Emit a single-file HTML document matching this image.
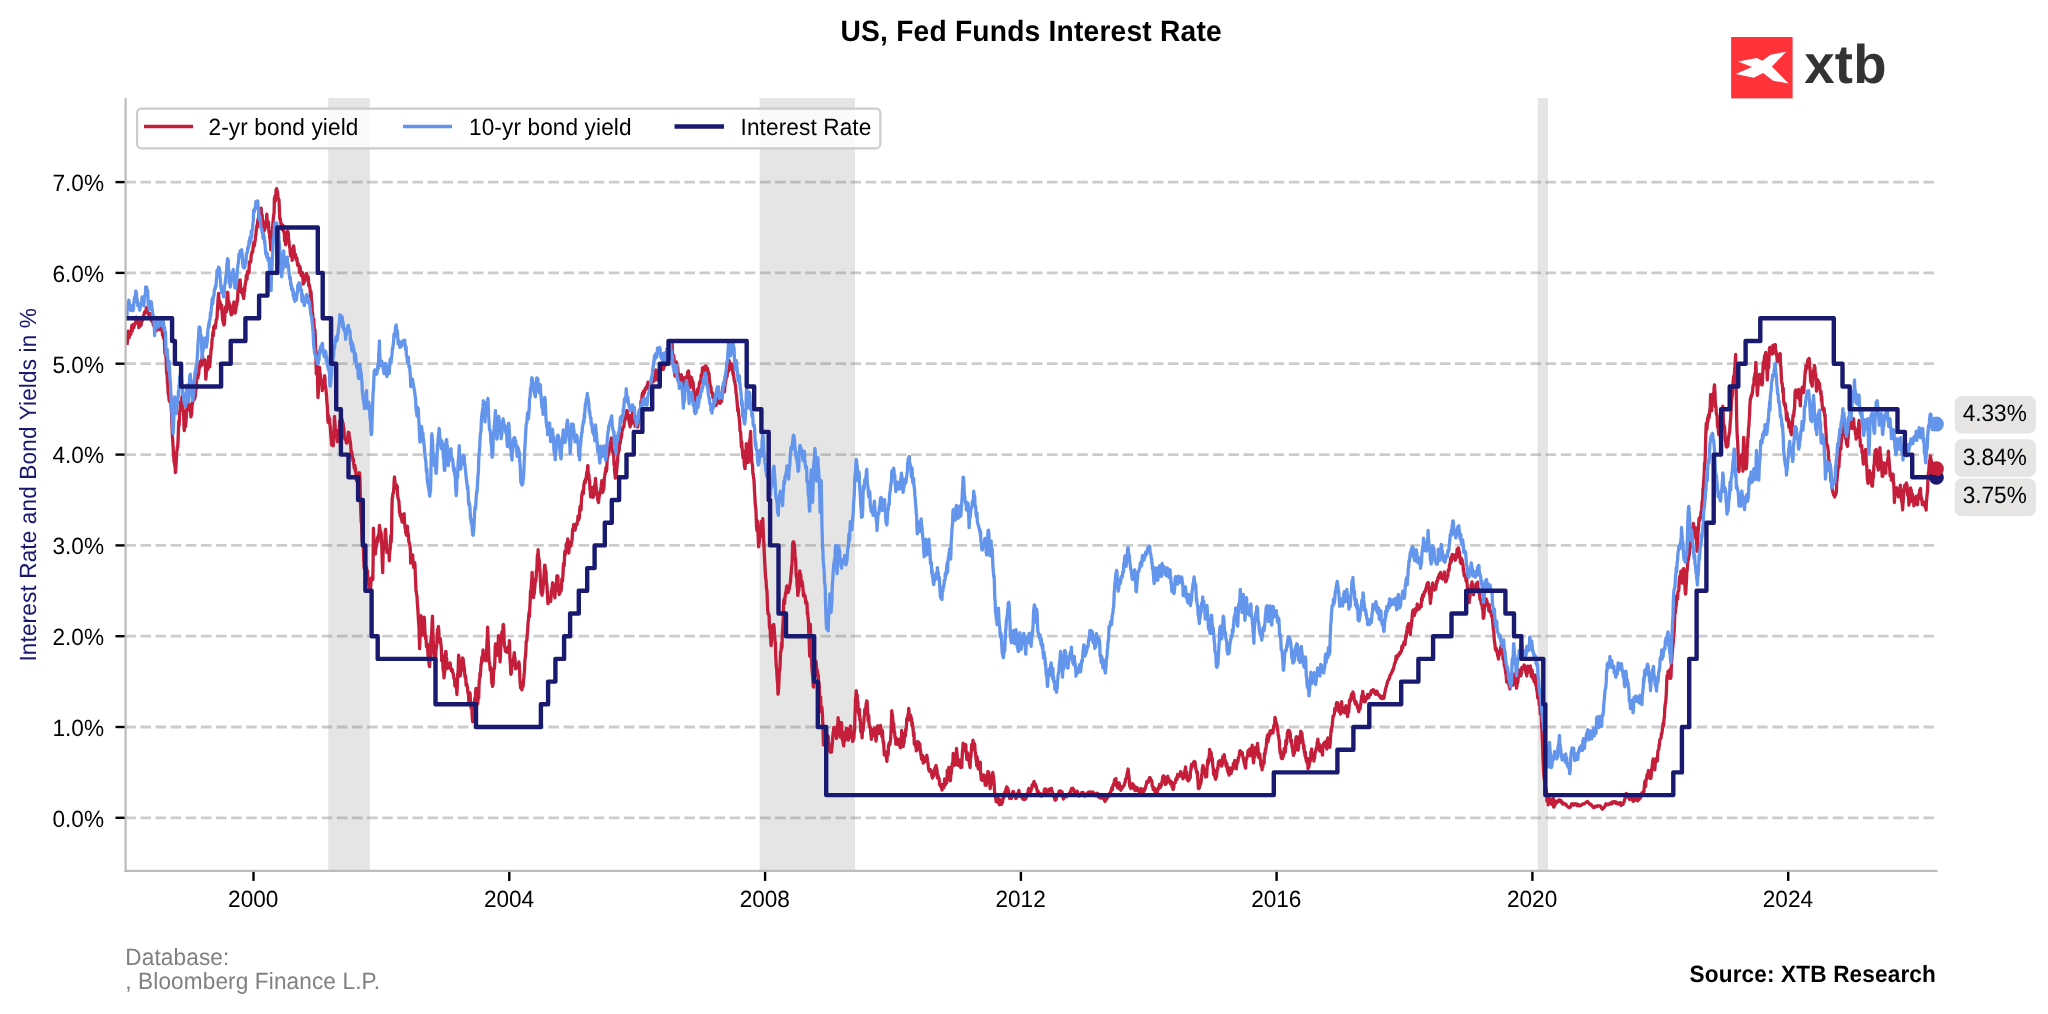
<!DOCTYPE html>
<html lang="en"><head><meta charset="utf-8"><title>US, Fed Funds Interest Rate</title>
<style>
html,body{margin:0;padding:0;background:#fff;}
body{width:2048px;height:1014px;overflow:hidden;position:relative;font-family:"Liberation Sans", Arial, Helvetica, sans-serif;}
svg{position:absolute;left:0;top:0;will-change:transform;}
text{font-family:"Liberation Sans", Arial, Helvetica, sans-serif;text-rendering:geometricPrecision;}
</style></head><body>
<svg width="2048" height="1014" viewBox="0 0 2048 1014">
<rect width="2048" height="1014" fill="#ffffff"/>
<rect x="328.2" y="98.0" width="41.6" height="772.9" fill="#e5e5e5"/>
<rect x="759.6" y="98.0" width="95.4" height="772.9" fill="#e5e5e5"/>
<rect x="1537.6" y="98.0" width="10.4" height="772.9" fill="#e5e5e5"/>
<line x1="125.3" x2="1935.0" y1="817.8" y2="817.8" stroke="#808080" stroke-opacity="0.4" stroke-width="2.8" stroke-dasharray="10.55 4.56"/>
<line x1="125.3" x2="1935.0" y1="727.0" y2="727.0" stroke="#808080" stroke-opacity="0.4" stroke-width="2.8" stroke-dasharray="10.55 4.56"/>
<line x1="125.3" x2="1935.0" y1="636.2" y2="636.2" stroke="#808080" stroke-opacity="0.4" stroke-width="2.8" stroke-dasharray="10.55 4.56"/>
<line x1="125.3" x2="1935.0" y1="545.4" y2="545.4" stroke="#808080" stroke-opacity="0.4" stroke-width="2.8" stroke-dasharray="10.55 4.56"/>
<line x1="125.3" x2="1935.0" y1="454.6" y2="454.6" stroke="#808080" stroke-opacity="0.4" stroke-width="2.8" stroke-dasharray="10.55 4.56"/>
<line x1="125.3" x2="1935.0" y1="363.7" y2="363.7" stroke="#808080" stroke-opacity="0.4" stroke-width="2.8" stroke-dasharray="10.55 4.56"/>
<line x1="125.3" x2="1935.0" y1="272.9" y2="272.9" stroke="#808080" stroke-opacity="0.4" stroke-width="2.8" stroke-dasharray="10.55 4.56"/>
<line x1="125.3" x2="1935.0" y1="182.1" y2="182.1" stroke="#808080" stroke-opacity="0.4" stroke-width="2.8" stroke-dasharray="10.55 4.56"/>
<circle cx="1936.4" cy="477.3" r="7.5" fill="#191970"/>
<circle cx="1936.4" cy="468.8" r="7.5" fill="#c41e3a"/>
<circle cx="1936.4" cy="424.1" r="7.5" fill="#6495ed"/>
<g fill="none" stroke-linejoin="round" stroke-linecap="butt">
<path d="M126.9 345.0 L127.2 342.9 L127.6 340.4 L127.9 333.3 L128.2 331.1 L128.6 333.4 L128.9 335.4 L129.2 337.5 L129.5 333.6 L129.9 332.4 L130.2 334.5 L130.5 333.5 L130.9 334.1 L131.2 332.0 L131.5 328.1 L131.9 325.5 L132.2 331.2 L132.5 327.4 L132.8 325.5 L133.2 324.5 L133.5 326.9 L133.8 327.8 L134.2 325.7 L134.5 324.7 L134.8 324.1 L135.2 323.8 L135.5 323.6 L135.8 321.1 L136.1 317.1 L136.5 320.8 L136.8 318.1 L137.1 319.8 L137.5 318.0 L137.8 320.4 L138.1 319.8 L138.5 321.6 L138.8 327.6 L139.1 324.2 L139.4 325.2 L139.8 322.2 L140.1 323.6 L140.4 326.1 L140.8 325.7 L141.1 324.8 L141.4 323.3 L141.8 320.3 L142.1 320.8 L142.4 317.9 L142.7 320.3 L143.1 316.7 L143.4 316.8 L143.7 315.1 L144.1 315.0 L144.4 312.4 L144.7 313.0 L145.1 311.4 L145.4 312.2 L145.7 311.2 L146.0 309.8 L146.4 307.7 L146.7 309.0 L147.0 310.1 L147.4 312.7 L147.7 311.5 L148.0 313.0 L148.4 314.1 L148.7 314.8 L149.0 314.9 L149.3 315.1 L149.7 314.3 L150.0 313.6 L150.3 314.6 L150.7 316.8 L151.0 319.9 L151.3 320.2 L151.7 320.9 L152.0 321.1 L152.3 321.8 L152.6 321.1 L153.0 322.4 L153.3 325.3 L153.6 321.8 L154.0 319.7 L154.3 326.4 L154.6 324.1 L155.0 325.7 L155.3 326.2 L155.6 321.3 L155.9 329.6 L156.3 330.7 L156.6 327.1 L156.9 327.8 L157.3 326.7 L157.6 323.8 L157.9 324.9 L158.3 326.5 L158.6 329.0 L158.9 328.7 L159.2 326.8 L159.6 329.7 L159.9 325.0 L160.2 327.7 L160.6 329.6 L160.9 327.0 L161.2 322.7 L161.6 324.2 L161.9 328.2 L162.2 330.6 L162.5 335.1 L162.9 331.2 L163.2 334.2 L163.5 338.1 L163.9 338.6 L164.2 334.2 L164.5 343.3 L164.9 352.7 L165.2 354.4 L165.5 352.1 L165.8 355.1 L166.2 360.1 L166.5 371.4 L166.8 373.2 L167.2 375.7 L167.5 383.7 L167.8 385.0 L168.2 393.8 L168.5 393.0 L168.8 396.6 L169.1 400.0 L169.5 401.3 L169.8 398.7 L170.1 395.9 L170.5 392.3 L170.8 399.6 L171.1 406.3 L171.5 412.8 L171.8 422.2 L172.1 427.3 L172.4 436.4 L172.8 441.9 L173.1 447.1 L173.4 452.7 L173.8 457.3 L174.1 462.2 L174.4 462.5 L174.8 465.7 L175.1 466.1 L175.4 472.6 L175.7 470.8 L176.1 463.4 L176.4 458.0 L176.7 451.8 L177.1 450.4 L177.4 446.6 L177.7 447.5 L178.1 439.3 L178.4 431.1 L178.7 421.4 L179.0 425.9 L179.4 421.1 L179.7 412.0 L180.0 410.7 L180.4 402.1 L180.7 409.9 L181.0 402.6 L181.4 400.2 L181.7 400.0 L182.0 396.4 L182.3 402.5 L182.7 402.2 L183.0 411.3 L183.3 410.0 L183.7 416.0 L184.0 426.6 L184.3 430.7 L184.7 423.6 L185.0 420.2 L185.3 425.2 L185.6 426.3 L186.0 421.4 L186.3 417.1 L186.6 411.8 L187.0 405.2 L187.3 401.0 L187.6 404.3 L188.0 405.2 L188.3 409.8 L188.6 406.0 L188.9 405.3 L189.3 403.7 L189.6 406.5 L189.9 405.1 L190.3 404.4 L190.6 411.7 L190.9 416.8 L191.3 415.1 L191.6 414.2 L191.9 409.6 L192.2 404.2 L192.6 403.3 L192.9 401.7 L193.2 398.8 L193.6 395.9 L193.9 395.2 L194.2 398.4 L194.6 399.3 L194.9 395.2 L195.2 397.0 L195.5 392.1 L195.9 389.6 L196.2 388.5 L196.5 380.6 L196.9 374.5 L197.2 378.7 L197.5 375.0 L197.9 378.1 L198.2 375.3 L198.5 375.1 L198.8 373.3 L199.2 364.2 L199.5 368.0 L199.8 364.4 L200.2 362.1 L200.5 361.3 L200.8 363.3 L201.2 364.6 L201.5 365.5 L201.8 358.7 L202.1 359.7 L202.5 355.3 L202.8 360.2 L203.1 363.3 L203.5 360.4 L203.8 362.1 L204.1 362.4 L204.5 364.4 L204.8 360.0 L205.1 363.1 L205.4 367.7 L205.8 379.2 L206.1 376.6 L206.4 369.9 L206.8 366.4 L207.1 367.3 L207.4 369.0 L207.8 369.4 L208.1 365.5 L208.4 359.4 L208.7 356.7 L209.1 365.0 L209.4 366.2 L209.7 366.8 L210.1 361.7 L210.4 358.0 L210.7 354.8 L211.1 349.7 L211.4 348.5 L211.7 346.4 L212.0 341.2 L212.4 337.7 L212.7 334.2 L213.0 332.1 L213.4 335.6 L213.7 326.8 L214.0 328.6 L214.4 327.0 L214.7 325.4 L215.0 326.0 L215.3 328.0 L215.7 324.9 L216.0 322.4 L216.3 319.5 L216.7 318.9 L217.0 318.3 L217.3 312.1 L217.7 305.6 L218.0 300.9 L218.3 297.3 L218.6 293.3 L219.0 300.7 L219.3 301.6 L219.6 301.0 L220.0 306.1 L220.3 302.6 L220.6 306.1 L221.0 309.0 L221.3 304.9 L221.6 305.1 L221.9 308.2 L222.3 315.4 L222.6 320.1 L222.9 316.6 L223.3 323.4 L223.6 323.3 L223.9 325.0 L224.3 324.7 L224.6 321.3 L224.9 313.7 L225.2 310.9 L225.6 307.0 L225.9 308.5 L226.2 311.2 L226.6 311.6 L226.9 301.5 L227.2 292.6 L227.6 292.3 L227.9 293.4 L228.2 302.9 L228.5 303.4 L228.9 301.4 L229.2 306.7 L229.5 308.5 L229.9 304.4 L230.2 307.2 L230.5 310.0 L230.9 312.7 L231.2 314.9 L231.5 314.7 L231.8 313.8 L232.2 310.1 L232.5 306.7 L232.8 310.8 L233.2 307.5 L233.5 306.2 L233.8 302.0 L234.2 305.5 L234.5 310.1 L234.8 306.8 L235.1 313.1 L235.5 311.0 L235.8 310.0 L236.1 306.7 L236.5 305.0 L236.8 305.5 L237.1 299.8 L237.5 301.5 L237.8 293.5 L238.1 288.7 L238.4 289.5 L238.8 282.9 L239.1 280.7 L239.4 282.8 L239.8 286.0 L240.1 279.9 L240.4 285.1 L240.8 291.3 L241.1 292.2 L241.4 289.7 L241.7 289.2 L242.1 291.0 L242.4 290.4 L242.7 293.8 L243.1 296.1 L243.4 296.8 L243.7 298.5 L244.1 293.8 L244.4 287.7 L244.7 291.2 L245.0 285.2 L245.4 283.6 L245.7 282.2 L246.0 279.7 L246.4 275.5 L246.7 274.7 L247.0 279.3 L247.4 272.3 L247.7 271.3 L248.0 273.9 L248.3 273.2 L248.7 272.6 L249.0 272.2 L249.3 263.3 L249.7 261.7 L250.0 262.3 L250.3 261.8 L250.7 262.2 L251.0 258.5 L251.3 254.4 L251.6 253.5 L252.0 251.9 L252.3 251.9 L252.6 252.4 L253.0 249.1 L253.3 245.7 L253.6 243.0 L254.0 246.0 L254.3 246.0 L254.6 243.9 L254.9 241.5 L255.3 239.5 L255.6 235.6 L255.9 235.0 L256.3 229.1 L256.6 228.4 L256.9 225.7 L257.3 227.1 L257.6 222.0 L257.9 219.9 L258.2 218.8 L258.6 219.1 L258.9 211.7 L259.2 208.7 L259.6 213.0 L259.9 209.3 L260.2 212.4 L260.6 210.8 L260.9 211.6 L261.2 208.2 L261.5 215.1 L261.9 215.0 L262.2 214.9 L262.5 223.9 L262.9 224.0 L263.2 232.2 L263.5 227.1 L263.9 224.2 L264.2 225.2 L264.5 230.2 L264.8 228.1 L265.2 227.8 L265.5 226.4 L265.8 221.0 L266.2 221.0 L266.5 218.2 L266.8 214.2 L267.2 220.0 L267.5 223.3 L267.8 224.3 L268.1 223.6 L268.5 222.0 L268.8 229.9 L269.1 232.9 L269.5 232.0 L269.8 238.4 L270.1 238.7 L270.5 245.1 L270.8 249.8 L271.1 248.9 L271.4 244.5 L271.8 240.1 L272.1 232.2 L272.4 228.9 L272.8 224.6 L273.1 220.8 L273.4 217.7 L273.8 214.5 L274.1 213.0 L274.4 198.1 L274.7 198.3 L275.1 196.0 L275.4 201.2 L275.7 198.3 L276.1 189.6 L276.4 191.5 L276.7 188.7 L277.1 193.5 L277.4 191.1 L277.7 194.3 L278.0 196.5 L278.4 198.7 L278.7 199.4 L279.0 199.8 L279.4 209.5 L279.7 217.2 L280.0 219.9 L280.4 219.1 L280.7 222.0 L281.0 224.3 L281.3 223.5 L281.7 224.1 L282.0 229.5 L282.3 225.7 L282.7 227.3 L283.0 225.5 L283.3 229.4 L283.7 231.7 L284.0 232.2 L284.3 233.4 L284.6 240.9 L285.0 238.3 L285.3 238.2 L285.6 244.8 L286.0 239.8 L286.3 233.0 L286.6 236.0 L287.0 232.7 L287.3 237.8 L287.6 231.0 L287.9 233.2 L288.3 233.1 L288.6 239.5 L288.9 240.3 L289.3 244.9 L289.6 247.3 L289.9 248.0 L290.3 253.3 L290.6 255.8 L290.9 255.1 L291.2 253.3 L291.6 253.3 L291.9 255.3 L292.2 260.3 L292.6 253.6 L292.9 250.0 L293.2 248.2 L293.6 245.9 L293.9 247.4 L294.2 250.7 L294.5 256.7 L294.9 256.3 L295.2 256.1 L295.5 254.4 L295.9 258.7 L296.2 259.8 L296.5 257.7 L296.9 257.9 L297.2 260.9 L297.5 264.9 L297.8 265.6 L298.2 265.2 L298.5 264.2 L298.8 266.0 L299.2 266.2 L299.5 272.5 L299.8 266.4 L300.2 267.3 L300.5 272.6 L300.8 270.8 L301.1 275.5 L301.5 273.7 L301.8 274.6 L302.1 274.5 L302.5 272.7 L302.8 274.1 L303.1 284.0 L303.5 283.6 L303.8 282.3 L304.1 282.4 L304.4 280.9 L304.8 281.3 L305.1 277.4 L305.4 276.0 L305.8 279.2 L306.1 276.7 L306.4 273.4 L306.8 275.5 L307.1 275.4 L307.4 278.7 L307.7 277.2 L308.1 276.6 L308.4 279.2 L308.7 285.8 L309.1 284.3 L309.4 285.4 L309.7 286.9 L310.1 289.5 L310.4 293.3 L310.7 297.1 L311.0 291.5 L311.4 299.6 L311.7 301.6 L312.0 304.2 L312.4 314.8 L312.7 313.0 L313.0 320.1 L313.4 321.7 L313.7 319.0 L314.0 324.3 L314.3 328.9 L314.7 331.7 L315.0 329.8 L315.3 339.1 L315.7 351.3 L316.0 360.0 L316.3 374.0 L316.7 362.5 L317.0 352.9 L317.3 353.5 L317.6 383.3 L318.0 397.5 L318.3 392.7 L318.6 386.8 L319.0 377.9 L319.3 371.4 L319.6 367.3 L320.0 373.9 L320.3 374.2 L320.6 378.6 L320.9 378.6 L321.3 381.4 L321.6 384.4 L321.9 381.5 L322.3 390.6 L322.6 386.8 L322.9 385.8 L323.3 383.3 L323.6 387.2 L323.9 386.7 L324.2 382.4 L324.6 375.6 L324.9 377.7 L325.2 385.1 L325.6 387.3 L325.9 389.2 L326.2 392.4 L326.6 396.6 L326.9 402.2 L327.2 404.5 L327.5 409.2 L327.9 420.4 L328.2 422.4 L328.5 415.6 L328.9 417.9 L329.2 418.4 L329.5 418.6 L329.9 424.6 L330.2 426.5 L330.5 430.4 L330.8 434.7 L331.2 438.8 L331.5 444.0 L331.8 445.1 L332.2 440.7 L332.5 442.7 L332.8 443.3 L333.2 445.8 L333.5 439.6 L333.8 435.5 L334.1 427.7 L334.5 416.4 L334.8 421.3 L335.1 425.8 L335.5 430.6 L335.8 429.8 L336.1 434.8 L336.5 434.8 L336.8 435.7 L337.1 439.7 L337.4 441.8 L337.8 440.1 L338.1 436.3 L338.4 430.3 L338.8 431.5 L339.1 434.3 L339.4 430.0 L339.8 420.7 L340.1 420.7 L340.4 424.0 L340.7 427.9 L341.1 427.2 L341.4 424.4 L341.7 422.7 L342.1 419.4 L342.4 421.2 L342.7 423.0 L343.1 423.3 L343.4 426.5 L343.7 427.2 L344.0 430.8 L344.4 436.6 L344.7 438.1 L345.0 439.3 L345.4 439.5 L345.7 437.8 L346.0 440.9 L346.4 442.8 L346.7 438.8 L347.0 443.1 L347.3 439.7 L347.7 440.1 L348.0 437.2 L348.3 432.2 L348.7 438.2 L349.0 432.6 L349.3 438.6 L349.7 438.1 L350.0 441.8 L350.3 441.6 L350.6 444.2 L351.0 450.0 L351.3 455.8 L351.6 451.4 L352.0 453.8 L352.3 458.4 L352.6 457.0 L353.0 461.1 L353.3 459.2 L353.6 463.2 L353.9 464.9 L354.3 468.4 L354.6 468.1 L354.9 465.3 L355.3 470.8 L355.6 469.1 L355.9 475.0 L356.3 480.1 L356.6 480.6 L356.9 477.4 L357.2 480.4 L357.6 478.2 L357.9 473.4 L358.2 473.9 L358.6 478.5 L358.9 474.8 L359.2 474.5 L359.6 472.8 L359.9 476.7 L360.2 489.8 L360.5 503.9 L360.9 515.5 L361.2 522.5 L361.5 522.0 L361.9 534.4 L362.2 540.4 L362.5 542.5 L362.9 542.5 L363.2 543.0 L363.5 550.6 L363.8 560.9 L364.2 568.3 L364.5 562.8 L364.8 565.0 L365.2 564.8 L365.5 568.7 L365.8 572.7 L366.2 569.6 L366.5 567.1 L366.8 571.1 L367.1 572.5 L367.5 570.8 L367.8 577.9 L368.1 577.4 L368.5 581.6 L368.8 578.7 L369.1 585.5 L369.5 581.9 L369.8 588.6 L370.1 584.1 L370.4 590.6 L370.8 585.4 L371.1 578.9 L371.4 578.8 L371.8 579.9 L372.1 577.0 L372.4 577.4 L372.8 579.6 L373.1 561.7 L373.4 528.2 L373.7 536.7 L374.1 548.0 L374.4 552.0 L374.7 552.9 L375.1 547.8 L375.4 554.0 L375.7 550.3 L376.1 546.7 L376.4 546.6 L376.7 545.1 L377.0 541.3 L377.4 537.6 L377.7 541.5 L378.0 541.2 L378.4 535.1 L378.7 535.6 L379.0 533.6 L379.4 525.4 L379.7 527.1 L380.0 529.8 L380.3 530.4 L380.7 535.6 L381.0 532.4 L381.3 534.9 L381.7 544.5 L382.0 554.1 L382.3 562.7 L382.7 572.7 L383.0 558.2 L383.3 546.6 L383.6 549.1 L384.0 548.3 L384.3 547.1 L384.6 547.1 L385.0 539.4 L385.3 529.6 L385.6 529.3 L386.0 537.8 L386.3 541.5 L386.6 544.8 L386.9 552.4 L387.3 551.3 L387.6 552.2 L387.9 551.0 L388.3 550.0 L388.6 551.9 L388.9 551.7 L389.3 560.8 L389.6 553.8 L389.9 550.7 L390.2 549.0 L390.6 539.4 L390.9 535.4 L391.2 542.0 L391.6 531.3 L391.9 510.2 L392.2 497.7 L392.6 497.1 L392.9 493.4 L393.2 493.6 L393.5 492.6 L393.9 486.4 L394.2 480.1 L394.5 476.8 L394.9 481.0 L395.2 485.1 L395.5 484.9 L395.9 485.1 L396.2 486.2 L396.5 484.9 L396.8 489.5 L397.2 486.1 L397.5 493.3 L397.8 496.8 L398.2 498.7 L398.5 500.0 L398.8 500.5 L399.2 505.8 L399.5 512.3 L399.8 511.7 L400.1 515.5 L400.5 514.1 L400.8 517.0 L401.1 515.5 L401.5 519.6 L401.8 520.2 L402.1 522.1 L402.5 518.3 L402.8 514.5 L403.1 514.5 L403.4 517.0 L403.8 518.0 L404.1 513.6 L404.4 519.8 L404.8 524.8 L405.1 528.4 L405.4 527.5 L405.8 533.2 L406.1 530.5 L406.4 535.2 L406.7 535.4 L407.1 534.8 L407.4 526.1 L407.7 532.1 L408.1 536.4 L408.4 534.0 L408.7 540.9 L409.1 542.2 L409.4 543.6 L409.7 544.3 L410.0 546.1 L410.4 550.4 L410.7 563.2 L411.0 561.6 L411.4 562.7 L411.7 559.1 L412.0 557.5 L412.4 556.6 L412.7 554.8 L413.0 561.6 L413.3 562.4 L413.7 567.4 L414.0 565.3 L414.3 567.5 L414.7 562.7 L415.0 565.8 L415.3 574.8 L415.7 582.8 L416.0 591.1 L416.3 591.5 L416.6 594.7 L417.0 596.0 L417.3 602.5 L417.6 606.0 L418.0 611.9 L418.3 617.6 L418.6 622.5 L419.0 627.4 L419.3 639.0 L419.6 648.7 L419.9 640.9 L420.3 628.0 L420.6 623.2 L420.9 615.6 L421.3 617.6 L421.6 622.1 L421.9 624.3 L422.3 629.3 L422.6 635.2 L422.9 629.5 L423.2 623.6 L423.6 623.6 L423.9 622.7 L424.2 617.1 L424.6 623.0 L424.9 631.1 L425.2 634.5 L425.6 638.9 L425.9 636.3 L426.2 642.0 L426.5 646.7 L426.9 643.5 L427.2 643.9 L427.5 645.3 L427.9 653.5 L428.2 656.1 L428.5 656.7 L428.9 663.1 L429.2 665.2 L429.5 666.7 L429.8 662.2 L430.2 657.5 L430.5 652.5 L430.8 640.7 L431.2 638.4 L431.5 635.9 L431.8 630.4 L432.2 620.5 L432.5 616.2 L432.8 628.0 L433.1 637.2 L433.5 646.0 L433.8 654.1 L434.1 655.8 L434.5 654.9 L434.8 651.5 L435.1 658.1 L435.5 663.8 L435.8 654.4 L436.1 648.9 L436.4 647.7 L436.8 643.9 L437.1 635.9 L437.4 633.0 L437.8 628.8 L438.1 633.5 L438.4 626.5 L438.8 630.9 L439.1 636.2 L439.4 638.9 L439.7 639.6 L440.1 642.5 L440.4 638.7 L440.7 642.6 L441.1 645.4 L441.4 649.8 L441.7 660.6 L442.1 654.4 L442.4 660.5 L442.7 659.4 L443.0 667.6 L443.4 671.7 L443.7 669.9 L444.0 677.9 L444.4 674.4 L444.7 671.7 L445.0 664.7 L445.4 656.8 L445.7 651.5 L446.0 651.5 L446.3 656.9 L446.7 659.6 L447.0 668.6 L447.3 666.2 L447.7 665.4 L448.0 665.4 L448.3 666.3 L448.7 665.2 L449.0 664.2 L449.3 667.8 L449.6 665.5 L450.0 663.0 L450.3 663.8 L450.6 667.7 L451.0 668.8 L451.3 670.7 L451.6 668.9 L452.0 670.1 L452.3 669.9 L452.6 672.6 L452.9 672.5 L453.3 674.5 L453.6 676.6 L453.9 678.0 L454.3 679.2 L454.6 679.9 L454.9 685.9 L455.3 684.2 L455.6 682.8 L455.9 687.3 L456.2 687.2 L456.6 689.1 L456.9 694.5 L457.2 688.2 L457.6 674.4 L457.9 673.7 L458.2 669.6 L458.6 655.2 L458.9 657.0 L459.2 667.1 L459.5 667.6 L459.9 675.0 L460.2 676.0 L460.5 675.2 L460.9 667.9 L461.2 671.1 L461.5 667.0 L461.9 666.3 L462.2 664.0 L462.5 657.8 L462.8 660.6 L463.2 659.1 L463.5 664.1 L463.8 664.6 L464.2 667.6 L464.5 670.2 L464.8 675.0 L465.2 677.8 L465.5 675.3 L465.8 678.6 L466.1 684.9 L466.5 685.6 L466.8 683.9 L467.1 686.2 L467.5 687.4 L467.8 692.4 L468.1 692.6 L468.5 694.7 L468.8 701.4 L469.1 694.6 L469.4 694.2 L469.8 692.8 L470.1 693.4 L470.4 700.9 L470.8 702.3 L471.1 708.2 L471.4 702.7 L471.8 706.0 L472.1 715.3 L472.4 719.1 L472.7 721.9 L473.1 720.5 L473.4 714.6 L473.7 710.2 L474.1 706.4 L474.4 704.9 L474.7 699.2 L475.1 697.5 L475.4 698.8 L475.7 691.0 L476.0 688.3 L476.4 691.9 L476.7 693.1 L477.0 695.5 L477.4 704.0 L477.7 703.7 L478.0 698.5 L478.4 697.6 L478.7 698.2 L479.0 685.8 L479.3 680.3 L479.7 678.2 L480.0 673.0 L480.3 676.3 L480.7 670.2 L481.0 664.6 L481.3 664.0 L481.7 659.1 L482.0 656.7 L482.3 656.5 L482.6 661.1 L483.0 650.0 L483.3 653.7 L483.6 657.1 L484.0 656.2 L484.3 658.9 L484.6 655.5 L485.0 654.7 L485.3 654.7 L485.6 653.6 L485.9 660.8 L486.3 656.3 L486.6 651.2 L486.9 644.4 L487.3 637.3 L487.6 627.1 L487.9 634.7 L488.3 643.4 L488.6 650.4 L488.9 658.7 L489.2 662.6 L489.6 662.7 L489.9 666.7 L490.2 670.2 L490.6 668.4 L490.9 667.6 L491.2 670.2 L491.6 679.0 L491.9 683.6 L492.2 682.1 L492.5 686.4 L492.9 685.3 L493.2 683.0 L493.5 674.0 L493.9 669.4 L494.2 669.2 L494.5 667.5 L494.9 660.7 L495.2 647.6 L495.5 643.9 L495.8 644.7 L496.2 647.8 L496.5 649.1 L496.8 652.0 L497.2 655.1 L497.5 655.2 L497.8 648.6 L498.2 642.3 L498.5 635.7 L498.8 637.2 L499.1 642.4 L499.5 651.0 L499.8 655.7 L500.1 661.8 L500.5 654.0 L500.8 647.9 L501.1 638.8 L501.5 638.5 L501.8 632.0 L502.1 637.4 L502.4 631.8 L502.8 630.5 L503.1 625.1 L503.4 624.4 L503.8 629.4 L504.1 640.4 L504.4 645.4 L504.8 647.1 L505.1 648.2 L505.4 651.3 L505.7 650.4 L506.1 647.8 L506.4 651.0 L506.7 651.0 L507.1 652.3 L507.4 651.4 L507.7 651.8 L508.1 652.0 L508.4 646.6 L508.7 649.3 L509.0 647.9 L509.4 640.7 L509.7 650.2 L510.0 660.1 L510.4 665.0 L510.7 673.6 L511.0 674.2 L511.4 672.4 L511.7 667.5 L512.0 666.0 L512.3 661.9 L512.7 660.4 L513.0 660.7 L513.3 659.2 L513.7 658.1 L514.0 654.4 L514.3 652.7 L514.7 657.3 L515.0 658.5 L515.3 665.2 L515.6 668.8 L516.0 668.4 L516.3 663.8 L516.6 665.2 L517.0 667.8 L517.3 664.9 L517.6 666.7 L518.0 667.0 L518.3 666.8 L518.6 664.4 L518.9 661.9 L519.3 664.9 L519.6 670.6 L519.9 678.9 L520.3 684.8 L520.6 687.8 L520.9 688.1 L521.3 688.2 L521.6 688.6 L521.9 689.8 L522.2 688.9 L522.6 682.2 L522.9 686.7 L523.2 685.6 L523.6 679.4 L523.9 677.4 L524.2 673.4 L524.6 668.6 L524.9 659.6 L525.2 658.3 L525.5 655.8 L525.9 650.2 L526.2 641.3 L526.5 641.8 L526.9 640.0 L527.2 635.4 L527.5 632.1 L527.9 626.4 L528.2 621.2 L528.5 620.2 L528.8 614.9 L529.2 612.0 L529.5 616.4 L529.8 608.0 L530.2 601.1 L530.5 591.4 L530.8 590.4 L531.2 589.3 L531.5 582.4 L531.8 578.9 L532.1 572.4 L532.5 582.0 L532.8 584.4 L533.1 591.2 L533.5 597.6 L533.8 594.7 L534.1 594.4 L534.5 590.7 L534.8 586.8 L535.1 583.5 L535.4 578.9 L535.8 581.2 L536.1 578.8 L536.4 571.0 L536.8 570.5 L537.1 562.6 L537.4 554.9 L537.8 556.5 L538.1 549.7 L538.4 556.5 L538.7 557.0 L539.1 560.2 L539.4 561.3 L539.7 567.9 L540.1 573.3 L540.4 580.5 L540.7 586.7 L541.1 592.8 L541.4 589.7 L541.7 592.8 L542.0 595.3 L542.4 592.1 L542.7 592.7 L543.0 588.2 L543.4 583.5 L543.7 580.3 L544.0 574.5 L544.4 568.0 L544.7 565.2 L545.0 565.5 L545.3 569.5 L545.7 574.1 L546.0 571.1 L546.3 581.0 L546.7 583.4 L547.0 586.3 L547.3 591.9 L547.7 599.4 L548.0 603.7 L548.3 600.9 L548.6 601.5 L549.0 597.0 L549.3 600.3 L549.6 600.6 L550.0 598.7 L550.3 600.1 L550.6 601.5 L551.0 598.5 L551.3 591.4 L551.6 594.0 L551.9 588.4 L552.3 586.2 L552.6 582.7 L552.9 585.5 L553.3 588.7 L553.6 590.3 L553.9 591.4 L554.3 593.5 L554.6 595.1 L554.9 597.9 L555.2 592.5 L555.6 590.1 L555.9 587.5 L556.2 583.6 L556.6 581.8 L556.9 575.9 L557.2 577.2 L557.6 575.9 L557.9 576.2 L558.2 585.3 L558.5 585.0 L558.9 591.9 L559.2 594.5 L559.5 591.1 L559.9 590.3 L560.2 592.5 L560.5 590.4 L560.9 589.2 L561.2 590.6 L561.5 586.7 L561.8 579.3 L562.2 578.5 L562.5 581.2 L562.8 576.9 L563.2 570.3 L563.5 563.3 L563.8 564.8 L564.2 565.7 L564.5 557.7 L564.8 551.5 L565.1 555.3 L565.5 552.3 L565.8 550.7 L566.1 548.7 L566.5 543.7 L566.8 543.3 L567.1 542.5 L567.5 541.7 L567.8 539.0 L568.1 542.5 L568.4 546.0 L568.8 553.0 L569.1 549.0 L569.4 547.2 L569.8 543.4 L570.1 542.1 L570.4 542.6 L570.8 546.1 L571.1 543.2 L571.4 543.5 L571.7 541.4 L572.1 539.6 L572.4 533.8 L572.7 528.8 L573.1 529.1 L573.4 527.6 L573.7 524.5 L574.1 526.4 L574.4 528.6 L574.7 528.0 L575.0 530.0 L575.4 528.9 L575.7 525.2 L576.0 524.8 L576.4 523.7 L576.7 524.9 L577.0 524.8 L577.4 521.5 L577.7 521.7 L578.0 516.1 L578.3 516.0 L578.7 519.7 L579.0 517.6 L579.3 518.1 L579.7 510.1 L580.0 507.1 L580.3 506.3 L580.7 509.3 L581.0 510.0 L581.3 502.6 L581.6 497.8 L582.0 494.6 L582.3 492.3 L582.6 493.8 L583.0 490.4 L583.3 493.8 L583.6 490.3 L584.0 484.1 L584.3 483.2 L584.6 481.2 L584.9 482.5 L585.3 482.6 L585.6 478.6 L585.9 479.6 L586.3 477.5 L586.6 473.7 L586.9 472.1 L587.3 471.4 L587.6 467.1 L587.9 465.6 L588.2 473.1 L588.6 474.0 L588.9 474.6 L589.2 480.1 L589.6 480.6 L589.9 488.3 L590.2 490.3 L590.6 496.8 L590.9 495.2 L591.2 494.6 L591.5 496.9 L591.9 493.1 L592.2 487.5 L592.5 494.5 L592.9 491.7 L593.2 497.4 L593.5 494.9 L593.9 490.1 L594.2 493.9 L594.5 486.5 L594.8 484.8 L595.2 482.9 L595.5 478.5 L595.8 484.1 L596.2 486.7 L596.5 493.2 L596.8 494.9 L597.2 492.7 L597.5 496.4 L597.8 500.3 L598.1 499.6 L598.5 502.6 L598.8 499.2 L599.1 496.8 L599.5 495.2 L599.8 492.1 L600.1 492.1 L600.5 490.4 L600.8 488.7 L601.1 486.9 L601.4 483.9 L601.8 480.6 L602.1 487.3 L602.4 492.5 L602.8 491.6 L603.1 491.5 L603.4 489.1 L603.8 489.1 L604.1 484.3 L604.4 477.3 L604.7 476.0 L605.1 473.1 L605.4 472.5 L605.7 469.4 L606.1 467.4 L606.4 471.2 L606.7 469.5 L607.1 460.4 L607.4 457.6 L607.7 456.8 L608.0 455.2 L608.4 450.7 L608.7 453.9 L609.0 446.8 L609.4 449.7 L609.7 449.4 L610.0 445.4 L610.4 442.3 L610.7 442.0 L611.0 441.1 L611.3 437.8 L611.7 441.1 L612.0 448.8 L612.3 451.4 L612.7 452.2 L613.0 451.6 L613.3 453.1 L613.7 454.2 L614.0 464.7 L614.3 461.5 L614.6 471.1 L615.0 474.6 L615.3 478.2 L615.6 477.1 L616.0 473.0 L616.3 475.3 L616.6 471.3 L617.0 467.0 L617.3 463.4 L617.6 461.2 L617.9 455.0 L618.3 453.3 L618.6 450.3 L618.9 451.0 L619.3 449.4 L619.6 440.7 L619.9 440.7 L620.3 443.2 L620.6 437.0 L620.9 434.4 L621.2 438.4 L621.6 435.4 L621.9 432.5 L622.2 428.5 L622.6 429.8 L622.9 427.1 L623.2 427.4 L623.6 427.0 L623.9 426.7 L624.2 422.9 L624.5 420.4 L624.9 420.2 L625.2 419.0 L625.5 418.4 L625.9 415.6 L626.2 414.4 L626.5 412.2 L626.9 410.5 L627.2 411.0 L627.5 415.5 L627.8 413.6 L628.2 417.2 L628.5 418.8 L628.8 419.8 L629.2 422.7 L629.5 421.5 L629.8 425.3 L630.2 426.8 L630.5 415.6 L630.8 420.6 L631.1 421.4 L631.5 423.6 L631.8 415.6 L632.1 414.7 L632.5 413.7 L632.8 409.0 L633.1 411.3 L633.5 412.7 L633.8 411.8 L634.1 412.1 L634.4 415.4 L634.8 423.8 L635.1 426.3 L635.4 417.4 L635.8 416.8 L636.1 422.8 L636.4 423.4 L636.8 423.0 L637.1 426.2 L637.4 426.6 L637.7 427.0 L638.1 424.2 L638.4 418.4 L638.7 419.9 L639.1 414.6 L639.4 415.6 L639.7 413.8 L640.1 410.7 L640.4 408.8 L640.7 406.7 L641.0 401.0 L641.4 401.3 L641.7 401.6 L642.0 396.2 L642.4 393.5 L642.7 397.1 L643.0 396.8 L643.4 391.1 L643.7 392.6 L644.0 391.2 L644.3 392.9 L644.7 390.5 L645.0 389.8 L645.3 388.3 L645.7 389.5 L646.0 389.0 L646.3 387.3 L646.7 386.9 L647.0 385.6 L647.3 387.2 L647.6 384.3 L648.0 382.2 L648.3 383.4 L648.6 387.9 L649.0 386.9 L649.3 389.1 L649.6 390.4 L650.0 388.7 L650.3 389.5 L650.6 388.5 L650.9 386.6 L651.3 383.8 L651.6 383.7 L651.9 380.6 L652.3 381.3 L652.6 380.4 L652.9 381.7 L653.3 381.4 L653.6 379.0 L653.9 380.6 L654.2 381.0 L654.6 378.2 L654.9 375.2 L655.2 375.9 L655.6 370.0 L655.9 371.2 L656.2 374.3 L656.6 378.1 L656.9 374.4 L657.2 377.5 L657.5 380.1 L657.9 379.9 L658.2 370.7 L658.5 373.8 L658.9 372.0 L659.2 372.2 L659.5 368.9 L659.9 366.4 L660.2 366.4 L660.5 369.8 L660.8 369.2 L661.2 366.4 L661.5 366.8 L661.8 368.1 L662.2 369.2 L662.5 369.0 L662.8 368.4 L663.2 368.9 L663.5 369.3 L663.8 367.7 L664.1 363.9 L664.5 362.1 L664.8 366.0 L665.1 362.0 L665.5 359.6 L665.8 361.2 L666.1 364.3 L666.5 364.2 L666.8 359.6 L667.1 356.2 L667.4 355.6 L667.8 353.9 L668.1 353.5 L668.4 354.9 L668.8 351.2 L669.1 350.0 L669.4 350.1 L669.8 350.0 L670.1 347.5 L670.4 346.0 L670.7 344.6 L671.1 345.7 L671.4 349.4 L671.7 349.0 L672.1 343.0 L672.4 352.1 L672.7 355.0 L673.1 355.8 L673.4 359.1 L673.7 355.3 L674.0 357.9 L674.4 366.7 L674.7 372.9 L675.0 376.0 L675.4 369.0 L675.7 367.4 L676.0 367.8 L676.4 362.0 L676.7 368.0 L677.0 365.4 L677.3 368.4 L677.7 366.9 L678.0 371.2 L678.3 372.9 L678.7 377.3 L679.0 374.8 L679.3 377.9 L679.7 383.0 L680.0 376.7 L680.3 377.7 L680.6 377.7 L681.0 374.9 L681.3 374.8 L681.6 378.9 L682.0 379.8 L682.3 378.9 L682.6 379.1 L683.0 377.7 L683.3 381.8 L683.6 388.6 L683.9 390.5 L684.3 383.8 L684.6 378.5 L684.9 378.8 L685.3 379.7 L685.6 377.5 L685.9 377.0 L686.3 377.8 L686.6 378.7 L686.9 376.8 L687.2 378.2 L687.6 371.9 L687.9 373.9 L688.2 373.9 L688.6 370.9 L688.9 378.1 L689.2 375.5 L689.6 376.6 L689.9 387.7 L690.2 386.7 L690.5 383.3 L690.9 383.7 L691.2 382.4 L691.5 377.5 L691.9 380.1 L692.2 383.3 L692.5 381.3 L692.9 381.7 L693.2 383.4 L693.5 388.8 L693.8 390.1 L694.2 392.7 L694.5 393.3 L694.8 395.1 L695.2 399.2 L695.5 402.2 L695.8 402.3 L696.2 398.0 L696.5 397.8 L696.8 395.7 L697.1 395.1 L697.5 390.5 L697.8 388.9 L698.1 389.9 L698.5 391.8 L698.8 388.3 L699.1 386.1 L699.5 382.6 L699.8 381.8 L700.1 383.4 L700.4 382.8 L700.8 382.4 L701.1 375.3 L701.4 377.8 L701.8 373.8 L702.1 374.9 L702.4 368.0 L702.8 369.7 L703.1 367.6 L703.4 371.0 L703.7 369.2 L704.1 370.7 L704.4 367.1 L704.7 370.3 L705.1 366.1 L705.4 370.3 L705.7 367.3 L706.1 366.1 L706.4 370.0 L706.7 369.2 L707.0 369.9 L707.4 368.1 L707.7 369.6 L708.0 371.3 L708.4 372.0 L708.7 375.6 L709.0 373.4 L709.4 379.9 L709.7 380.9 L710.0 385.7 L710.3 385.4 L710.7 386.1 L711.0 388.0 L711.3 390.5 L711.7 392.7 L712.0 392.4 L712.3 392.5 L712.7 395.6 L713.0 397.8 L713.3 394.6 L713.6 395.5 L714.0 397.1 L714.3 402.7 L714.6 404.4 L715.0 405.0 L715.3 405.5 L715.6 403.5 L716.0 405.5 L716.3 402.8 L716.6 400.7 L716.9 404.0 L717.3 398.7 L717.6 401.4 L717.9 399.6 L718.3 396.6 L718.6 397.2 L718.9 396.3 L719.3 398.1 L719.6 397.5 L719.9 396.7 L720.2 403.4 L720.6 399.9 L720.9 402.0 L721.2 400.6 L721.6 401.4 L721.9 396.0 L722.2 393.8 L722.6 387.0 L722.9 393.0 L723.2 392.5 L723.5 387.7 L723.9 389.4 L724.2 388.3 L724.5 391.9 L724.9 385.7 L725.2 384.0 L725.5 381.7 L725.9 380.0 L726.2 376.9 L726.5 374.2 L726.8 375.3 L727.2 376.3 L727.5 369.2 L727.8 366.2 L728.2 367.2 L728.5 371.3 L728.8 366.3 L729.2 360.5 L729.5 364.8 L729.8 365.4 L730.1 368.2 L730.5 364.3 L730.8 369.0 L731.1 363.7 L731.5 367.2 L731.8 366.9 L732.1 364.1 L732.5 366.7 L732.8 372.6 L733.1 374.7 L733.4 372.4 L733.8 377.1 L734.1 379.3 L734.4 381.3 L734.8 381.8 L735.1 384.6 L735.4 384.7 L735.8 389.1 L736.1 393.3 L736.4 394.3 L736.7 397.7 L737.1 402.0 L737.4 405.4 L737.7 410.6 L738.1 408.1 L738.4 410.9 L738.7 415.2 L739.1 416.5 L739.4 421.0 L739.7 423.1 L740.0 430.8 L740.4 432.0 L740.7 432.4 L741.0 439.8 L741.4 446.9 L741.7 441.6 L742.0 447.1 L742.4 450.6 L742.7 454.5 L743.0 457.6 L743.3 454.7 L743.7 451.4 L744.0 459.2 L744.3 464.8 L744.7 467.3 L745.0 468.7 L745.3 461.0 L745.7 464.0 L746.0 451.6 L746.3 443.6 L746.6 446.7 L747.0 449.4 L747.3 453.3 L747.6 455.7 L748.0 462.0 L748.3 462.3 L748.6 454.2 L749.0 454.0 L749.3 446.1 L749.6 439.9 L749.9 443.0 L750.3 436.7 L750.6 431.3 L750.9 443.4 L751.3 450.8 L751.6 460.2 L751.9 462.9 L752.3 464.0 L752.6 466.9 L752.9 474.0 L753.2 473.6 L753.6 478.3 L753.9 478.6 L754.2 484.6 L754.6 493.1 L754.9 496.8 L755.2 503.3 L755.6 507.4 L755.9 508.8 L756.2 517.1 L756.5 526.3 L756.9 530.5 L757.2 520.6 L757.5 522.4 L757.9 528.2 L758.2 538.0 L758.5 546.8 L758.9 541.7 L759.2 543.2 L759.5 538.6 L759.8 535.0 L760.2 536.9 L760.5 536.6 L760.8 534.7 L761.2 521.4 L761.5 521.9 L761.8 525.6 L762.2 531.9 L762.5 521.8 L762.8 518.7 L763.1 527.4 L763.5 539.6 L763.8 541.3 L764.1 549.5 L764.5 557.7 L764.8 563.6 L765.1 569.2 L765.5 576.1 L765.8 579.6 L766.1 580.2 L766.4 587.7 L766.8 589.1 L767.1 593.7 L767.4 602.9 L767.8 611.3 L768.1 614.0 L768.4 614.5 L768.8 614.0 L769.1 616.5 L769.4 626.4 L769.7 628.4 L770.1 626.9 L770.4 637.1 L770.7 640.0 L771.1 645.5 L771.4 642.1 L771.7 630.8 L772.1 628.6 L772.4 626.9 L772.7 625.4 L773.0 629.6 L773.4 624.7 L773.7 624.4 L774.0 626.3 L774.4 632.4 L774.7 636.1 L775.0 641.0 L775.4 643.1 L775.7 655.3 L776.0 660.8 L776.3 667.0 L776.7 668.9 L777.0 675.8 L777.3 679.5 L777.7 684.7 L778.0 694.1 L778.3 692.5 L778.7 686.7 L779.0 679.1 L779.3 671.5 L779.6 671.0 L780.0 667.8 L780.3 658.8 L780.6 652.1 L781.0 651.1 L781.3 648.8 L781.6 642.9 L782.0 647.7 L782.3 635.4 L782.6 629.6 L782.9 624.2 L783.3 618.6 L783.6 603.4 L783.9 599.7 L784.3 603.6 L784.6 603.6 L784.9 597.9 L785.3 595.9 L785.6 592.3 L785.9 594.3 L786.2 590.5 L786.6 586.3 L786.9 585.9 L787.2 589.6 L787.6 586.3 L787.9 591.1 L788.2 592.4 L788.6 591.3 L788.9 589.3 L789.2 589.3 L789.5 585.8 L789.9 585.2 L790.2 582.8 L790.5 581.7 L790.9 575.4 L791.2 573.3 L791.5 567.3 L791.9 565.8 L792.2 560.1 L792.5 550.6 L792.8 542.8 L793.2 541.9 L793.5 544.7 L793.8 541.9 L794.2 544.3 L794.5 546.2 L794.8 550.6 L795.2 558.8 L795.5 558.7 L795.8 563.2 L796.1 573.5 L796.5 577.4 L796.8 577.1 L797.1 586.7 L797.5 586.8 L797.8 595.4 L798.1 593.3 L798.5 591.2 L798.8 590.8 L799.1 582.2 L799.4 575.0 L799.8 570.8 L800.1 573.1 L800.4 573.8 L800.8 574.8 L801.1 583.1 L801.4 585.9 L801.8 584.7 L802.1 581.5 L802.4 583.4 L802.7 585.8 L803.1 590.0 L803.4 595.6 L803.7 592.8 L804.1 595.1 L804.4 594.8 L804.7 596.9 L805.1 596.0 L805.4 599.3 L805.7 603.1 L806.0 600.7 L806.4 601.8 L806.7 604.7 L807.0 603.1 L807.4 614.5 L807.7 612.5 L808.0 617.5 L808.4 620.5 L808.7 631.2 L809.0 636.2 L809.3 643.7 L809.7 656.1 L810.0 635.0 L810.3 624.2 L810.7 635.1 L811.0 645.7 L811.3 653.3 L811.7 664.4 L812.0 669.6 L812.3 673.2 L812.6 675.1 L813.0 681.8 L813.3 686.7 L813.6 687.0 L814.0 680.9 L814.3 680.1 L814.6 675.4 L815.0 670.3 L815.3 671.4 L815.6 662.6 L815.9 661.0 L816.3 664.1 L816.6 668.7 L816.9 669.0 L817.3 671.1 L817.6 671.3 L817.9 676.1 L818.3 675.2 L818.6 682.9 L818.9 681.9 L819.2 684.8 L819.6 698.3 L819.9 700.0 L820.2 701.3 L820.6 696.8 L820.9 705.9 L821.2 711.7 L821.6 709.2 L821.9 707.4 L822.2 710.9 L822.5 715.8 L822.9 727.1 L823.2 736.5 L823.5 744.9 L823.9 742.9 L824.2 739.5 L824.5 739.2 L824.9 736.2 L825.2 733.6 L825.5 734.5 L825.8 738.4 L826.2 737.8 L826.5 739.1 L826.8 737.7 L827.2 736.6 L827.5 735.4 L827.8 738.7 L828.2 736.4 L828.5 742.8 L828.8 743.4 L829.1 749.9 L829.5 748.2 L829.8 750.6 L830.1 752.0 L830.5 751.0 L830.8 752.2 L831.1 750.5 L831.5 752.1 L831.8 748.6 L832.1 746.2 L832.4 741.9 L832.8 736.0 L833.1 733.1 L833.4 732.5 L833.8 727.5 L834.1 728.4 L834.4 730.5 L834.8 728.0 L835.1 730.5 L835.4 732.3 L835.7 729.9 L836.1 735.7 L836.4 738.6 L836.7 728.6 L837.1 732.8 L837.4 725.1 L837.7 727.2 L838.1 717.7 L838.4 721.3 L838.7 723.3 L839.0 723.8 L839.4 728.3 L839.7 732.2 L840.0 737.0 L840.4 736.9 L840.7 732.7 L841.0 722.5 L841.4 722.7 L841.7 728.2 L842.0 731.9 L842.3 739.9 L842.7 735.4 L843.0 742.2 L843.3 743.3 L843.7 745.9 L844.0 741.7 L844.3 741.0 L844.7 741.2 L845.0 739.6 L845.3 731.8 L845.6 733.2 L846.0 730.7 L846.3 734.7 L846.6 728.2 L847.0 735.9 L847.3 735.8 L847.6 735.5 L848.0 737.8 L848.3 740.1 L848.6 735.8 L848.9 732.9 L849.3 735.1 L849.6 729.0 L849.9 728.3 L850.3 726.3 L850.6 726.0 L850.9 730.1 L851.3 737.3 L851.6 735.7 L851.9 736.9 L852.2 737.1 L852.6 741.4 L852.9 741.3 L853.2 739.6 L853.6 737.8 L853.9 738.2 L854.2 731.7 L854.6 730.6 L854.9 717.2 L855.2 709.7 L855.5 698.7 L855.9 696.0 L856.2 690.7 L856.5 694.6 L856.9 695.6 L857.2 694.8 L857.5 701.5 L857.9 701.8 L858.2 710.3 L858.5 712.4 L858.8 712.5 L859.2 715.8 L859.5 709.4 L859.8 720.0 L860.2 718.8 L860.5 723.4 L860.8 731.6 L861.2 725.3 L861.5 728.8 L861.8 734.1 L862.1 737.8 L862.5 729.6 L862.8 727.1 L863.1 730.9 L863.5 724.5 L863.8 724.0 L864.1 716.9 L864.5 714.2 L864.8 709.2 L865.1 711.5 L865.4 712.8 L865.8 708.5 L866.1 704.3 L866.4 702.7 L866.8 700.9 L867.1 701.4 L867.4 706.9 L867.8 715.0 L868.1 720.9 L868.4 717.8 L868.7 715.3 L869.1 724.1 L869.4 725.2 L869.7 727.1 L870.1 727.6 L870.4 727.5 L870.7 732.6 L871.1 736.2 L871.4 739.3 L871.7 734.6 L872.0 737.0 L872.4 733.1 L872.7 730.9 L873.0 731.3 L873.4 729.1 L873.7 735.0 L874.0 731.5 L874.4 729.0 L874.7 727.9 L875.0 731.4 L875.3 733.1 L875.7 737.8 L876.0 741.0 L876.3 739.3 L876.7 731.7 L877.0 730.4 L877.3 729.7 L877.7 725.8 L878.0 730.1 L878.3 730.7 L878.6 732.1 L879.0 733.4 L879.3 729.3 L879.6 732.8 L880.0 731.3 L880.3 725.4 L880.6 727.1 L881.0 730.6 L881.3 729.3 L881.6 731.6 L881.9 736.6 L882.3 730.3 L882.6 733.0 L882.9 739.3 L883.3 743.2 L883.6 741.7 L883.9 747.8 L884.3 754.9 L884.6 753.3 L884.9 753.4 L885.2 753.9 L885.6 751.8 L885.9 755.9 L886.2 756.7 L886.6 759.1 L886.9 761.3 L887.2 756.4 L887.6 754.1 L887.9 752.5 L888.2 754.6 L888.5 745.3 L888.9 745.4 L889.2 743.0 L889.5 743.4 L889.9 744.6 L890.2 742.0 L890.5 740.2 L890.9 734.6 L891.2 727.2 L891.5 720.2 L891.8 710.6 L892.2 714.5 L892.5 714.9 L892.8 719.5 L893.2 724.2 L893.5 723.1 L893.8 724.6 L894.2 732.0 L894.5 731.4 L894.8 734.9 L895.1 738.1 L895.5 737.3 L895.8 744.1 L896.1 740.6 L896.5 744.1 L896.8 744.2 L897.1 738.9 L897.5 743.6 L897.8 743.5 L898.1 744.3 L898.4 741.5 L898.8 739.3 L899.1 740.5 L899.4 742.3 L899.8 746.5 L900.1 745.9 L900.4 747.8 L900.8 745.1 L901.1 737.9 L901.4 738.6 L901.7 730.4 L902.1 736.3 L902.4 736.8 L902.7 740.8 L903.1 746.7 L903.4 744.0 L903.7 741.1 L904.1 742.8 L904.4 736.5 L904.7 733.5 L905.0 736.6 L905.4 735.8 L905.7 729.1 L906.0 730.5 L906.4 727.5 L906.7 719.4 L907.0 718.1 L907.4 719.0 L907.7 718.5 L908.0 714.3 L908.3 715.9 L908.7 708.5 L909.0 710.9 L909.3 720.0 L909.7 715.7 L910.0 718.9 L910.3 714.8 L910.7 716.8 L911.0 716.5 L911.3 719.6 L911.6 718.9 L912.0 725.8 L912.3 722.5 L912.6 725.3 L913.0 728.3 L913.3 731.9 L913.6 735.8 L914.0 732.9 L914.3 744.2 L914.6 743.4 L914.9 744.4 L915.3 743.2 L915.6 746.7 L915.9 745.5 L916.3 750.9 L916.6 748.7 L916.9 747.9 L917.3 743.0 L917.6 741.5 L917.9 744.0 L918.2 744.6 L918.6 743.9 L918.9 742.3 L919.2 748.9 L919.6 744.3 L919.9 744.4 L920.2 751.6 L920.6 750.3 L920.9 755.2 L921.2 755.1 L921.5 759.0 L921.9 759.6 L922.2 757.5 L922.5 755.3 L922.9 758.9 L923.2 763.1 L923.5 762.8 L923.9 757.2 L924.2 759.5 L924.5 759.3 L924.8 759.2 L925.2 757.6 L925.5 761.3 L925.8 757.4 L926.2 760.5 L926.5 756.5 L926.8 755.3 L927.2 758.2 L927.5 760.8 L927.8 762.2 L928.1 763.9 L928.5 767.9 L928.8 769.9 L929.1 770.5 L929.5 771.3 L929.8 770.2 L930.1 769.8 L930.5 769.7 L930.8 771.8 L931.1 771.6 L931.4 773.1 L931.8 775.6 L932.1 776.3 L932.4 778.1 L932.8 774.9 L933.1 772.0 L933.4 771.6 L933.8 775.7 L934.1 773.4 L934.4 769.5 L934.7 770.5 L935.1 767.6 L935.4 770.5 L935.7 766.9 L936.1 765.5 L936.4 769.2 L936.7 768.3 L937.1 771.3 L937.4 777.8 L937.7 778.1 L938.0 775.4 L938.4 777.1 L938.7 778.7 L939.0 778.3 L939.4 781.3 L939.7 784.8 L940.0 783.9 L940.4 786.2 L940.7 786.2 L941.0 786.7 L941.3 784.6 L941.7 788.0 L942.0 790.1 L942.3 786.7 L942.7 784.6 L943.0 787.6 L943.3 786.4 L943.7 787.9 L944.0 786.0 L944.3 783.2 L944.6 778.8 L945.0 784.0 L945.3 785.0 L945.6 782.5 L946.0 781.9 L946.3 778.7 L946.6 782.9 L947.0 780.1 L947.3 770.2 L947.6 772.4 L947.9 771.9 L948.3 771.5 L948.6 770.1 L948.9 767.3 L949.3 772.1 L949.6 775.7 L949.9 774.9 L950.3 780.9 L950.6 778.5 L950.9 773.6 L951.2 773.6 L951.6 768.0 L951.9 768.0 L952.2 764.1 L952.6 762.8 L952.9 762.4 L953.2 753.5 L953.6 757.8 L953.9 760.6 L954.2 761.1 L954.5 764.8 L954.9 765.3 L955.2 760.5 L955.5 755.3 L955.9 756.3 L956.2 754.7 L956.5 748.5 L956.9 752.6 L957.2 755.2 L957.5 764.1 L957.8 764.7 L958.2 760.6 L958.5 765.6 L958.8 763.1 L959.2 760.6 L959.5 760.0 L959.8 760.4 L960.2 762.3 L960.5 766.3 L960.8 767.5 L961.1 766.5 L961.5 766.6 L961.8 767.3 L962.1 758.0 L962.5 750.2 L962.8 749.0 L963.1 743.1 L963.5 749.2 L963.8 744.3 L964.1 744.7 L964.4 745.1 L964.8 750.4 L965.1 744.8 L965.4 746.9 L965.8 744.6 L966.1 753.0 L966.4 753.4 L966.8 759.3 L967.1 755.6 L967.4 752.7 L967.7 753.1 L968.1 757.5 L968.4 755.9 L968.7 760.7 L969.1 761.5 L969.4 763.7 L969.7 764.9 L970.1 767.6 L970.4 758.8 L970.7 757.6 L971.0 756.2 L971.4 749.9 L971.7 744.4 L972.0 749.2 L972.4 749.6 L972.7 743.7 L973.0 740.2 L973.4 745.1 L973.7 744.4 L974.0 742.9 L974.3 746.2 L974.7 744.1 L975.0 749.4 L975.3 752.0 L975.7 754.1 L976.0 759.5 L976.3 760.9 L976.7 765.6 L977.0 756.6 L977.3 759.5 L977.6 760.7 L978.0 767.0 L978.3 768.9 L978.6 767.6 L979.0 767.4 L979.3 765.5 L979.6 765.8 L980.0 766.3 L980.3 762.2 L980.6 773.2 L980.9 774.7 L981.3 779.7 L981.6 779.9 L981.9 778.6 L982.3 780.0 L982.6 775.0 L982.9 776.0 L983.3 780.7 L983.6 778.6 L983.9 775.0 L984.2 777.1 L984.6 775.6 L984.9 779.5 L985.2 785.2 L985.6 782.2 L985.9 784.0 L986.2 785.3 L986.6 782.9 L986.9 781.3 L987.2 777.3 L987.5 776.4 L987.9 771.3 L988.2 774.1 L988.5 777.1 L988.9 772.7 L989.2 775.5 L989.5 780.5 L989.9 785.2 L990.2 788.6 L990.5 784.9 L990.8 782.4 L991.2 784.3 L991.5 778.9 L991.8 777.2 L992.2 775.3 L992.5 776.0 L992.8 772.3 L993.2 776.6 L993.5 776.2 L993.8 780.3 L994.1 783.3 L994.5 790.6 L994.8 793.3 L995.1 795.8 L995.5 797.1 L995.8 798.2 L996.1 801.5 L996.5 799.5 L996.8 800.1 L997.1 802.1 L997.4 800.2 L997.8 799.7 L998.1 798.0 L998.4 801.7 L998.8 802.1 L999.1 802.7 L999.4 804.9 L999.8 799.7 L1000.1 801.4 L1000.4 803.3 L1000.7 803.5 L1001.1 803.7 L1001.4 804.4 L1001.7 801.2 L1002.1 801.5 L1002.4 802.8 L1002.7 800.0 L1003.1 798.0 L1003.4 798.5 L1003.7 793.9 L1004.0 795.4 L1004.4 796.9 L1004.7 794.2 L1005.0 791.8 L1005.4 792.4 L1005.7 790.5 L1006.0 788.7 L1006.4 789.6 L1006.7 787.0 L1007.0 789.6 L1007.3 787.8 L1007.7 788.0 L1008.0 789.5 L1008.3 790.1 L1008.7 791.8 L1009.0 794.4 L1009.3 796.3 L1009.7 798.5 L1010.0 796.5 L1010.3 797.8 L1010.6 795.7 L1011.0 798.1 L1011.3 798.5 L1011.6 795.7 L1012.0 795.4 L1012.3 795.1 L1012.6 793.2 L1013.0 791.3 L1013.3 793.8 L1013.6 791.7 L1013.9 793.1 L1014.3 794.8 L1014.6 794.8 L1014.9 796.7 L1015.3 797.5 L1015.6 796.9 L1015.9 798.5 L1016.3 798.2 L1016.6 796.3 L1016.9 797.0 L1017.2 797.0 L1017.6 796.2 L1017.9 793.0 L1018.2 796.0 L1018.6 791.8 L1018.9 790.3 L1019.2 792.4 L1019.6 793.3 L1019.9 795.6 L1020.2 795.3 L1020.5 795.8 L1020.9 796.8 L1021.2 795.5 L1021.5 794.6 L1021.9 795.6 L1022.2 798.0 L1022.5 797.3 L1022.9 799.2 L1023.2 797.7 L1023.5 798.9 L1023.8 798.5 L1024.2 799.5 L1024.5 798.9 L1024.8 799.1 L1025.2 797.8 L1025.5 799.1 L1025.8 797.6 L1026.2 797.4 L1026.5 797.2 L1026.8 795.1 L1027.1 793.7 L1027.5 793.4 L1027.8 794.1 L1028.1 791.1 L1028.5 789.5 L1028.8 788.4 L1029.1 789.3 L1029.5 789.1 L1029.8 789.5 L1030.1 791.4 L1030.4 790.4 L1030.8 791.5 L1031.1 789.3 L1031.4 788.7 L1031.8 788.5 L1032.1 784.9 L1032.4 785.2 L1032.8 784.8 L1033.1 783.8 L1033.4 783.1 L1033.7 782.5 L1034.1 781.5 L1034.4 782.9 L1034.7 784.5 L1035.1 786.2 L1035.4 784.4 L1035.7 785.2 L1036.1 785.7 L1036.4 788.0 L1036.7 788.5 L1037.0 789.6 L1037.4 792.3 L1037.7 794.9 L1038.0 790.9 L1038.4 794.1 L1038.7 792.4 L1039.0 793.9 L1039.4 794.2 L1039.7 795.5 L1040.0 794.4 L1040.3 793.6 L1040.7 794.5 L1041.0 795.9 L1041.3 794.8 L1041.7 796.0 L1042.0 795.5 L1042.3 795.3 L1042.7 794.8 L1043.0 795.1 L1043.3 795.2 L1043.6 793.7 L1044.0 792.6 L1044.3 789.8 L1044.6 789.9 L1045.0 788.9 L1045.3 790.5 L1045.6 788.9 L1046.0 789.5 L1046.3 791.2 L1046.6 792.5 L1046.9 793.5 L1047.3 792.1 L1047.6 792.9 L1047.9 793.4 L1048.3 791.2 L1048.6 790.9 L1048.9 789.4 L1049.3 789.2 L1049.6 790.2 L1049.9 789.9 L1050.2 789.2 L1050.6 788.7 L1050.9 790.4 L1051.2 790.1 L1051.6 788.4 L1051.9 792.0 L1052.2 791.6 L1052.6 792.6 L1052.9 793.4 L1053.2 794.3 L1053.5 796.3 L1053.9 795.5 L1054.2 797.0 L1054.5 797.6 L1054.9 800.0 L1055.2 800.0 L1055.5 800.2 L1055.9 799.6 L1056.2 799.0 L1056.5 797.9 L1056.8 794.7 L1057.2 796.0 L1057.5 795.2 L1057.8 795.4 L1058.2 794.7 L1058.5 793.3 L1058.8 792.1 L1059.2 791.2 L1059.5 791.8 L1059.8 791.7 L1060.1 791.0 L1060.5 791.3 L1060.8 792.0 L1061.1 791.3 L1061.5 792.0 L1061.8 792.6 L1062.1 791.8 L1062.5 794.5 L1062.8 796.0 L1063.1 797.8 L1063.4 799.0 L1063.8 797.1 L1064.1 797.5 L1064.4 797.1 L1064.8 796.5 L1065.1 796.8 L1065.4 796.9 L1065.8 795.1 L1066.1 796.8 L1066.4 796.0 L1066.7 795.3 L1067.1 795.1 L1067.4 795.3 L1067.7 794.4 L1068.1 795.5 L1068.4 795.2 L1068.7 793.8 L1069.1 794.5 L1069.4 793.9 L1069.7 793.0 L1070.0 793.0 L1070.4 791.7 L1070.7 790.7 L1071.0 790.6 L1071.4 788.6 L1071.7 788.4 L1072.0 789.5 L1072.4 790.1 L1072.7 788.2 L1073.0 788.7 L1073.3 788.8 L1073.7 789.8 L1074.0 791.3 L1074.3 793.0 L1074.7 794.3 L1075.0 794.7 L1075.3 794.5 L1075.7 793.6 L1076.0 791.9 L1076.3 792.6 L1076.6 791.5 L1077.0 791.1 L1077.3 792.0 L1077.6 791.8 L1078.0 794.4 L1078.3 794.8 L1078.6 795.3 L1079.0 796.0 L1079.3 795.9 L1079.6 795.4 L1079.9 795.5 L1080.3 794.3 L1080.6 794.4 L1080.9 794.1 L1081.3 794.3 L1081.6 792.7 L1081.9 793.0 L1082.3 792.5 L1082.6 792.8 L1082.9 792.5 L1083.2 792.6 L1083.6 793.3 L1083.9 794.0 L1084.2 795.3 L1084.6 795.5 L1084.9 796.1 L1085.2 795.1 L1085.6 795.0 L1085.9 795.4 L1086.2 795.5 L1086.5 793.8 L1086.9 793.8 L1087.2 793.4 L1087.5 793.3 L1087.9 792.6 L1088.2 792.3 L1088.5 792.2 L1088.9 792.0 L1089.2 792.8 L1089.5 792.1 L1089.8 792.0 L1090.2 793.4 L1090.5 793.8 L1090.8 793.7 L1091.2 792.9 L1091.5 793.7 L1091.8 792.5 L1092.2 793.1 L1092.5 792.6 L1092.8 792.0 L1093.1 792.3 L1093.5 793.5 L1093.8 793.8 L1094.1 793.3 L1094.5 794.3 L1094.8 794.1 L1095.1 795.3 L1095.5 795.8 L1095.8 795.7 L1096.1 793.9 L1096.4 795.4 L1096.8 795.5 L1097.1 794.5 L1097.4 793.3 L1097.8 793.8 L1098.1 795.5 L1098.4 796.9 L1098.8 795.9 L1099.1 794.7 L1099.4 795.2 L1099.7 797.9 L1100.1 797.4 L1100.4 796.4 L1100.7 795.9 L1101.1 797.6 L1101.4 798.1 L1101.7 797.1 L1102.1 796.9 L1102.4 797.0 L1102.7 796.5 L1103.0 796.7 L1103.4 797.0 L1103.7 797.5 L1104.0 799.5 L1104.4 799.8 L1104.7 800.7 L1105.0 801.5 L1105.4 798.1 L1105.7 798.8 L1106.0 799.8 L1106.3 799.0 L1106.7 798.3 L1107.0 798.5 L1107.3 797.4 L1107.7 796.5 L1108.0 796.3 L1108.3 796.2 L1108.7 795.8 L1109.0 796.0 L1109.3 794.8 L1109.6 793.5 L1110.0 795.8 L1110.3 793.1 L1110.6 791.8 L1111.0 791.1 L1111.3 789.9 L1111.6 788.1 L1112.0 788.9 L1112.3 789.9 L1112.6 786.5 L1112.9 785.6 L1113.3 785.7 L1113.6 783.8 L1113.9 783.7 L1114.3 782.2 L1114.6 779.6 L1114.9 780.4 L1115.3 780.5 L1115.6 782.1 L1115.9 778.4 L1116.2 781.8 L1116.6 785.4 L1116.9 785.9 L1117.2 787.1 L1117.6 787.3 L1117.9 788.0 L1118.2 787.5 L1118.6 785.6 L1118.9 784.9 L1119.2 783.0 L1119.5 786.4 L1119.9 787.5 L1120.2 789.5 L1120.5 789.3 L1120.9 790.2 L1121.2 787.8 L1121.5 786.8 L1121.9 787.5 L1122.2 787.5 L1122.5 788.1 L1122.8 787.1 L1123.2 786.3 L1123.5 785.9 L1123.8 785.6 L1124.2 784.9 L1124.5 784.4 L1124.8 782.7 L1125.2 782.3 L1125.5 779.8 L1125.8 778.5 L1126.1 778.4 L1126.5 778.4 L1126.8 776.0 L1127.1 773.4 L1127.5 774.0 L1127.8 770.6 L1128.1 769.0 L1128.5 772.7 L1128.8 775.8 L1129.1 777.5 L1129.4 782.5 L1129.8 786.6 L1130.1 785.3 L1130.4 785.4 L1130.8 788.5 L1131.1 788.0 L1131.4 786.6 L1131.8 787.5 L1132.1 783.7 L1132.4 783.7 L1132.7 785.3 L1133.1 785.8 L1133.4 784.5 L1133.7 784.9 L1134.1 789.1 L1134.4 788.4 L1134.7 788.4 L1135.1 790.7 L1135.4 787.9 L1135.7 789.0 L1136.0 787.1 L1136.4 790.4 L1136.7 788.2 L1137.0 788.9 L1137.4 787.8 L1137.7 789.3 L1138.0 790.4 L1138.4 790.6 L1138.7 790.6 L1139.0 791.7 L1139.3 791.5 L1139.7 790.7 L1140.0 791.7 L1140.3 792.0 L1140.7 789.1 L1141.0 788.5 L1141.3 788.7 L1141.7 790.3 L1142.0 789.0 L1142.3 792.0 L1142.6 791.6 L1143.0 791.9 L1143.3 792.5 L1143.6 790.6 L1144.0 790.5 L1144.3 790.1 L1144.6 790.3 L1145.0 787.8 L1145.3 788.5 L1145.6 787.1 L1145.9 785.5 L1146.3 784.8 L1146.6 782.6 L1146.9 781.7 L1147.3 782.3 L1147.6 781.0 L1147.9 781.9 L1148.3 782.2 L1148.6 780.9 L1148.9 780.2 L1149.2 778.8 L1149.6 777.7 L1149.9 779.5 L1150.2 777.7 L1150.6 779.1 L1150.9 780.4 L1151.2 779.9 L1151.6 780.6 L1151.9 781.3 L1152.2 786.0 L1152.5 785.7 L1152.9 787.6 L1153.2 789.6 L1153.5 789.3 L1153.9 790.0 L1154.2 788.4 L1154.5 788.0 L1154.9 791.2 L1155.2 792.3 L1155.5 789.5 L1155.8 791.6 L1156.2 791.3 L1156.5 791.9 L1156.8 792.5 L1157.2 793.5 L1157.5 789.7 L1157.8 788.9 L1158.2 789.6 L1158.5 787.4 L1158.8 787.1 L1159.1 786.3 L1159.5 784.4 L1159.8 785.5 L1160.1 787.8 L1160.5 787.0 L1160.8 785.7 L1161.1 785.6 L1161.5 784.5 L1161.8 783.3 L1162.1 781.3 L1162.4 779.5 L1162.8 776.7 L1163.1 776.4 L1163.4 775.8 L1163.8 775.9 L1164.1 776.8 L1164.4 778.0 L1164.8 778.2 L1165.1 781.7 L1165.4 784.5 L1165.7 784.1 L1166.1 783.7 L1166.4 783.2 L1166.7 779.9 L1167.1 781.9 L1167.4 776.5 L1167.7 776.3 L1168.1 779.3 L1168.4 778.6 L1168.7 780.6 L1169.0 779.2 L1169.4 781.8 L1169.7 780.7 L1170.0 782.4 L1170.4 783.7 L1170.7 781.2 L1171.0 782.1 L1171.4 781.7 L1171.7 783.1 L1172.0 786.7 L1172.3 786.5 L1172.7 787.9 L1173.0 789.4 L1173.3 789.3 L1173.7 787.8 L1174.0 784.7 L1174.3 783.0 L1174.7 782.7 L1175.0 782.8 L1175.3 782.6 L1175.6 780.9 L1176.0 778.9 L1176.3 778.0 L1176.6 779.8 L1177.0 777.5 L1177.3 778.8 L1177.6 774.4 L1178.0 775.7 L1178.3 775.5 L1178.6 776.3 L1178.9 774.8 L1179.3 776.0 L1179.6 776.1 L1179.9 775.2 L1180.3 773.1 L1180.6 771.7 L1180.9 772.0 L1181.3 772.6 L1181.6 774.0 L1181.9 775.4 L1182.2 777.0 L1182.6 776.2 L1182.9 778.8 L1183.2 777.8 L1183.6 775.9 L1183.9 775.4 L1184.2 777.4 L1184.6 775.0 L1184.9 769.9 L1185.2 773.2 L1185.5 767.0 L1185.9 772.1 L1186.2 773.6 L1186.5 771.8 L1186.9 776.5 L1187.2 779.1 L1187.5 779.9 L1187.9 780.1 L1188.2 780.3 L1188.5 780.8 L1188.8 778.3 L1189.2 778.1 L1189.5 779.0 L1189.8 775.9 L1190.2 777.9 L1190.5 771.0 L1190.8 770.8 L1191.2 767.0 L1191.5 764.4 L1191.8 767.2 L1192.1 766.6 L1192.5 765.7 L1192.8 764.1 L1193.1 765.0 L1193.5 762.1 L1193.8 763.8 L1194.1 763.3 L1194.5 761.3 L1194.8 765.1 L1195.1 762.1 L1195.4 766.5 L1195.8 768.1 L1196.1 769.8 L1196.4 770.6 L1196.8 773.3 L1197.1 772.8 L1197.4 771.8 L1197.8 779.5 L1198.1 782.9 L1198.4 788.5 L1198.7 788.7 L1199.1 785.4 L1199.4 788.0 L1199.7 782.1 L1200.1 785.7 L1200.4 782.2 L1200.7 783.7 L1201.1 781.4 L1201.4 778.3 L1201.7 775.2 L1202.0 773.0 L1202.4 767.9 L1202.7 767.2 L1203.0 765.5 L1203.4 766.8 L1203.7 769.3 L1204.0 769.1 L1204.4 772.0 L1204.7 772.4 L1205.0 772.6 L1205.3 775.4 L1205.7 777.0 L1206.0 772.5 L1206.3 770.9 L1206.7 776.7 L1207.0 769.0 L1207.3 765.8 L1207.7 760.0 L1208.0 762.4 L1208.3 763.6 L1208.6 760.5 L1209.0 756.8 L1209.3 755.5 L1209.6 749.3 L1210.0 753.4 L1210.3 751.5 L1210.6 752.1 L1211.0 752.4 L1211.3 754.0 L1211.6 760.8 L1211.9 761.0 L1212.3 758.4 L1212.6 763.3 L1212.9 766.8 L1213.3 768.3 L1213.6 774.3 L1213.9 773.1 L1214.3 770.1 L1214.6 772.1 L1214.9 777.6 L1215.2 777.0 L1215.6 779.3 L1215.9 774.8 L1216.2 777.6 L1216.6 776.1 L1216.9 772.7 L1217.2 770.1 L1217.6 768.0 L1217.9 768.4 L1218.2 764.7 L1218.5 761.7 L1218.9 761.3 L1219.2 762.4 L1219.5 760.9 L1219.9 764.3 L1220.2 760.5 L1220.5 764.4 L1220.9 765.0 L1221.2 764.5 L1221.5 766.2 L1221.8 765.6 L1222.2 764.5 L1222.5 761.6 L1222.8 756.3 L1223.2 756.4 L1223.5 755.9 L1223.8 758.0 L1224.2 754.7 L1224.5 756.0 L1224.8 761.3 L1225.1 760.7 L1225.5 760.7 L1225.8 763.5 L1226.1 766.2 L1226.5 766.4 L1226.8 763.4 L1227.1 766.1 L1227.5 770.6 L1227.8 768.9 L1228.1 772.5 L1228.4 772.8 L1228.8 771.6 L1229.1 775.2 L1229.4 769.8 L1229.8 767.9 L1230.1 768.2 L1230.4 772.6 L1230.8 772.0 L1231.1 773.4 L1231.4 771.7 L1231.7 770.9 L1232.1 768.5 L1232.4 767.4 L1232.7 769.4 L1233.1 768.8 L1233.4 763.4 L1233.7 765.2 L1234.1 768.1 L1234.4 765.6 L1234.7 760.5 L1235.0 761.8 L1235.4 762.3 L1235.7 762.6 L1236.0 766.2 L1236.4 768.8 L1236.7 765.2 L1237.0 763.9 L1237.4 761.3 L1237.7 760.2 L1238.0 761.7 L1238.3 757.7 L1238.7 757.8 L1239.0 756.5 L1239.3 755.1 L1239.7 751.4 L1240.0 753.4 L1240.3 750.7 L1240.7 754.1 L1241.0 753.6 L1241.3 754.2 L1241.6 753.2 L1242.0 752.3 L1242.3 752.5 L1242.6 755.5 L1243.0 756.9 L1243.3 758.9 L1243.6 758.9 L1244.0 762.1 L1244.3 763.0 L1244.6 764.6 L1244.9 765.5 L1245.3 767.7 L1245.6 768.1 L1245.9 762.9 L1246.3 758.4 L1246.6 759.1 L1246.9 757.6 L1247.3 756.3 L1247.6 755.9 L1247.9 751.6 L1248.2 750.6 L1248.6 752.3 L1248.9 752.2 L1249.2 749.7 L1249.6 753.4 L1249.9 748.9 L1250.2 755.6 L1250.6 752.0 L1250.9 752.5 L1251.2 750.3 L1251.5 748.2 L1251.9 749.6 L1252.2 745.2 L1252.5 750.7 L1252.9 756.2 L1253.2 759.0 L1253.5 762.8 L1253.9 759.1 L1254.2 754.4 L1254.5 752.6 L1254.8 756.6 L1255.2 754.1 L1255.5 747.3 L1255.8 753.2 L1256.2 751.4 L1256.5 751.0 L1256.8 749.8 L1257.2 749.1 L1257.5 743.5 L1257.8 747.8 L1258.1 748.4 L1258.5 756.8 L1258.8 757.6 L1259.1 756.9 L1259.5 757.1 L1259.8 753.8 L1260.1 759.0 L1260.5 759.1 L1260.8 765.0 L1261.1 766.2 L1261.4 765.5 L1261.8 765.3 L1262.1 769.8 L1262.4 765.4 L1262.8 767.1 L1263.1 764.4 L1263.4 761.2 L1263.8 760.9 L1264.1 763.4 L1264.4 753.4 L1264.7 754.8 L1265.1 753.5 L1265.4 748.7 L1265.7 750.2 L1266.1 747.4 L1266.4 744.8 L1266.7 738.8 L1267.1 739.7 L1267.4 735.1 L1267.7 737.8 L1268.0 741.9 L1268.4 735.6 L1268.7 739.0 L1269.0 733.3 L1269.4 734.2 L1269.7 735.7 L1270.0 730.9 L1270.4 733.4 L1270.7 731.3 L1271.0 730.8 L1271.3 733.5 L1271.7 731.7 L1272.0 731.8 L1272.3 730.5 L1272.7 730.5 L1273.0 732.8 L1273.3 729.1 L1273.7 726.1 L1274.0 725.1 L1274.3 725.5 L1274.6 724.2 L1275.0 717.3 L1275.3 719.3 L1275.6 720.4 L1276.0 725.4 L1276.3 722.6 L1276.6 724.5 L1277.0 725.1 L1277.3 729.8 L1277.6 729.0 L1277.9 732.0 L1278.3 736.0 L1278.6 735.4 L1278.9 739.2 L1279.3 740.5 L1279.6 746.4 L1279.9 750.1 L1280.3 753.5 L1280.6 751.2 L1280.9 752.6 L1281.2 758.0 L1281.6 753.7 L1281.9 758.7 L1282.2 754.7 L1282.6 758.7 L1282.9 754.4 L1283.2 756.4 L1283.6 755.8 L1283.9 754.2 L1284.2 748.3 L1284.5 750.6 L1284.9 749.1 L1285.2 752.2 L1285.5 749.6 L1285.9 740.4 L1286.2 742.5 L1286.5 744.4 L1286.9 740.5 L1287.2 736.4 L1287.5 732.1 L1287.8 732.4 L1288.2 730.5 L1288.5 731.0 L1288.8 730.4 L1289.2 733.9 L1289.5 730.8 L1289.8 734.6 L1290.2 733.1 L1290.5 737.4 L1290.8 742.0 L1291.1 740.6 L1291.5 740.0 L1291.8 744.5 L1292.1 747.3 L1292.5 747.5 L1292.8 751.3 L1293.1 752.5 L1293.5 755.4 L1293.8 751.0 L1294.1 752.9 L1294.4 753.3 L1294.8 746.7 L1295.1 750.6 L1295.4 746.0 L1295.8 739.7 L1296.1 737.4 L1296.4 736.6 L1296.8 737.0 L1297.1 741.1 L1297.4 745.8 L1297.7 747.9 L1298.1 750.2 L1298.4 748.4 L1298.7 742.6 L1299.1 742.8 L1299.4 739.8 L1299.7 743.2 L1300.1 734.9 L1300.4 740.7 L1300.7 731.2 L1301.0 734.3 L1301.4 734.9 L1301.7 732.5 L1302.0 734.1 L1302.4 740.9 L1302.7 739.3 L1303.0 742.8 L1303.4 745.3 L1303.7 748.6 L1304.0 745.5 L1304.3 752.3 L1304.7 751.6 L1305.0 755.6 L1305.3 751.8 L1305.7 758.1 L1306.0 758.2 L1306.3 761.1 L1306.7 759.0 L1307.0 762.8 L1307.3 762.5 L1307.6 758.5 L1308.0 768.8 L1308.3 765.1 L1308.6 767.5 L1309.0 766.6 L1309.3 763.3 L1309.6 760.9 L1310.0 761.8 L1310.3 760.5 L1310.6 759.0 L1310.9 751.8 L1311.3 754.4 L1311.6 749.0 L1311.9 755.2 L1312.3 754.0 L1312.6 756.9 L1312.9 756.6 L1313.3 758.1 L1313.6 756.6 L1313.9 761.1 L1314.2 756.8 L1314.6 758.1 L1314.9 753.7 L1315.2 752.8 L1315.6 751.0 L1315.9 750.0 L1316.2 747.9 L1316.6 749.0 L1316.9 748.5 L1317.2 742.1 L1317.5 742.1 L1317.9 739.1 L1318.2 745.6 L1318.5 743.4 L1318.9 748.2 L1319.2 750.2 L1319.5 750.1 L1319.9 744.6 L1320.2 751.1 L1320.5 748.0 L1320.8 748.5 L1321.2 750.4 L1321.5 746.8 L1321.8 746.4 L1322.2 753.5 L1322.5 755.2 L1322.8 747.6 L1323.2 746.0 L1323.5 746.7 L1323.8 743.2 L1324.1 744.4 L1324.5 743.4 L1324.8 742.3 L1325.1 744.1 L1325.5 742.5 L1325.8 746.4 L1326.1 743.8 L1326.5 746.5 L1326.8 749.1 L1327.1 740.1 L1327.4 744.1 L1327.8 737.8 L1328.1 738.2 L1328.4 743.4 L1328.8 744.8 L1329.1 745.5 L1329.4 746.3 L1329.8 747.3 L1330.1 744.3 L1330.4 739.4 L1330.7 735.0 L1331.1 729.2 L1331.4 731.5 L1331.7 726.7 L1332.1 727.2 L1332.4 723.0 L1332.7 720.3 L1333.1 716.0 L1333.4 715.8 L1333.7 715.9 L1334.0 714.9 L1334.4 713.7 L1334.7 708.7 L1335.0 710.4 L1335.4 710.7 L1335.7 709.8 L1336.0 708.2 L1336.4 703.9 L1336.7 702.7 L1337.0 705.8 L1337.3 702.6 L1337.7 703.2 L1338.0 703.5 L1338.3 705.4 L1338.7 705.8 L1339.0 711.6 L1339.3 707.6 L1339.7 711.8 L1340.0 709.8 L1340.3 710.5 L1340.6 714.2 L1341.0 709.9 L1341.3 708.2 L1341.6 701.7 L1342.0 705.3 L1342.3 707.0 L1342.6 708.5 L1343.0 709.5 L1343.3 707.9 L1343.6 708.3 L1343.9 712.2 L1344.3 712.1 L1344.6 712.9 L1344.9 712.7 L1345.3 710.6 L1345.6 709.1 L1345.9 705.7 L1346.3 708.0 L1346.6 706.9 L1346.9 713.4 L1347.2 712.1 L1347.6 716.5 L1347.9 712.7 L1348.2 711.3 L1348.6 712.5 L1348.9 710.2 L1349.2 705.0 L1349.6 700.0 L1349.9 700.8 L1350.2 701.0 L1350.5 701.2 L1350.9 697.2 L1351.2 696.9 L1351.5 694.2 L1351.9 696.2 L1352.2 697.8 L1352.5 697.3 L1352.9 692.0 L1353.2 692.8 L1353.5 694.7 L1353.8 694.3 L1354.2 700.0 L1354.5 701.3 L1354.8 701.0 L1355.2 703.7 L1355.5 702.6 L1355.8 701.3 L1356.2 703.0 L1356.5 703.2 L1356.8 705.5 L1357.1 704.4 L1357.5 707.7 L1357.8 708.2 L1358.1 709.0 L1358.5 710.2 L1358.8 711.6 L1359.1 707.9 L1359.5 709.2 L1359.8 707.4 L1360.1 708.8 L1360.4 705.4 L1360.8 704.2 L1361.1 701.2 L1361.4 698.9 L1361.8 696.0 L1362.1 695.7 L1362.4 694.8 L1362.8 691.5 L1363.1 694.7 L1363.4 696.1 L1363.7 698.8 L1364.1 701.5 L1364.4 701.1 L1364.7 701.9 L1365.1 701.9 L1365.4 701.1 L1365.7 699.0 L1366.1 696.9 L1366.4 697.3 L1366.7 698.4 L1367.0 698.6 L1367.4 696.0 L1367.7 694.3 L1368.0 697.6 L1368.4 697.3 L1368.7 697.5 L1369.0 696.5 L1369.4 695.0 L1369.7 694.9 L1370.0 694.0 L1370.3 695.0 L1370.7 694.2 L1371.0 691.8 L1371.3 690.8 L1371.7 691.9 L1372.0 691.7 L1372.3 690.6 L1372.7 690.8 L1373.0 689.6 L1373.3 689.9 L1373.6 691.6 L1374.0 690.2 L1374.3 692.3 L1374.6 692.8 L1375.0 693.0 L1375.3 693.2 L1375.6 694.2 L1376.0 693.1 L1376.3 691.9 L1376.6 691.2 L1376.9 691.1 L1377.3 693.0 L1377.6 694.4 L1377.9 693.3 L1378.3 694.6 L1378.6 694.6 L1378.9 695.2 L1379.3 696.1 L1379.6 696.5 L1379.9 696.0 L1380.2 697.5 L1380.6 697.3 L1380.9 696.0 L1381.2 697.4 L1381.6 698.6 L1381.9 697.4 L1382.2 698.5 L1382.6 696.5 L1382.9 696.9 L1383.2 698.1 L1383.5 698.5 L1383.9 698.0 L1384.2 697.2 L1384.5 694.2 L1384.9 692.7 L1385.2 691.1 L1385.5 689.3 L1385.9 687.9 L1386.2 687.1 L1386.5 685.9 L1386.8 685.0 L1387.2 682.6 L1387.5 682.7 L1387.8 681.0 L1388.2 680.2 L1388.5 679.6 L1388.8 679.7 L1389.2 678.6 L1389.5 678.0 L1389.8 676.4 L1390.1 675.0 L1390.5 674.8 L1390.8 674.5 L1391.1 674.1 L1391.5 672.8 L1391.8 672.1 L1392.1 671.9 L1392.5 670.0 L1392.8 670.8 L1393.1 669.2 L1393.4 668.8 L1393.8 667.0 L1394.1 666.1 L1394.4 664.1 L1394.8 663.3 L1395.1 662.5 L1395.4 662.3 L1395.8 659.1 L1396.1 656.2 L1396.4 658.1 L1396.7 659.3 L1397.1 657.7 L1397.4 657.2 L1397.7 656.5 L1398.1 654.7 L1398.4 654.7 L1398.7 655.6 L1399.1 654.7 L1399.4 653.9 L1399.7 652.5 L1400.0 653.9 L1400.4 652.8 L1400.7 652.6 L1401.0 651.6 L1401.4 651.4 L1401.7 647.3 L1402.0 646.2 L1402.4 647.6 L1402.7 648.1 L1403.0 645.5 L1403.3 644.3 L1403.7 644.0 L1404.0 642.0 L1404.3 644.0 L1404.7 642.5 L1405.0 644.6 L1405.3 640.6 L1405.7 636.8 L1406.0 634.9 L1406.3 637.2 L1406.6 632.5 L1407.0 629.9 L1407.3 627.3 L1407.6 626.0 L1408.0 626.2 L1408.3 625.6 L1408.6 623.7 L1409.0 624.7 L1409.3 629.0 L1409.6 630.8 L1409.9 632.7 L1410.3 634.5 L1410.6 629.7 L1410.9 627.9 L1411.3 626.4 L1411.6 620.5 L1411.9 621.0 L1412.3 614.2 L1412.6 611.9 L1412.9 610.7 L1413.2 610.0 L1413.6 611.0 L1413.9 612.5 L1414.2 615.6 L1414.6 614.5 L1414.9 613.7 L1415.2 611.1 L1415.6 608.7 L1415.9 609.9 L1416.2 608.5 L1416.5 610.9 L1416.9 609.3 L1417.2 603.8 L1417.5 607.2 L1417.9 604.9 L1418.2 607.0 L1418.5 606.8 L1418.9 608.0 L1419.2 609.1 L1419.5 606.3 L1419.8 605.3 L1420.2 605.0 L1420.5 605.9 L1420.8 605.4 L1421.2 606.7 L1421.5 598.7 L1421.8 598.2 L1422.2 600.7 L1422.5 595.3 L1422.8 594.8 L1423.1 595.5 L1423.5 596.5 L1423.8 594.8 L1424.1 593.4 L1424.5 591.6 L1424.8 592.4 L1425.1 591.3 L1425.5 591.1 L1425.8 588.8 L1426.1 588.8 L1426.4 587.0 L1426.8 585.2 L1427.1 584.4 L1427.4 583.4 L1427.8 582.7 L1428.1 582.7 L1428.4 582.7 L1428.8 587.2 L1429.1 589.7 L1429.4 594.2 L1429.7 593.1 L1430.1 598.2 L1430.4 603.4 L1430.7 599.7 L1431.1 597.4 L1431.4 592.1 L1431.7 587.8 L1432.1 587.5 L1432.4 586.1 L1432.7 582.8 L1433.0 586.2 L1433.4 589.4 L1433.7 589.2 L1434.0 587.4 L1434.4 590.2 L1434.7 589.0 L1435.0 588.1 L1435.4 587.9 L1435.7 589.2 L1436.0 586.7 L1436.3 584.5 L1436.7 581.3 L1437.0 582.7 L1437.3 580.2 L1437.7 580.6 L1438.0 577.7 L1438.3 577.2 L1438.7 576.1 L1439.0 575.8 L1439.3 574.1 L1439.6 577.8 L1440.0 577.5 L1440.3 575.0 L1440.6 572.4 L1441.0 575.8 L1441.3 575.0 L1441.6 576.8 L1442.0 578.7 L1442.3 577.0 L1442.6 578.3 L1442.9 579.0 L1443.3 577.8 L1443.6 578.3 L1443.9 577.5 L1444.3 571.8 L1444.6 575.1 L1444.9 578.3 L1445.3 578.3 L1445.6 581.9 L1445.9 579.8 L1446.2 581.1 L1446.6 580.0 L1446.9 578.8 L1447.2 576.5 L1447.6 576.4 L1447.9 575.6 L1448.2 570.0 L1448.6 571.2 L1448.9 570.8 L1449.2 569.3 L1449.5 564.5 L1449.9 564.3 L1450.2 563.5 L1450.5 559.6 L1450.9 557.7 L1451.2 562.0 L1451.5 558.4 L1451.9 557.4 L1452.2 554.3 L1452.5 555.4 L1452.8 558.6 L1453.2 557.7 L1453.5 554.8 L1453.8 555.3 L1454.2 556.4 L1454.5 558.5 L1454.8 557.1 L1455.2 560.3 L1455.5 559.7 L1455.8 557.9 L1456.1 555.5 L1456.5 553.5 L1456.8 554.7 L1457.1 549.1 L1457.5 551.2 L1457.8 556.9 L1458.1 549.6 L1458.5 548.0 L1458.8 549.3 L1459.1 555.5 L1459.4 551.6 L1459.8 556.7 L1460.1 557.4 L1460.4 562.5 L1460.8 559.1 L1461.1 563.5 L1461.4 558.4 L1461.8 561.1 L1462.1 560.0 L1462.4 562.3 L1462.7 562.9 L1463.1 565.7 L1463.4 571.1 L1463.7 568.8 L1464.1 575.3 L1464.4 575.9 L1464.7 574.6 L1465.1 574.9 L1465.4 577.1 L1465.7 576.6 L1466.0 580.6 L1466.4 581.6 L1466.7 578.1 L1467.0 582.7 L1467.4 586.9 L1467.7 589.7 L1468.0 593.4 L1468.4 596.1 L1468.7 598.0 L1469.0 602.0 L1469.3 602.4 L1469.7 597.0 L1470.0 597.0 L1470.3 591.1 L1470.7 593.2 L1471.0 586.5 L1471.3 584.7 L1471.7 584.5 L1472.0 581.8 L1472.3 584.8 L1472.6 589.7 L1473.0 589.2 L1473.3 592.9 L1473.6 594.8 L1474.0 592.6 L1474.3 588.7 L1474.6 587.8 L1475.0 587.5 L1475.3 587.9 L1475.6 589.2 L1475.9 584.0 L1476.3 585.8 L1476.6 586.6 L1476.9 589.7 L1477.3 583.1 L1477.6 582.1 L1477.9 587.4 L1478.3 588.3 L1478.6 592.8 L1478.9 592.5 L1479.2 591.9 L1479.6 594.0 L1479.9 598.8 L1480.2 599.8 L1480.6 599.7 L1480.9 600.3 L1481.2 603.8 L1481.6 604.3 L1481.9 604.5 L1482.2 606.5 L1482.5 609.3 L1482.9 610.5 L1483.2 618.3 L1483.5 618.0 L1483.9 616.3 L1484.2 610.9 L1484.5 605.0 L1484.9 605.9 L1485.2 603.3 L1485.5 598.9 L1485.8 601.0 L1486.2 598.9 L1486.5 600.7 L1486.8 600.5 L1487.2 603.3 L1487.5 604.6 L1487.8 604.9 L1488.2 606.9 L1488.5 604.7 L1488.8 610.7 L1489.1 604.4 L1489.5 608.9 L1489.8 611.8 L1490.1 610.7 L1490.5 612.4 L1490.8 610.8 L1491.1 612.9 L1491.5 616.1 L1491.8 614.3 L1492.1 613.0 L1492.4 619.3 L1492.8 622.3 L1493.1 625.3 L1493.4 630.3 L1493.8 631.0 L1494.1 637.6 L1494.4 640.9 L1494.8 643.2 L1495.1 646.1 L1495.4 649.5 L1495.7 649.6 L1496.1 648.1 L1496.4 648.9 L1496.7 651.9 L1497.1 651.6 L1497.4 653.8 L1497.7 655.7 L1498.1 656.2 L1498.4 659.2 L1498.7 654.5 L1499.0 655.9 L1499.4 654.3 L1499.7 650.7 L1500.0 650.5 L1500.4 650.8 L1500.7 647.4 L1501.0 646.6 L1501.4 644.7 L1501.7 646.0 L1502.0 647.4 L1502.3 649.9 L1502.7 652.6 L1503.0 658.8 L1503.3 657.9 L1503.7 660.5 L1504.0 659.9 L1504.3 665.6 L1504.7 665.9 L1505.0 667.3 L1505.3 669.4 L1505.6 672.8 L1506.0 673.9 L1506.3 676.6 L1506.6 682.0 L1507.0 681.1 L1507.3 680.2 L1507.6 678.6 L1508.0 682.2 L1508.3 681.5 L1508.6 682.4 L1508.9 684.9 L1509.3 686.4 L1509.6 687.5 L1509.9 688.9 L1510.3 684.2 L1510.6 683.1 L1510.9 681.9 L1511.3 680.9 L1511.6 681.0 L1511.9 680.1 L1512.2 683.0 L1512.6 679.4 L1512.9 685.1 L1513.2 676.9 L1513.6 680.4 L1513.9 675.5 L1514.2 675.9 L1514.6 673.8 L1514.9 675.3 L1515.2 676.6 L1515.5 678.9 L1515.9 681.7 L1516.2 684.4 L1516.5 688.2 L1516.9 686.1 L1517.2 683.7 L1517.5 682.6 L1517.9 681.9 L1518.2 677.3 L1518.5 672.4 L1518.8 673.0 L1519.2 674.3 L1519.5 670.0 L1519.8 672.9 L1520.2 671.8 L1520.5 672.2 L1520.8 675.9 L1521.2 673.6 L1521.5 673.4 L1521.8 667.4 L1522.1 667.6 L1522.5 669.2 L1522.8 668.1 L1523.1 667.1 L1523.5 669.1 L1523.8 666.5 L1524.1 665.0 L1524.5 665.8 L1524.8 667.5 L1525.1 668.9 L1525.4 669.2 L1525.8 672.6 L1526.1 672.9 L1526.4 671.8 L1526.8 676.0 L1527.1 667.8 L1527.4 668.9 L1527.8 666.1 L1528.1 672.3 L1528.4 669.1 L1528.7 669.2 L1529.1 667.8 L1529.4 669.9 L1529.7 666.8 L1530.1 670.5 L1530.4 665.8 L1530.7 671.2 L1531.1 675.2 L1531.4 676.6 L1531.7 676.3 L1532.0 670.0 L1532.4 673.4 L1532.7 673.6 L1533.0 678.6 L1533.4 677.9 L1533.7 678.9 L1534.0 681.5 L1534.4 681.0 L1534.7 676.7 L1535.0 677.5 L1535.3 675.2 L1535.7 684.8 L1536.0 685.5 L1536.3 684.4 L1536.7 690.0 L1537.0 690.7 L1537.3 692.2 L1537.7 698.0 L1538.0 692.2 L1538.3 693.1 L1538.6 697.9 L1539.0 700.0 L1539.3 705.2 L1539.6 703.9 L1540.0 707.5 L1540.3 714.3 L1540.6 710.7 L1541.0 711.7 L1541.3 716.8 L1541.6 725.1 L1541.9 729.9 L1542.3 739.7 L1542.6 745.8 L1542.9 758.2 L1543.3 765.2 L1543.6 770.9 L1543.9 775.1 L1544.3 779.4 L1544.6 777.2 L1544.9 782.0 L1545.2 781.1 L1545.6 790.2 L1545.9 788.0 L1546.2 789.4 L1546.6 792.4 L1546.9 800.9 L1547.2 795.0 L1547.6 800.7 L1547.9 798.8 L1548.2 804.8 L1548.5 800.0 L1548.9 798.2 L1549.2 799.4 L1549.5 799.0 L1549.9 798.9 L1550.2 802.5 L1550.5 800.4 L1550.9 802.7 L1551.2 802.5 L1551.5 803.0 L1551.8 804.4 L1552.2 803.6 L1552.5 799.7 L1552.8 804.2 L1553.2 797.6 L1553.5 804.6 L1553.8 807.2 L1554.2 803.2 L1554.5 806.3 L1554.8 800.7 L1555.1 804.5 L1555.5 802.8 L1555.8 802.2 L1556.1 802.1 L1556.5 801.6 L1556.8 802.9 L1557.1 802.2 L1557.5 801.9 L1557.8 801.8 L1558.1 801.3 L1558.4 800.4 L1558.8 801.1 L1559.1 801.3 L1559.4 799.8 L1559.8 800.3 L1560.1 800.7 L1560.4 800.7 L1560.8 801.8 L1561.1 800.5 L1561.4 802.4 L1561.7 802.2 L1562.1 802.8 L1562.4 802.5 L1562.7 804.1 L1563.1 803.4 L1563.4 803.8 L1563.7 803.1 L1564.1 803.5 L1564.4 804.0 L1564.7 804.1 L1565.0 803.9 L1565.4 804.9 L1565.7 804.1 L1566.0 804.7 L1566.4 805.1 L1566.7 805.4 L1567.0 806.0 L1567.4 806.3 L1567.7 806.5 L1568.0 806.9 L1568.3 806.9 L1568.7 807.2 L1569.0 807.6 L1569.3 807.6 L1569.7 807.6 L1570.0 807.2 L1570.3 807.0 L1570.7 806.4 L1571.0 805.6 L1571.3 804.8 L1571.6 803.8 L1572.0 803.8 L1572.3 804.0 L1572.6 803.8 L1573.0 803.9 L1573.3 804.3 L1573.6 805.1 L1574.0 804.8 L1574.3 804.1 L1574.6 804.5 L1574.9 804.4 L1575.3 804.2 L1575.6 803.7 L1575.9 803.7 L1576.3 804.5 L1576.6 804.6 L1576.9 805.6 L1577.3 804.4 L1577.6 804.2 L1577.9 804.5 L1578.2 804.6 L1578.6 804.8 L1578.9 805.4 L1579.2 805.9 L1579.6 805.3 L1579.9 805.6 L1580.2 805.6 L1580.6 805.4 L1580.9 805.5 L1581.2 805.3 L1581.5 804.7 L1581.9 804.6 L1582.2 804.5 L1582.5 804.0 L1582.9 803.9 L1583.2 804.1 L1583.5 803.9 L1583.9 803.6 L1584.2 803.8 L1584.5 803.5 L1584.8 803.3 L1585.2 802.9 L1585.5 802.9 L1585.8 802.6 L1586.2 802.4 L1586.5 802.2 L1586.8 801.8 L1587.2 802.0 L1587.5 801.5 L1587.8 802.1 L1588.1 802.2 L1588.5 802.9 L1588.8 803.1 L1589.1 803.6 L1589.5 803.5 L1589.8 804.0 L1590.1 804.5 L1590.5 804.8 L1590.8 805.0 L1591.1 805.1 L1591.4 804.6 L1591.8 805.8 L1592.1 805.8 L1592.4 806.2 L1592.8 806.9 L1593.1 806.5 L1593.4 807.1 L1593.8 807.6 L1594.1 807.4 L1594.4 807.1 L1594.7 806.8 L1595.1 806.8 L1595.4 806.2 L1595.7 806.3 L1596.1 806.8 L1596.4 806.4 L1596.7 806.6 L1597.1 806.5 L1597.4 806.3 L1597.7 805.8 L1598.0 806.0 L1598.4 805.9 L1598.7 805.8 L1599.0 805.9 L1599.4 806.0 L1599.7 806.0 L1600.0 805.9 L1600.4 805.9 L1600.7 806.9 L1601.0 807.3 L1601.3 807.8 L1601.7 807.7 L1602.0 808.7 L1602.3 809.2 L1602.7 808.7 L1603.0 808.6 L1603.3 808.0 L1603.7 807.9 L1604.0 807.7 L1604.3 807.4 L1604.6 806.7 L1605.0 806.0 L1605.3 805.1 L1605.6 804.3 L1606.0 803.8 L1606.3 804.4 L1606.6 803.9 L1607.0 804.3 L1607.3 804.7 L1607.6 804.4 L1607.9 804.2 L1608.3 804.5 L1608.6 804.4 L1608.9 804.0 L1609.3 804.4 L1609.6 804.2 L1609.9 803.9 L1610.3 803.1 L1610.6 803.8 L1610.9 803.8 L1611.2 803.7 L1611.6 803.9 L1611.9 802.5 L1612.2 802.0 L1612.6 802.7 L1612.9 802.6 L1613.2 802.2 L1613.6 801.7 L1613.9 802.3 L1614.2 802.1 L1614.5 802.6 L1614.9 801.7 L1615.2 802.2 L1615.5 802.7 L1615.9 803.3 L1616.2 802.1 L1616.5 802.7 L1616.9 802.7 L1617.2 803.2 L1617.5 803.4 L1617.8 803.9 L1618.2 804.1 L1618.5 803.7 L1618.8 803.3 L1619.2 803.6 L1619.5 803.8 L1619.8 803.1 L1620.2 802.6 L1620.5 804.3 L1620.8 804.5 L1621.1 805.5 L1621.5 804.5 L1621.8 804.5 L1622.1 804.4 L1622.5 804.3 L1622.8 803.3 L1623.1 804.3 L1623.5 803.1 L1623.8 801.9 L1624.1 801.9 L1624.4 800.2 L1624.8 799.6 L1625.1 797.5 L1625.4 796.0 L1625.8 794.5 L1626.1 793.7 L1626.4 793.4 L1626.8 794.1 L1627.1 794.6 L1627.4 794.7 L1627.7 796.8 L1628.1 797.4 L1628.4 796.6 L1628.7 796.6 L1629.1 797.1 L1629.4 798.3 L1629.7 799.5 L1630.1 798.8 L1630.4 798.5 L1630.7 797.8 L1631.0 798.3 L1631.4 798.8 L1631.7 797.0 L1632.0 799.3 L1632.4 798.2 L1632.7 798.8 L1633.0 801.4 L1633.4 801.4 L1633.7 801.1 L1634.0 798.3 L1634.3 799.3 L1634.7 798.7 L1635.0 798.3 L1635.3 799.5 L1635.7 797.5 L1636.0 800.2 L1636.3 798.9 L1636.7 798.8 L1637.0 798.2 L1637.3 798.7 L1637.6 800.9 L1638.0 799.6 L1638.3 797.2 L1638.6 796.8 L1639.0 799.4 L1639.3 799.2 L1639.6 796.8 L1640.0 797.0 L1640.3 797.1 L1640.6 797.7 L1640.9 795.2 L1641.3 795.9 L1641.6 793.6 L1641.9 792.9 L1642.3 792.9 L1642.6 794.7 L1642.9 792.2 L1643.3 793.7 L1643.6 791.3 L1643.9 791.5 L1644.2 788.4 L1644.6 783.9 L1644.9 781.2 L1645.2 782.6 L1645.6 786.3 L1645.9 782.4 L1646.2 779.2 L1646.6 779.0 L1646.9 775.8 L1647.2 774.5 L1647.5 774.6 L1647.9 774.5 L1648.2 771.9 L1648.5 770.5 L1648.9 776.8 L1649.2 774.7 L1649.5 775.1 L1649.9 777.9 L1650.2 778.5 L1650.5 777.3 L1650.8 778.4 L1651.2 776.5 L1651.5 771.0 L1651.8 768.1 L1652.2 767.8 L1652.5 763.2 L1652.8 760.9 L1653.2 758.8 L1653.5 763.1 L1653.8 763.9 L1654.1 761.4 L1654.5 765.3 L1654.8 769.9 L1655.1 765.2 L1655.5 759.6 L1655.8 762.3 L1656.1 759.8 L1656.5 758.1 L1656.8 760.4 L1657.1 758.8 L1657.4 760.8 L1657.8 752.7 L1658.1 750.4 L1658.4 749.8 L1658.8 749.5 L1659.1 744.6 L1659.4 745.6 L1659.8 740.1 L1660.1 739.3 L1660.4 738.7 L1660.7 738.7 L1661.1 737.7 L1661.4 733.4 L1661.7 733.9 L1662.1 732.4 L1662.4 729.2 L1662.7 726.9 L1663.1 723.1 L1663.4 726.3 L1663.7 724.1 L1664.0 718.4 L1664.4 717.6 L1664.7 709.5 L1665.0 706.0 L1665.4 703.4 L1665.7 702.7 L1666.0 698.4 L1666.4 691.9 L1666.7 682.5 L1667.0 675.7 L1667.3 676.6 L1667.7 676.7 L1668.0 671.5 L1668.3 678.4 L1668.7 674.0 L1669.0 672.5 L1669.3 672.1 L1669.7 671.2 L1670.0 669.3 L1670.3 673.0 L1670.6 678.3 L1671.0 676.6 L1671.3 667.3 L1671.6 662.1 L1672.0 655.6 L1672.3 651.8 L1672.6 648.5 L1673.0 644.1 L1673.3 642.6 L1673.6 635.4 L1673.9 634.0 L1674.3 629.1 L1674.6 619.6 L1674.9 612.7 L1675.3 613.0 L1675.6 609.1 L1675.9 606.5 L1676.3 605.1 L1676.6 595.8 L1676.9 599.8 L1677.2 599.2 L1677.6 599.0 L1677.9 592.5 L1678.2 591.0 L1678.6 590.9 L1678.9 588.9 L1679.2 581.6 L1679.6 576.5 L1679.9 578.0 L1680.2 575.5 L1680.5 576.9 L1680.9 571.2 L1681.2 577.9 L1681.5 580.2 L1681.9 581.8 L1682.2 583.1 L1682.5 575.0 L1682.9 570.9 L1683.2 569.2 L1683.5 568.6 L1683.8 569.4 L1684.2 574.7 L1684.5 581.3 L1684.8 584.0 L1685.2 591.0 L1685.5 594.0 L1685.8 593.0 L1686.2 584.1 L1686.5 580.8 L1686.8 571.8 L1687.1 570.9 L1687.5 565.8 L1687.8 560.6 L1688.1 560.6 L1688.5 558.8 L1688.8 555.6 L1689.1 555.5 L1689.5 551.5 L1689.8 546.4 L1690.1 545.1 L1690.4 547.5 L1690.8 538.9 L1691.1 532.3 L1691.4 533.2 L1691.8 529.5 L1692.1 533.9 L1692.4 531.2 L1692.8 526.6 L1693.1 526.6 L1693.4 523.3 L1693.7 527.0 L1694.1 532.5 L1694.4 537.2 L1694.7 537.4 L1695.1 530.6 L1695.4 529.0 L1695.7 527.9 L1696.1 528.1 L1696.4 538.9 L1696.7 541.9 L1697.0 551.3 L1697.4 547.8 L1697.7 542.3 L1698.0 532.9 L1698.4 528.8 L1698.7 524.8 L1699.0 518.8 L1699.4 518.0 L1699.7 520.3 L1700.0 517.1 L1700.3 517.1 L1700.7 517.6 L1701.0 511.8 L1701.3 514.2 L1701.7 508.5 L1702.0 503.7 L1702.3 500.6 L1702.7 499.0 L1703.0 488.5 L1703.3 487.9 L1703.6 481.1 L1704.0 478.1 L1704.3 471.5 L1704.6 462.9 L1705.0 463.0 L1705.3 454.4 L1705.6 439.9 L1706.0 428.9 L1706.3 423.2 L1706.6 424.6 L1706.9 429.5 L1707.3 424.2 L1707.6 417.8 L1707.9 421.8 L1708.3 418.1 L1708.6 414.6 L1708.9 418.2 L1709.3 415.5 L1709.6 411.9 L1709.9 409.4 L1710.2 406.4 L1710.6 394.5 L1710.9 400.2 L1711.2 406.7 L1711.6 410.9 L1711.9 408.1 L1712.2 402.2 L1712.6 398.7 L1712.9 398.7 L1713.2 394.1 L1713.5 394.1 L1713.9 391.2 L1714.2 386.6 L1714.5 384.9 L1714.9 391.3 L1715.2 399.5 L1715.5 407.0 L1715.9 406.0 L1716.2 411.7 L1716.5 414.3 L1716.8 414.5 L1717.2 416.8 L1717.5 426.6 L1717.8 425.9 L1718.2 428.3 L1718.5 432.2 L1718.8 434.9 L1719.2 434.3 L1719.5 428.0 L1719.8 425.3 L1720.1 424.4 L1720.5 422.5 L1720.8 417.2 L1721.1 412.3 L1721.5 416.8 L1721.8 417.1 L1722.1 416.6 L1722.5 412.7 L1722.8 406.1 L1723.1 411.4 L1723.4 422.6 L1723.8 424.3 L1724.1 427.6 L1724.4 426.4 L1724.8 430.2 L1725.1 437.7 L1725.4 440.2 L1725.8 441.7 L1726.1 446.2 L1726.4 446.7 L1726.7 447.0 L1727.1 445.9 L1727.4 446.0 L1727.7 446.3 L1728.1 443.3 L1728.4 437.1 L1728.7 436.9 L1729.1 434.0 L1729.4 432.6 L1729.7 432.1 L1730.0 426.1 L1730.4 420.7 L1730.7 417.7 L1731.0 412.1 L1731.4 403.1 L1731.7 399.8 L1732.0 397.2 L1732.4 395.2 L1732.7 388.0 L1733.0 383.0 L1733.3 380.0 L1733.7 375.8 L1734.0 378.9 L1734.3 377.1 L1734.7 367.5 L1735.0 368.9 L1735.3 359.5 L1735.7 354.5 L1736.0 381.3 L1736.3 394.1 L1736.6 416.9 L1737.0 431.1 L1737.3 437.0 L1737.6 440.9 L1738.0 449.9 L1738.3 463.1 L1738.6 470.0 L1739.0 471.7 L1739.3 465.6 L1739.6 457.3 L1739.9 456.6 L1740.3 459.5 L1740.6 461.1 L1740.9 458.7 L1741.3 456.3 L1741.6 454.6 L1741.9 454.4 L1742.3 456.3 L1742.6 463.2 L1742.9 471.2 L1743.2 451.7 L1743.6 437.3 L1743.9 439.0 L1744.2 447.3 L1744.6 458.2 L1744.9 460.7 L1745.2 462.5 L1745.6 467.3 L1745.9 468.9 L1746.2 468.7 L1746.5 466.0 L1746.9 460.9 L1747.2 448.2 L1747.5 446.6 L1747.9 436.5 L1748.2 436.6 L1748.5 428.0 L1748.9 426.2 L1749.2 419.9 L1749.5 416.2 L1749.8 407.5 L1750.2 401.0 L1750.5 397.8 L1750.8 398.1 L1751.2 395.6 L1751.5 396.5 L1751.8 394.3 L1752.2 394.4 L1752.5 391.8 L1752.8 388.2 L1753.1 385.5 L1753.5 385.3 L1753.8 384.5 L1754.1 377.5 L1754.5 378.6 L1754.8 374.6 L1755.1 373.2 L1755.5 372.0 L1755.8 362.4 L1756.1 366.6 L1756.4 378.0 L1756.8 379.4 L1757.1 390.3 L1757.4 395.3 L1757.8 388.6 L1758.1 386.7 L1758.4 382.4 L1758.8 375.0 L1759.1 375.3 L1759.4 376.8 L1759.7 374.3 L1760.1 375.5 L1760.4 376.9 L1760.7 381.7 L1761.1 382.4 L1761.4 384.1 L1761.7 384.8 L1762.1 384.9 L1762.4 382.7 L1762.7 374.4 L1763.0 368.6 L1763.4 362.1 L1763.7 368.8 L1764.0 361.6 L1764.4 357.9 L1764.7 355.5 L1765.0 359.9 L1765.4 359.0 L1765.7 352.4 L1766.0 358.2 L1766.3 367.6 L1766.7 368.1 L1767.0 371.3 L1767.3 379.9 L1767.7 371.0 L1768.0 366.4 L1768.3 365.3 L1768.7 367.6 L1769.0 360.0 L1769.3 349.6 L1769.6 347.7 L1770.0 347.3 L1770.3 351.4 L1770.6 350.7 L1771.0 352.7 L1771.3 349.7 L1771.6 347.7 L1772.0 350.0 L1772.3 354.2 L1772.6 348.2 L1772.9 345.5 L1773.3 352.4 L1773.6 352.8 L1773.9 352.8 L1774.3 348.7 L1774.6 347.2 L1774.9 344.6 L1775.3 344.8 L1775.6 352.3 L1775.9 350.8 L1776.2 352.3 L1776.6 355.3 L1776.9 355.9 L1777.2 361.5 L1777.6 358.9 L1777.9 360.2 L1778.2 356.3 L1778.6 359.3 L1778.9 360.2 L1779.2 360.2 L1779.5 353.9 L1779.9 356.3 L1780.2 353.6 L1780.5 365.8 L1780.9 366.4 L1781.2 374.1 L1781.5 380.8 L1781.9 383.7 L1782.2 383.5 L1782.5 387.1 L1782.8 392.1 L1783.2 388.1 L1783.5 397.5 L1783.8 402.2 L1784.2 403.8 L1784.5 403.0 L1784.8 406.1 L1785.2 403.6 L1785.5 406.3 L1785.8 409.7 L1786.1 411.2 L1786.5 419.4 L1786.8 420.0 L1787.1 413.0 L1787.5 420.6 L1787.8 421.4 L1788.1 420.1 L1788.5 419.0 L1788.8 427.1 L1789.1 425.5 L1789.4 426.0 L1789.8 422.1 L1790.1 425.0 L1790.4 431.3 L1790.8 432.6 L1791.1 432.9 L1791.4 434.8 L1791.8 428.9 L1792.1 422.3 L1792.4 426.0 L1792.7 419.5 L1793.1 414.9 L1793.4 416.2 L1793.7 415.9 L1794.1 410.1 L1794.4 409.9 L1794.7 404.4 L1795.1 391.6 L1795.4 397.8 L1795.7 389.8 L1796.0 395.2 L1796.4 393.2 L1796.7 394.1 L1797.0 394.1 L1797.4 393.6 L1797.7 395.8 L1798.0 397.8 L1798.4 396.1 L1798.7 389.4 L1799.0 392.6 L1799.3 397.7 L1799.7 400.3 L1800.0 398.4 L1800.3 405.8 L1800.7 397.7 L1801.0 393.0 L1801.3 392.2 L1801.7 390.1 L1802.0 388.5 L1802.3 387.2 L1802.6 387.9 L1803.0 392.2 L1803.3 389.4 L1803.6 392.5 L1804.0 389.5 L1804.3 384.8 L1804.6 380.7 L1805.0 374.4 L1805.3 371.0 L1805.6 371.6 L1805.9 365.7 L1806.3 368.9 L1806.6 368.5 L1806.9 367.2 L1807.3 364.0 L1807.6 360.9 L1807.9 361.6 L1808.3 359.2 L1808.6 359.6 L1808.9 359.4 L1809.2 358.5 L1809.6 367.4 L1809.9 367.8 L1810.2 371.4 L1810.6 380.8 L1810.9 381.6 L1811.2 383.4 L1811.6 381.9 L1811.9 385.0 L1812.2 386.1 L1812.5 379.9 L1812.9 376.5 L1813.2 375.0 L1813.5 370.3 L1813.9 372.4 L1814.2 367.6 L1814.5 365.5 L1814.9 367.4 L1815.2 373.2 L1815.5 374.9 L1815.8 374.1 L1816.2 386.4 L1816.5 391.1 L1816.8 385.3 L1817.2 381.9 L1817.5 379.7 L1817.8 381.6 L1818.2 380.8 L1818.5 382.0 L1818.8 387.0 L1819.1 383.9 L1819.5 383.3 L1819.8 387.4 L1820.1 389.7 L1820.5 391.9 L1820.8 394.6 L1821.1 391.5 L1821.5 401.2 L1821.8 397.1 L1822.1 403.5 L1822.4 407.5 L1822.8 410.0 L1823.1 409.8 L1823.4 407.6 L1823.8 409.3 L1824.1 408.6 L1824.4 413.4 L1824.8 416.4 L1825.1 414.7 L1825.4 426.8 L1825.7 427.2 L1826.1 433.8 L1826.4 441.3 L1826.7 443.4 L1827.1 445.8 L1827.4 445.2 L1827.7 447.4 L1828.1 449.4 L1828.4 452.9 L1828.7 458.7 L1829.0 460.8 L1829.4 466.9 L1829.7 467.8 L1830.0 470.7 L1830.4 465.8 L1830.7 474.9 L1831.0 481.7 L1831.4 481.7 L1831.7 485.9 L1832.0 486.7 L1832.3 489.4 L1832.7 491.8 L1833.0 492.6 L1833.3 493.4 L1833.7 495.0 L1834.0 495.6 L1834.3 493.4 L1834.7 497.1 L1835.0 495.3 L1835.3 493.4 L1835.6 494.9 L1836.0 493.5 L1836.3 492.6 L1836.6 483.3 L1837.0 480.0 L1837.3 476.9 L1837.6 472.6 L1838.0 468.5 L1838.3 468.0 L1838.6 466.7 L1838.9 467.2 L1839.3 458.1 L1839.6 456.4 L1839.9 450.9 L1840.3 448.8 L1840.6 440.9 L1840.9 449.0 L1841.3 440.2 L1841.6 440.9 L1841.9 434.7 L1842.2 435.4 L1842.6 432.7 L1842.9 427.9 L1843.2 428.1 L1843.6 429.1 L1843.9 428.6 L1844.2 423.2 L1844.6 430.4 L1844.9 431.2 L1845.2 430.4 L1845.5 438.4 L1845.9 436.0 L1846.2 438.9 L1846.5 444.1 L1846.9 442.8 L1847.2 442.9 L1847.5 446.4 L1847.9 439.7 L1848.2 436.4 L1848.5 432.2 L1848.8 427.8 L1849.2 427.7 L1849.5 426.5 L1849.8 428.6 L1850.2 425.9 L1850.5 419.7 L1850.8 423.0 L1851.2 423.1 L1851.5 423.9 L1851.8 428.0 L1852.1 427.8 L1852.5 421.5 L1852.8 428.6 L1853.1 424.5 L1853.5 418.6 L1853.8 421.8 L1854.1 427.4 L1854.5 426.8 L1854.8 429.3 L1855.1 428.6 L1855.4 433.8 L1855.8 433.5 L1856.1 439.1 L1856.4 437.8 L1856.8 437.1 L1857.1 434.1 L1857.4 437.2 L1857.8 431.5 L1858.1 432.4 L1858.4 429.9 L1858.7 422.9 L1859.1 420.4 L1859.4 430.2 L1859.7 437.8 L1860.1 439.1 L1860.4 446.3 L1860.7 446.2 L1861.1 445.5 L1861.4 446.1 L1861.7 445.4 L1862.0 452.7 L1862.4 453.1 L1862.7 455.0 L1863.0 460.3 L1863.4 464.2 L1863.7 460.0 L1864.0 458.3 L1864.4 454.6 L1864.7 451.9 L1865.0 450.9 L1865.3 452.4 L1865.7 449.3 L1866.0 454.9 L1866.3 463.2 L1866.7 465.5 L1867.0 471.8 L1867.3 478.8 L1867.7 480.6 L1868.0 483.3 L1868.3 479.6 L1868.6 477.8 L1869.0 475.7 L1869.3 471.3 L1869.6 470.7 L1870.0 475.4 L1870.3 475.9 L1870.6 473.1 L1871.0 481.2 L1871.3 483.3 L1871.6 482.9 L1871.9 485.9 L1872.3 486.2 L1872.6 485.3 L1872.9 477.0 L1873.3 477.8 L1873.6 473.3 L1873.9 465.3 L1874.3 464.4 L1874.6 456.2 L1874.9 453.6 L1875.2 450.3 L1875.6 454.1 L1875.9 455.0 L1876.2 449.5 L1876.6 451.7 L1876.9 455.2 L1877.2 456.7 L1877.6 466.9 L1877.9 461.6 L1878.2 470.0 L1878.5 469.4 L1878.9 461.3 L1879.2 454.1 L1879.5 455.5 L1879.9 447.6 L1880.2 454.1 L1880.5 454.1 L1880.9 459.6 L1881.2 461.5 L1881.5 462.6 L1881.8 470.2 L1882.2 476.4 L1882.5 473.8 L1882.8 476.2 L1883.2 472.5 L1883.5 467.0 L1883.8 463.4 L1884.2 462.9 L1884.5 467.6 L1884.8 467.4 L1885.1 463.5 L1885.5 473.0 L1885.8 473.2 L1886.1 465.2 L1886.5 465.1 L1886.8 465.0 L1887.1 462.8 L1887.5 462.9 L1887.8 458.7 L1888.1 460.6 L1888.4 451.1 L1888.8 458.8 L1889.1 461.0 L1889.4 464.9 L1889.8 470.1 L1890.1 475.6 L1890.4 472.4 L1890.8 475.5 L1891.1 475.7 L1891.4 480.2 L1891.7 478.3 L1892.1 474.7 L1892.4 478.7 L1892.7 476.7 L1893.1 474.1 L1893.4 483.5 L1893.7 482.6 L1894.1 492.1 L1894.4 502.5 L1894.7 497.6 L1895.0 492.7 L1895.4 489.8 L1895.7 492.7 L1896.0 491.6 L1896.4 487.6 L1896.7 490.1 L1897.0 488.1 L1897.4 489.7 L1897.7 494.8 L1898.0 493.0 L1898.3 496.9 L1898.7 496.2 L1899.0 493.0 L1899.3 494.2 L1899.7 489.9 L1900.0 489.6 L1900.3 485.2 L1900.7 488.4 L1901.0 492.3 L1901.3 498.7 L1901.6 501.5 L1902.0 500.8 L1902.3 505.1 L1902.6 509.8 L1903.0 503.1 L1903.3 499.9 L1903.6 490.2 L1904.0 489.5 L1904.3 491.6 L1904.6 485.7 L1904.9 485.2 L1905.3 485.3 L1905.6 486.7 L1905.9 488.8 L1906.3 483.0 L1906.6 489.8 L1906.9 484.4 L1907.3 488.9 L1907.6 495.2 L1907.9 494.2 L1908.2 495.6 L1908.6 497.8 L1908.9 505.2 L1909.2 501.3 L1909.6 501.8 L1909.9 502.3 L1910.2 493.8 L1910.6 487.8 L1910.9 490.3 L1911.2 490.1 L1911.5 493.1 L1911.9 493.6 L1912.2 494.0 L1912.5 494.2 L1912.9 501.8 L1913.2 500.4 L1913.5 499.4 L1913.9 505.8 L1914.2 504.9 L1914.5 502.6 L1914.8 499.9 L1915.2 500.2 L1915.5 498.5 L1915.8 496.7 L1916.2 496.2 L1916.5 499.9 L1916.8 499.1 L1917.2 503.6 L1917.5 504.7 L1917.8 500.4 L1918.1 499.5 L1918.5 495.8 L1918.8 494.3 L1919.1 496.1 L1919.5 492.1 L1919.8 490.0 L1920.1 492.8 L1920.5 488.4 L1920.8 494.9 L1921.1 496.3 L1921.4 499.7 L1921.8 498.8 L1922.1 502.7 L1922.4 504.7 L1922.8 502.4 L1923.1 504.7 L1923.4 502.1 L1923.8 502.5 L1924.1 502.3 L1924.4 505.3 L1924.7 504.2 L1925.1 504.9 L1925.4 507.8 L1925.7 505.8 L1926.1 510.1 L1926.4 502.8 L1926.7 499.2 L1927.1 494.4 L1927.4 492.1 L1927.7 486.1 L1928.0 478.3 L1928.4 472.8 L1928.7 472.2 L1929.0 466.9 L1929.4 461.1 L1929.7 460.5 L1930.0 459.7 L1930.4 456.0 L1930.7 457.5 L1931.0 463.0 L1931.3 460.4 L1931.7 464.1 L1932.0 468.3 L1932.3 470.9 L1932.7 465.0 L1933.0 468.4 L1933.3 468.2 L1933.7 474.2 L1934.0 473.1 L1934.3 472.2 L1934.6 472.4 L1935.0 470.9 L1935.3 466.2 L1935.9 468.6" stroke="#c41e3a" stroke-width="3.3"/>
<path d="M126.9 317.8 L127.2 309.1 L127.6 309.2 L127.9 306.5 L128.2 302.9 L128.6 301.5 L128.9 300.1 L129.2 302.3 L129.5 304.9 L129.9 308.1 L130.2 307.5 L130.5 310.4 L130.9 310.2 L131.2 309.6 L131.5 309.0 L131.9 307.2 L132.2 305.6 L132.5 309.5 L132.8 310.7 L133.2 310.1 L133.5 308.5 L133.8 302.4 L134.2 300.5 L134.5 297.4 L134.8 300.6 L135.2 297.2 L135.5 295.3 L135.8 291.0 L136.1 291.4 L136.5 294.8 L136.8 298.6 L137.1 302.7 L137.5 300.2 L137.8 305.6 L138.1 303.9 L138.5 304.4 L138.8 305.4 L139.1 305.6 L139.4 308.3 L139.8 310.1 L140.1 307.9 L140.4 304.0 L140.8 304.5 L141.1 303.6 L141.4 303.6 L141.8 301.5 L142.1 296.9 L142.4 298.2 L142.7 300.0 L143.1 304.5 L143.4 303.5 L143.7 305.9 L144.1 302.6 L144.4 296.1 L144.7 295.8 L145.1 295.4 L145.4 293.3 L145.7 286.8 L146.0 291.3 L146.4 290.7 L146.7 287.2 L147.0 291.3 L147.4 289.8 L147.7 291.8 L148.0 300.0 L148.4 306.0 L148.7 305.7 L149.0 305.3 L149.3 309.7 L149.7 308.3 L150.0 305.3 L150.3 301.7 L150.7 308.3 L151.0 303.9 L151.3 301.8 L151.7 305.5 L152.0 309.9 L152.3 309.4 L152.6 315.0 L153.0 314.4 L153.3 315.7 L153.6 318.5 L154.0 320.6 L154.3 326.6 L154.6 335.5 L155.0 328.0 L155.3 328.2 L155.6 328.8 L155.9 325.7 L156.3 325.6 L156.6 320.8 L156.9 322.4 L157.3 323.9 L157.6 326.9 L157.9 327.0 L158.3 322.7 L158.6 319.7 L158.9 326.3 L159.2 325.5 L159.6 317.7 L159.9 319.9 L160.2 319.2 L160.6 319.9 L160.9 317.3 L161.2 320.1 L161.6 320.9 L161.9 322.0 L162.2 325.9 L162.5 325.2 L162.9 321.7 L163.2 319.8 L163.5 322.9 L163.9 328.7 L164.2 330.4 L164.5 327.3 L164.9 331.5 L165.2 331.3 L165.5 333.1 L165.8 345.1 L166.2 354.4 L166.5 354.9 L166.8 351.7 L167.2 349.4 L167.5 354.7 L167.8 357.6 L168.2 367.6 L168.5 370.4 L168.8 367.3 L169.1 361.3 L169.5 367.9 L169.8 374.6 L170.1 380.8 L170.5 384.2 L170.8 393.2 L171.1 398.3 L171.5 406.0 L171.8 409.5 L172.1 416.6 L172.4 421.9 L172.8 426.1 L173.1 433.7 L173.4 429.6 L173.8 418.8 L174.1 410.3 L174.4 400.0 L174.8 396.8 L175.1 400.3 L175.4 405.0 L175.7 410.0 L176.1 411.3 L176.4 413.6 L176.7 406.2 L177.1 403.8 L177.4 401.2 L177.7 398.4 L178.1 398.2 L178.4 391.0 L178.7 394.8 L179.0 385.5 L179.4 384.8 L179.7 376.9 L180.0 379.8 L180.4 373.5 L180.7 374.1 L181.0 372.4 L181.4 376.3 L181.7 380.1 L182.0 383.3 L182.3 385.4 L182.7 394.3 L183.0 392.7 L183.3 395.8 L183.7 397.7 L184.0 402.2 L184.3 401.0 L184.7 402.1 L185.0 405.2 L185.3 403.5 L185.6 406.1 L186.0 398.5 L186.3 397.1 L186.6 388.3 L187.0 386.4 L187.3 385.1 L187.6 386.5 L188.0 392.4 L188.3 397.3 L188.6 402.4 L188.9 397.1 L189.3 389.6 L189.6 377.6 L189.9 375.3 L190.3 374.2 L190.6 377.9 L190.9 383.3 L191.3 381.5 L191.6 388.5 L191.9 395.5 L192.2 394.7 L192.6 394.1 L192.9 400.5 L193.2 396.2 L193.6 394.1 L193.9 391.5 L194.2 380.6 L194.6 379.7 L194.9 373.3 L195.2 371.9 L195.5 373.4 L195.9 367.4 L196.2 366.1 L196.5 365.7 L196.9 362.9 L197.2 358.7 L197.5 354.1 L197.9 346.7 L198.2 340.8 L198.5 339.1 L198.8 332.1 L199.2 327.1 L199.5 326.9 L199.8 327.3 L200.2 329.5 L200.5 337.9 L200.8 339.6 L201.2 335.8 L201.5 340.3 L201.8 350.7 L202.1 357.9 L202.5 353.0 L202.8 351.6 L203.1 349.9 L203.5 346.9 L203.8 338.9 L204.1 342.6 L204.5 340.8 L204.8 340.7 L205.1 337.8 L205.4 340.6 L205.8 343.7 L206.1 345.2 L206.4 347.2 L206.8 342.7 L207.1 342.7 L207.4 339.4 L207.8 331.4 L208.1 328.1 L208.4 327.8 L208.7 324.0 L209.1 326.7 L209.4 321.0 L209.7 319.9 L210.1 319.2 L210.4 313.0 L210.7 316.1 L211.1 311.7 L211.4 307.7 L211.7 305.1 L212.0 300.3 L212.4 298.3 L212.7 304.0 L213.0 300.0 L213.4 297.0 L213.7 296.0 L214.0 295.3 L214.4 290.0 L214.7 288.7 L215.0 288.1 L215.3 288.6 L215.7 285.3 L216.0 286.7 L216.3 280.5 L216.7 276.4 L217.0 270.6 L217.3 270.6 L217.7 270.8 L218.0 269.4 L218.3 269.2 L218.6 267.2 L219.0 267.7 L219.3 268.4 L219.6 269.9 L220.0 276.6 L220.3 279.5 L220.6 283.7 L221.0 288.0 L221.3 286.4 L221.6 292.5 L221.9 292.6 L222.3 290.7 L222.6 293.3 L222.9 293.6 L223.3 288.9 L223.6 296.8 L223.9 291.9 L224.3 292.0 L224.6 285.4 L224.9 284.7 L225.2 283.1 L225.6 278.0 L225.9 277.3 L226.2 274.6 L226.6 272.6 L226.9 264.1 L227.2 262.9 L227.6 258.6 L227.9 260.5 L228.2 260.0 L228.5 267.9 L228.9 272.3 L229.2 282.9 L229.5 277.5 L229.9 284.4 L230.2 287.1 L230.5 286.1 L230.9 282.6 L231.2 280.5 L231.5 272.8 L231.8 276.5 L232.2 272.9 L232.5 272.3 L232.8 275.0 L233.2 269.4 L233.5 272.4 L233.8 274.6 L234.2 275.2 L234.5 282.0 L234.8 287.7 L235.1 286.1 L235.5 285.6 L235.8 288.2 L236.1 285.1 L236.5 282.3 L236.8 279.4 L237.1 274.1 L237.5 269.2 L237.8 266.3 L238.1 263.6 L238.4 263.5 L238.8 256.2 L239.1 253.8 L239.4 253.7 L239.8 255.8 L240.1 251.0 L240.4 255.5 L240.8 256.8 L241.1 250.7 L241.4 254.4 L241.7 249.7 L242.1 255.5 L242.4 255.2 L242.7 264.1 L243.1 266.5 L243.4 267.3 L243.7 265.4 L244.1 264.3 L244.4 268.0 L244.7 265.2 L245.0 266.6 L245.4 260.0 L245.7 262.5 L246.0 262.6 L246.4 254.1 L246.7 253.0 L247.0 253.0 L247.4 252.1 L247.7 247.7 L248.0 249.9 L248.3 246.3 L248.7 246.9 L249.0 241.2 L249.3 240.1 L249.7 243.6 L250.0 237.1 L250.3 238.3 L250.7 241.2 L251.0 239.0 L251.3 231.2 L251.6 237.0 L252.0 229.9 L252.3 230.1 L252.6 228.2 L253.0 222.4 L253.3 221.4 L253.6 210.1 L254.0 212.5 L254.3 211.9 L254.6 209.1 L254.9 208.1 L255.3 208.9 L255.6 207.5 L255.9 201.5 L256.3 203.7 L256.6 206.8 L256.9 205.9 L257.3 207.2 L257.6 201.0 L257.9 202.4 L258.2 209.3 L258.6 207.8 L258.9 215.0 L259.2 219.4 L259.6 216.4 L259.9 216.4 L260.2 220.3 L260.6 224.0 L260.9 228.1 L261.2 227.9 L261.5 230.0 L261.9 229.2 L262.2 233.2 L262.5 232.2 L262.9 237.3 L263.2 238.7 L263.5 233.6 L263.9 238.0 L264.2 236.6 L264.5 242.9 L264.8 240.6 L265.2 247.2 L265.5 249.8 L265.8 254.1 L266.2 252.4 L266.5 252.6 L266.8 257.2 L267.2 253.4 L267.5 256.8 L267.8 258.5 L268.1 260.6 L268.5 258.1 L268.8 257.9 L269.1 258.8 L269.5 268.4 L269.8 267.4 L270.1 275.0 L270.5 281.5 L270.8 288.7 L271.1 290.6 L271.4 275.5 L271.8 271.9 L272.1 264.7 L272.4 257.6 L272.8 249.0 L273.1 243.2 L273.4 239.0 L273.8 240.4 L274.1 232.6 L274.4 227.4 L274.7 223.1 L275.1 224.4 L275.4 226.5 L275.7 225.1 L276.1 224.4 L276.4 225.8 L276.7 223.0 L277.1 226.0 L277.4 232.2 L277.7 228.9 L278.0 228.5 L278.4 227.7 L278.7 232.9 L279.0 239.9 L279.4 243.1 L279.7 247.9 L280.0 257.0 L280.4 259.4 L280.7 264.3 L281.0 265.6 L281.3 273.0 L281.7 276.8 L282.0 271.7 L282.3 265.9 L282.7 270.0 L283.0 259.0 L283.3 253.5 L283.7 250.9 L284.0 259.9 L284.3 262.4 L284.6 264.1 L285.0 262.2 L285.3 266.9 L285.6 264.0 L286.0 260.9 L286.3 261.3 L286.6 261.8 L287.0 259.5 L287.3 257.1 L287.6 262.3 L287.9 264.2 L288.3 264.8 L288.6 269.1 L288.9 271.3 L289.3 275.1 L289.6 277.3 L289.9 279.2 L290.3 277.6 L290.6 283.5 L290.9 285.9 L291.2 283.9 L291.6 289.3 L291.9 289.2 L292.2 287.6 L292.6 291.0 L292.9 289.2 L293.2 295.7 L293.6 292.0 L293.9 298.8 L294.2 295.4 L294.5 297.0 L294.9 301.3 L295.2 300.3 L295.5 295.0 L295.9 297.6 L296.2 294.2 L296.5 300.0 L296.9 294.5 L297.2 293.5 L297.5 291.3 L297.8 285.1 L298.2 286.3 L298.5 288.6 L298.8 283.3 L299.2 282.8 L299.5 285.4 L299.8 288.7 L300.2 284.4 L300.5 286.2 L300.8 288.7 L301.1 292.4 L301.5 289.8 L301.8 298.8 L302.1 301.5 L302.5 294.6 L302.8 295.4 L303.1 300.1 L303.5 300.3 L303.8 302.0 L304.1 305.3 L304.4 305.4 L304.8 302.6 L305.1 302.1 L305.4 298.5 L305.8 297.6 L306.1 297.3 L306.4 295.9 L306.8 294.5 L307.1 299.9 L307.4 295.8 L307.7 298.6 L308.1 302.6 L308.4 300.3 L308.7 302.6 L309.1 301.0 L309.4 301.5 L309.7 304.8 L310.1 307.7 L310.4 309.5 L310.7 313.0 L311.0 315.0 L311.4 316.3 L311.7 317.2 L312.0 320.7 L312.4 324.2 L312.7 328.6 L313.0 330.2 L313.4 339.8 L313.7 345.3 L314.0 347.8 L314.3 349.2 L314.7 354.2 L315.0 353.4 L315.3 354.3 L315.7 357.9 L316.0 357.1 L316.3 359.6 L316.7 358.8 L317.0 361.8 L317.3 362.5 L317.6 363.9 L318.0 363.9 L318.3 363.3 L318.6 361.2 L319.0 360.2 L319.3 353.8 L319.6 349.8 L320.0 350.3 L320.3 349.3 L320.6 346.6 L320.9 348.9 L321.3 345.6 L321.6 345.6 L321.9 345.6 L322.3 343.4 L322.6 344.6 L322.9 353.0 L323.3 353.6 L323.6 351.3 L323.9 354.8 L324.2 356.5 L324.6 353.1 L324.9 353.9 L325.2 350.9 L325.6 351.7 L325.9 352.5 L326.2 361.1 L326.6 356.0 L326.9 357.2 L327.2 360.2 L327.5 366.2 L327.9 364.6 L328.2 369.2 L328.5 366.9 L328.9 371.0 L329.2 369.8 L329.5 373.9 L329.9 385.6 L330.2 386.1 L330.5 384.4 L330.8 380.8 L331.2 376.7 L331.5 375.9 L331.8 370.0 L332.2 364.4 L332.5 362.2 L332.8 362.6 L333.2 357.4 L333.5 356.5 L333.8 352.4 L334.1 348.0 L334.5 348.3 L334.8 345.3 L335.1 343.2 L335.5 339.8 L335.8 338.1 L336.1 336.9 L336.5 339.2 L336.8 340.8 L337.1 339.5 L337.4 336.5 L337.8 334.2 L338.1 333.2 L338.4 328.9 L338.8 327.5 L339.1 324.6 L339.4 322.9 L339.8 314.7 L340.1 317.7 L340.4 320.2 L340.7 316.1 L341.1 321.9 L341.4 319.1 L341.7 316.1 L342.1 320.9 L342.4 317.6 L342.7 327.1 L343.1 322.2 L343.4 326.0 L343.7 329.5 L344.0 329.9 L344.4 330.0 L344.7 329.3 L345.0 331.9 L345.4 335.0 L345.7 339.3 L346.0 331.7 L346.4 335.1 L346.7 330.5 L347.0 329.2 L347.3 329.0 L347.7 326.5 L348.0 329.3 L348.3 325.3 L348.7 330.3 L349.0 328.6 L349.3 330.5 L349.7 332.5 L350.0 331.0 L350.3 336.7 L350.6 344.2 L351.0 340.7 L351.3 340.4 L351.6 347.9 L352.0 351.1 L352.3 342.8 L352.6 345.1 L353.0 345.1 L353.3 348.1 L353.6 348.8 L353.9 348.9 L354.3 353.2 L354.6 361.0 L354.9 356.2 L355.3 355.2 L355.6 353.9 L355.9 360.0 L356.3 363.1 L356.6 367.4 L356.9 364.7 L357.2 365.2 L357.6 367.1 L357.9 369.2 L358.2 376.3 L358.6 377.9 L358.9 378.6 L359.2 372.4 L359.6 366.5 L359.9 364.4 L360.2 368.3 L360.5 370.7 L360.9 371.5 L361.2 373.5 L361.5 378.9 L361.9 381.0 L362.2 389.5 L362.5 393.5 L362.9 396.1 L363.2 400.0 L363.5 400.3 L363.8 402.0 L364.2 405.8 L364.5 408.6 L364.8 407.1 L365.2 402.9 L365.5 399.5 L365.8 398.8 L366.2 392.0 L366.5 390.7 L366.8 403.2 L367.1 404.8 L367.5 407.5 L367.8 408.5 L368.1 406.9 L368.5 405.5 L368.8 402.2 L369.1 404.3 L369.5 409.4 L369.8 413.6 L370.1 419.1 L370.4 414.4 L370.8 429.7 L371.1 432.8 L371.4 434.7 L371.8 432.1 L372.1 419.6 L372.4 412.2 L372.8 400.3 L373.1 391.5 L373.4 390.7 L373.7 383.5 L374.1 372.6 L374.4 370.7 L374.7 372.1 L375.1 369.8 L375.4 371.8 L375.7 374.0 L376.1 374.5 L376.4 373.3 L376.7 372.4 L377.0 373.7 L377.4 369.7 L377.7 366.6 L378.0 364.4 L378.4 368.4 L378.7 355.2 L379.0 350.6 L379.4 340.9 L379.7 351.6 L380.0 359.0 L380.3 359.9 L380.7 362.6 L381.0 365.5 L381.3 363.4 L381.7 361.2 L382.0 362.1 L382.3 364.5 L382.7 364.1 L383.0 366.5 L383.3 369.6 L383.6 369.2 L384.0 373.6 L384.3 365.3 L384.6 367.3 L385.0 370.2 L385.3 365.4 L385.6 363.5 L386.0 373.5 L386.3 374.3 L386.6 374.2 L386.9 376.6 L387.3 372.2 L387.6 369.0 L387.9 374.1 L388.3 371.1 L388.6 366.0 L388.9 368.3 L389.3 373.3 L389.6 366.9 L389.9 362.7 L390.2 358.8 L390.6 362.5 L390.9 363.0 L391.2 360.7 L391.6 357.4 L391.9 354.9 L392.2 351.0 L392.6 347.7 L392.9 348.5 L393.2 344.2 L393.5 343.0 L393.9 335.4 L394.2 333.8 L394.5 337.0 L394.9 334.3 L395.2 334.2 L395.5 326.6 L395.9 328.2 L396.2 324.8 L396.5 328.4 L396.8 329.4 L397.2 330.9 L397.5 332.9 L397.8 337.8 L398.2 343.9 L398.5 340.5 L398.8 341.4 L399.2 341.4 L399.5 342.4 L399.8 347.4 L400.1 346.3 L400.5 343.8 L400.8 346.9 L401.1 346.5 L401.5 345.9 L401.8 344.7 L402.1 342.0 L402.5 344.3 L402.8 340.9 L403.1 341.6 L403.4 341.1 L403.8 343.1 L404.1 340.5 L404.4 344.2 L404.8 340.2 L405.1 345.1 L405.4 348.2 L405.8 350.2 L406.1 346.9 L406.4 355.3 L406.7 356.3 L407.1 357.4 L407.4 362.1 L407.7 358.3 L408.1 360.6 L408.4 357.2 L408.7 364.5 L409.1 366.8 L409.4 368.2 L409.7 366.1 L410.0 371.3 L410.4 376.7 L410.7 386.7 L411.0 386.6 L411.4 381.0 L411.7 385.1 L412.0 379.6 L412.4 379.1 L412.7 380.3 L413.0 383.4 L413.3 384.1 L413.7 386.6 L414.0 387.8 L414.3 389.8 L414.7 391.8 L415.0 395.6 L415.3 396.3 L415.7 401.9 L416.0 408.7 L416.3 410.6 L416.6 412.9 L417.0 416.0 L417.3 409.5 L417.6 407.3 L418.0 411.1 L418.3 408.9 L418.6 416.9 L419.0 423.1 L419.3 429.4 L419.6 436.3 L419.9 442.0 L420.3 441.9 L420.6 435.5 L420.9 433.0 L421.3 426.5 L421.6 426.6 L421.9 429.4 L422.3 438.2 L422.6 435.0 L422.9 432.7 L423.2 438.2 L423.6 439.9 L423.9 444.5 L424.2 445.2 L424.6 452.1 L424.9 452.6 L425.2 458.1 L425.6 460.0 L425.9 462.0 L426.2 468.4 L426.5 472.1 L426.9 469.2 L427.2 477.8 L427.5 482.2 L427.9 483.4 L428.2 485.8 L428.5 488.0 L428.9 490.3 L429.2 491.0 L429.5 494.7 L429.8 496.1 L430.2 491.1 L430.5 492.0 L430.8 478.4 L431.2 458.4 L431.5 441.8 L431.8 433.7 L432.2 437.5 L432.5 439.8 L432.8 450.1 L433.1 452.7 L433.5 453.8 L433.8 455.9 L434.1 462.8 L434.5 465.8 L434.8 465.4 L435.1 464.7 L435.5 462.9 L435.8 469.6 L436.1 473.4 L436.4 471.9 L436.8 462.1 L437.1 457.1 L437.4 444.6 L437.8 445.2 L438.1 439.6 L438.4 435.4 L438.8 431.9 L439.1 428.4 L439.4 431.2 L439.7 437.1 L440.1 437.6 L440.4 440.7 L440.7 443.9 L441.1 448.6 L441.4 446.0 L441.7 440.9 L442.1 442.2 L442.4 444.1 L442.7 443.8 L443.0 450.6 L443.4 457.4 L443.7 457.0 L444.0 464.8 L444.4 470.4 L444.7 470.4 L445.0 466.8 L445.4 457.2 L445.7 447.7 L446.0 443.5 L446.3 439.7 L446.7 439.7 L447.0 445.3 L447.3 445.8 L447.7 452.9 L448.0 458.1 L448.3 465.5 L448.7 461.0 L449.0 461.3 L449.3 456.1 L449.6 453.6 L450.0 451.7 L450.3 451.9 L450.6 449.9 L451.0 448.8 L451.3 459.5 L451.6 456.9 L452.0 457.6 L452.3 458.9 L452.6 459.3 L452.9 461.4 L453.3 466.8 L453.6 467.6 L453.9 471.4 L454.3 468.0 L454.6 474.3 L454.9 475.5 L455.3 477.7 L455.6 486.3 L455.9 490.4 L456.2 495.6 L456.6 491.5 L456.9 479.3 L457.2 478.1 L457.6 477.2 L457.9 467.7 L458.2 462.0 L458.6 456.7 L458.9 452.0 L459.2 445.7 L459.5 452.2 L459.9 457.4 L460.2 461.7 L460.5 469.2 L460.9 467.7 L461.2 460.5 L461.5 463.5 L461.9 461.2 L462.2 462.0 L462.5 460.5 L462.8 456.8 L463.2 460.2 L463.5 455.3 L463.8 458.0 L464.2 456.5 L464.5 465.1 L464.8 463.4 L465.2 468.2 L465.5 470.2 L465.8 473.3 L466.1 476.8 L466.5 480.0 L466.8 482.2 L467.1 484.2 L467.5 489.2 L467.8 486.7 L468.1 491.3 L468.5 501.4 L468.8 504.7 L469.1 502.2 L469.4 503.7 L469.8 506.1 L470.1 510.8 L470.4 517.2 L470.8 518.7 L471.1 522.7 L471.4 520.3 L471.8 524.2 L472.1 527.7 L472.4 531.1 L472.7 534.5 L473.1 535.3 L473.4 532.6 L473.7 529.9 L474.1 524.4 L474.4 515.5 L474.7 511.3 L475.1 506.7 L475.4 509.4 L475.7 506.0 L476.0 500.8 L476.4 495.3 L476.7 491.2 L477.0 492.5 L477.4 486.0 L477.7 480.3 L478.0 475.2 L478.4 472.0 L478.7 460.0 L479.0 455.1 L479.3 452.0 L479.7 446.9 L480.0 440.5 L480.3 434.3 L480.7 432.5 L481.0 431.3 L481.3 421.8 L481.7 416.2 L482.0 413.3 L482.3 412.7 L482.6 409.6 L483.0 406.9 L483.3 400.7 L483.6 405.3 L484.0 401.9 L484.3 409.7 L484.6 414.8 L485.0 421.9 L485.3 415.0 L485.6 411.1 L485.9 411.0 L486.3 408.9 L486.6 405.4 L486.9 405.6 L487.3 402.3 L487.6 400.5 L487.9 398.3 L488.3 406.5 L488.6 415.5 L488.9 419.6 L489.2 425.1 L489.6 430.0 L489.9 429.8 L490.2 430.8 L490.6 434.8 L490.9 442.3 L491.2 443.4 L491.6 448.0 L491.9 453.8 L492.2 457.1 L492.5 455.8 L492.9 452.3 L493.2 438.4 L493.5 434.5 L493.9 430.4 L494.2 428.3 L494.5 422.7 L494.9 419.2 L495.2 413.0 L495.5 410.6 L495.8 420.3 L496.2 427.2 L496.5 434.1 L496.8 439.1 L497.2 438.4 L497.5 429.9 L497.8 427.3 L498.2 419.4 L498.5 417.9 L498.8 416.4 L499.1 420.6 L499.5 421.1 L499.8 424.8 L500.1 424.6 L500.5 433.3 L500.8 431.8 L501.1 438.8 L501.5 436.1 L501.8 434.2 L502.1 430.5 L502.4 427.1 L502.8 424.0 L503.1 418.7 L503.4 421.1 L503.8 422.7 L504.1 424.9 L504.4 429.5 L504.8 426.9 L505.1 425.7 L505.4 427.3 L505.7 432.3 L506.1 431.7 L506.4 430.6 L506.7 435.5 L507.1 442.8 L507.4 446.4 L507.7 436.1 L508.1 429.2 L508.4 426.9 L508.7 423.1 L509.0 426.3 L509.4 431.4 L509.7 438.6 L510.0 438.6 L510.4 448.8 L510.7 447.3 L511.0 446.7 L511.4 456.8 L511.7 457.7 L512.0 460.1 L512.3 453.4 L512.7 451.7 L513.0 447.8 L513.3 443.1 L513.7 438.4 L514.0 438.7 L514.3 439.5 L514.7 437.5 L515.0 445.7 L515.3 442.3 L515.6 440.3 L516.0 444.7 L516.3 445.5 L516.6 445.3 L517.0 456.3 L517.3 453.4 L517.6 447.0 L518.0 448.2 L518.3 448.8 L518.6 449.8 L518.9 451.9 L519.3 452.2 L519.6 460.7 L519.9 462.7 L520.3 468.3 L520.6 478.3 L520.9 482.7 L521.3 480.5 L521.6 480.0 L521.9 485.0 L522.2 484.6 L522.6 484.1 L522.9 482.5 L523.2 479.2 L523.6 476.1 L523.9 470.0 L524.2 462.0 L524.6 451.2 L524.9 447.3 L525.2 441.8 L525.5 437.0 L525.9 428.8 L526.2 424.3 L526.5 423.1 L526.9 422.2 L527.2 416.6 L527.5 413.1 L527.9 415.8 L528.2 411.9 L528.5 418.9 L528.8 412.7 L529.2 409.7 L529.5 399.2 L529.8 398.2 L530.2 395.6 L530.5 388.0 L530.8 392.0 L531.2 386.0 L531.5 382.9 L531.8 377.7 L532.1 378.3 L532.5 382.0 L532.8 383.9 L533.1 386.2 L533.5 383.2 L533.8 388.2 L534.1 388.2 L534.5 393.9 L534.8 394.7 L535.1 393.9 L535.4 396.9 L535.8 389.7 L536.1 384.1 L536.4 380.0 L536.8 377.8 L537.1 378.5 L537.4 380.3 L537.8 378.6 L538.1 383.4 L538.4 387.2 L538.7 385.6 L539.1 392.2 L539.4 392.9 L539.7 389.8 L540.1 387.6 L540.4 384.6 L540.7 393.6 L541.1 395.8 L541.4 402.2 L541.7 403.9 L542.0 408.0 L542.4 406.2 L542.7 408.6 L543.0 414.3 L543.4 412.0 L543.7 408.0 L544.0 405.0 L544.4 402.4 L544.7 397.3 L545.0 398.0 L545.3 402.8 L545.7 411.7 L546.0 417.8 L546.3 423.3 L546.7 425.7 L547.0 428.1 L547.3 424.4 L547.7 434.7 L548.0 428.9 L548.3 433.9 L548.6 429.0 L549.0 423.5 L549.3 423.0 L549.6 423.2 L550.0 430.2 L550.3 432.1 L550.6 441.7 L551.0 438.3 L551.3 432.9 L551.6 435.3 L551.9 439.0 L552.3 429.1 L552.6 430.3 L552.9 435.3 L553.3 436.3 L553.6 440.5 L553.9 449.6 L554.3 452.6 L554.6 455.3 L554.9 455.2 L555.2 459.7 L555.6 449.7 L555.9 452.8 L556.2 444.2 L556.6 441.0 L556.9 441.6 L557.2 436.3 L557.6 436.7 L557.9 435.2 L558.2 435.6 L558.5 437.0 L558.9 440.6 L559.2 443.3 L559.5 447.2 L559.9 449.9 L560.2 451.9 L560.5 455.2 L560.9 458.9 L561.2 458.3 L561.5 445.4 L561.8 447.3 L562.2 439.7 L562.5 436.6 L562.8 438.0 L563.2 430.0 L563.5 431.2 L563.8 432.9 L564.2 432.4 L564.5 433.3 L564.8 432.7 L565.1 442.6 L565.5 438.4 L565.8 437.3 L566.1 435.2 L566.5 429.0 L566.8 424.5 L567.1 422.3 L567.5 420.1 L567.8 426.1 L568.1 427.2 L568.4 432.1 L568.8 435.3 L569.1 436.5 L569.4 441.3 L569.8 442.4 L570.1 453.5 L570.4 451.9 L570.8 442.4 L571.1 432.8 L571.4 424.3 L571.7 423.9 L572.1 430.8 L572.4 425.3 L572.7 424.9 L573.1 424.3 L573.4 426.5 L573.7 429.0 L574.1 431.6 L574.4 439.2 L574.7 438.2 L575.0 441.8 L575.4 437.3 L575.7 435.1 L576.0 439.4 L576.4 434.8 L576.7 439.8 L577.0 436.1 L577.4 441.6 L577.7 441.5 L578.0 443.9 L578.3 444.8 L578.7 455.7 L579.0 455.9 L579.3 454.6 L579.7 459.8 L580.0 449.3 L580.3 446.8 L580.7 443.3 L581.0 437.7 L581.3 437.3 L581.6 433.0 L582.0 433.0 L582.3 428.4 L582.6 426.1 L583.0 424.0 L583.3 423.7 L583.6 420.1 L584.0 422.1 L584.3 414.1 L584.6 417.8 L584.9 410.2 L585.3 405.9 L585.6 403.2 L585.9 404.3 L586.3 399.1 L586.6 399.8 L586.9 397.2 L587.3 393.4 L587.6 396.9 L587.9 403.6 L588.2 398.3 L588.6 404.0 L588.9 403.2 L589.2 411.9 L589.6 411.0 L589.9 413.3 L590.2 416.0 L590.6 417.9 L590.9 417.7 L591.2 423.8 L591.5 424.8 L591.9 423.6 L592.2 428.0 L592.5 430.5 L592.9 433.0 L593.2 432.5 L593.5 432.9 L593.9 435.3 L594.2 433.9 L594.5 434.7 L594.8 440.8 L595.2 433.0 L595.5 425.0 L595.8 429.0 L596.2 432.0 L596.5 433.9 L596.8 439.5 L597.2 442.7 L597.5 447.7 L597.8 452.0 L598.1 445.9 L598.5 448.6 L598.8 448.6 L599.1 453.2 L599.5 460.9 L599.8 463.1 L600.1 456.7 L600.5 458.3 L600.8 446.1 L601.1 446.7 L601.4 451.1 L601.8 452.0 L602.1 456.6 L602.4 456.0 L602.8 455.3 L603.1 454.7 L603.4 449.2 L603.8 448.4 L604.1 445.9 L604.4 451.6 L604.7 454.6 L605.1 455.6 L605.4 458.2 L605.7 460.2 L606.1 453.9 L606.4 456.8 L606.7 448.7 L607.1 442.5 L607.4 437.1 L607.7 435.4 L608.0 432.0 L608.4 430.5 L608.7 426.4 L609.0 425.3 L609.4 425.3 L609.7 424.1 L610.0 421.6 L610.4 421.8 L610.7 420.2 L611.0 418.3 L611.3 417.9 L611.7 415.9 L612.0 420.9 L612.3 426.1 L612.7 428.2 L613.0 430.3 L613.3 430.4 L613.7 432.6 L614.0 431.9 L614.3 442.6 L614.6 443.2 L615.0 445.7 L615.3 449.7 L615.6 450.6 L616.0 453.4 L616.3 449.9 L616.6 443.6 L617.0 436.1 L617.3 439.2 L617.6 440.1 L617.9 437.5 L618.3 433.3 L618.6 432.7 L618.9 432.0 L619.3 431.2 L619.6 427.4 L619.9 426.6 L620.3 417.5 L620.6 421.7 L620.9 422.0 L621.2 416.4 L621.6 417.0 L621.9 418.1 L622.2 418.7 L622.6 416.5 L622.9 415.5 L623.2 410.7 L623.6 407.9 L623.9 407.2 L624.2 402.2 L624.5 398.7 L624.9 401.0 L625.2 398.5 L625.5 397.3 L625.9 398.8 L626.2 388.7 L626.5 392.7 L626.9 397.5 L627.2 396.9 L627.5 401.9 L627.8 397.2 L628.2 400.6 L628.5 402.4 L628.8 404.8 L629.2 405.4 L629.5 408.0 L629.8 407.0 L630.2 407.3 L630.5 410.9 L630.8 410.7 L631.1 406.0 L631.5 406.0 L631.8 405.8 L632.1 405.1 L632.5 404.9 L632.8 408.3 L633.1 407.1 L633.5 406.6 L633.8 407.6 L634.1 411.0 L634.4 407.5 L634.8 416.9 L635.1 419.0 L635.4 417.4 L635.8 418.4 L636.1 421.5 L636.4 425.9 L636.8 420.4 L637.1 423.4 L637.4 422.0 L637.7 418.8 L638.1 419.6 L638.4 415.9 L638.7 412.5 L639.1 410.1 L639.4 418.1 L639.7 413.5 L640.1 411.7 L640.4 410.4 L640.7 408.2 L641.0 404.8 L641.4 407.0 L641.7 405.3 L642.0 404.3 L642.4 399.8 L642.7 404.7 L643.0 403.5 L643.4 404.8 L643.7 401.2 L644.0 400.1 L644.3 398.1 L644.7 404.8 L645.0 404.6 L645.3 401.3 L645.7 403.6 L646.0 404.5 L646.3 404.0 L646.7 405.2 L647.0 405.2 L647.3 402.9 L647.6 397.9 L648.0 396.0 L648.3 394.3 L648.6 393.1 L649.0 394.1 L649.3 390.9 L649.6 389.8 L650.0 390.3 L650.3 386.2 L650.6 389.0 L650.9 379.5 L651.3 381.3 L651.6 377.0 L651.9 376.6 L652.3 373.9 L652.6 371.5 L652.9 367.2 L653.3 366.7 L653.6 362.3 L653.9 362.5 L654.2 359.2 L654.6 355.7 L654.9 359.4 L655.2 357.1 L655.6 353.8 L655.9 355.2 L656.2 355.6 L656.6 357.5 L656.9 354.0 L657.2 353.4 L657.5 348.2 L657.9 354.0 L658.2 348.5 L658.5 348.0 L658.9 347.7 L659.2 348.7 L659.5 347.4 L659.9 348.0 L660.2 349.6 L660.5 355.2 L660.8 356.7 L661.2 357.4 L661.5 358.7 L661.8 356.3 L662.2 358.0 L662.5 355.5 L662.8 362.9 L663.2 354.9 L663.5 353.4 L663.8 354.1 L664.1 355.7 L664.5 353.0 L664.8 354.0 L665.1 359.8 L665.5 355.2 L665.8 360.7 L666.1 359.7 L666.5 355.6 L666.8 348.8 L667.1 351.0 L667.4 352.7 L667.8 350.9 L668.1 350.2 L668.4 350.6 L668.8 349.2 L669.1 353.4 L669.4 350.8 L669.8 351.0 L670.1 348.0 L670.4 342.2 L670.7 347.8 L671.1 352.1 L671.4 351.0 L671.7 357.4 L672.1 359.3 L672.4 355.7 L672.7 363.9 L673.1 366.3 L673.4 366.7 L673.7 365.9 L674.0 371.6 L674.4 364.4 L674.7 367.2 L675.0 371.3 L675.4 372.0 L675.7 368.4 L676.0 369.4 L676.4 365.7 L676.7 365.6 L677.0 375.8 L677.3 378.9 L677.7 377.8 L678.0 380.9 L678.3 381.5 L678.7 381.6 L679.0 384.4 L679.3 388.3 L679.7 383.6 L680.0 385.0 L680.3 387.6 L680.6 386.6 L681.0 387.1 L681.3 382.9 L681.6 383.6 L682.0 387.9 L682.3 390.5 L682.6 394.7 L683.0 400.7 L683.3 408.2 L683.6 403.8 L683.9 400.2 L684.3 401.6 L684.6 399.8 L684.9 393.1 L685.3 389.2 L685.6 386.2 L685.9 384.0 L686.3 380.7 L686.6 382.9 L686.9 387.9 L687.2 389.4 L687.6 386.6 L687.9 387.3 L688.2 389.1 L688.6 392.1 L688.9 400.4 L689.2 403.5 L689.6 396.6 L689.9 398.1 L690.2 400.2 L690.5 392.3 L690.9 394.2 L691.2 399.6 L691.5 392.2 L691.9 394.4 L692.2 394.6 L692.5 399.2 L692.9 401.0 L693.2 405.2 L693.5 403.8 L693.8 402.8 L694.2 405.4 L694.5 411.8 L694.8 410.1 L695.2 413.7 L695.5 412.1 L695.8 410.3 L696.2 412.5 L696.5 406.7 L696.8 407.9 L697.1 403.0 L697.5 399.9 L697.8 397.5 L698.1 407.6 L698.5 402.3 L698.8 403.7 L699.1 399.5 L699.5 398.8 L699.8 395.1 L700.1 397.9 L700.4 396.1 L700.8 390.5 L701.1 391.5 L701.4 392.0 L701.8 391.3 L702.1 388.1 L702.4 388.3 L702.8 387.2 L703.1 384.4 L703.4 378.4 L703.7 378.3 L704.1 384.2 L704.4 379.0 L704.7 378.0 L705.1 376.2 L705.4 373.2 L705.7 377.5 L706.1 376.1 L706.4 383.2 L706.7 383.5 L707.0 384.5 L707.4 387.2 L707.7 385.6 L708.0 390.8 L708.4 394.6 L708.7 396.0 L709.0 398.1 L709.4 398.2 L709.7 403.5 L710.0 403.2 L710.3 404.0 L710.7 404.0 L711.0 410.6 L711.3 409.6 L711.7 408.7 L712.0 413.1 L712.3 408.9 L712.7 404.6 L713.0 406.3 L713.3 406.9 L713.6 407.5 L714.0 399.1 L714.3 399.1 L714.6 403.5 L715.0 402.4 L715.3 399.5 L715.6 393.7 L716.0 395.7 L716.3 392.9 L716.6 389.8 L716.9 391.0 L717.3 386.8 L717.6 387.0 L717.9 387.6 L718.3 386.8 L718.6 391.9 L718.9 395.9 L719.3 398.4 L719.6 394.3 L719.9 392.7 L720.2 393.7 L720.6 393.3 L720.9 395.7 L721.2 397.5 L721.6 396.7 L721.9 396.6 L722.2 398.2 L722.6 393.0 L722.9 389.0 L723.2 385.4 L723.5 382.3 L723.9 384.0 L724.2 385.3 L724.5 381.2 L724.9 376.8 L725.2 375.6 L725.5 376.5 L725.9 371.2 L726.2 370.5 L726.5 366.5 L726.8 361.8 L727.2 362.6 L727.5 360.4 L727.8 354.6 L728.2 348.5 L728.5 343.1 L728.8 340.7 L729.2 349.2 L729.5 350.3 L729.8 352.6 L730.1 356.0 L730.5 356.0 L730.8 354.6 L731.1 349.7 L731.5 352.6 L731.8 346.4 L732.1 349.2 L732.5 340.9 L732.8 342.4 L733.1 341.7 L733.4 347.2 L733.8 346.7 L734.1 348.9 L734.4 357.3 L734.8 364.1 L735.1 364.7 L735.4 369.4 L735.8 368.2 L736.1 363.3 L736.4 360.6 L736.7 365.9 L737.1 369.2 L737.4 371.3 L737.7 376.2 L738.1 380.8 L738.4 380.5 L738.7 378.3 L739.1 378.0 L739.4 375.8 L739.7 384.0 L740.0 383.6 L740.4 389.3 L740.7 390.2 L741.0 393.1 L741.4 399.2 L741.7 405.4 L742.0 401.0 L742.4 406.6 L742.7 416.1 L743.0 414.5 L743.3 415.7 L743.7 419.4 L744.0 420.1 L744.3 423.0 L744.7 424.0 L745.0 421.6 L745.3 417.8 L745.7 410.3 L746.0 407.4 L746.3 393.4 L746.6 388.7 L747.0 399.8 L747.3 399.5 L747.6 406.4 L748.0 405.2 L748.3 407.9 L748.6 398.6 L749.0 393.0 L749.3 392.0 L749.6 392.9 L749.9 395.5 L750.3 404.0 L750.6 403.3 L750.9 409.7 L751.3 409.5 L751.6 410.2 L751.9 416.3 L752.3 415.9 L752.6 413.7 L752.9 419.9 L753.2 424.9 L753.6 425.9 L753.9 424.7 L754.2 425.1 L754.6 428.9 L754.9 436.4 L755.2 445.0 L755.6 441.5 L755.9 444.2 L756.2 449.2 L756.5 450.2 L756.9 450.5 L757.2 451.9 L757.5 459.4 L757.9 462.2 L758.2 465.2 L758.5 462.2 L758.9 463.5 L759.2 461.0 L759.5 457.4 L759.8 450.2 L760.2 454.0 L760.5 455.9 L760.8 455.5 L761.2 453.9 L761.5 455.8 L761.8 453.1 L762.2 440.5 L762.5 439.7 L762.8 433.5 L763.1 436.2 L763.5 443.5 L763.8 451.9 L764.1 456.6 L764.5 456.3 L764.8 461.7 L765.1 464.4 L765.5 464.8 L765.8 470.8 L766.1 468.9 L766.4 473.2 L766.8 476.1 L767.1 476.0 L767.4 477.3 L767.8 477.4 L768.1 478.3 L768.4 479.7 L768.8 480.4 L769.1 483.2 L769.4 484.5 L769.7 487.3 L770.1 489.5 L770.4 495.4 L770.7 489.8 L771.1 486.0 L771.4 487.9 L771.7 486.4 L772.1 482.6 L772.4 477.7 L772.7 480.4 L773.0 472.7 L773.4 468.2 L773.7 467.4 L774.0 466.1 L774.4 471.8 L774.7 477.3 L775.0 479.5 L775.4 488.3 L775.7 495.7 L776.0 498.0 L776.3 497.8 L776.7 500.4 L777.0 501.9 L777.3 507.4 L777.7 513.1 L778.0 513.1 L778.3 515.4 L778.7 505.2 L779.0 500.4 L779.3 497.1 L779.6 494.6 L780.0 493.6 L780.3 491.2 L780.6 491.2 L781.0 496.3 L781.3 499.1 L781.6 501.1 L782.0 497.3 L782.3 502.4 L782.6 505.5 L782.9 497.0 L783.3 490.9 L783.6 489.5 L783.9 481.2 L784.3 481.9 L784.6 483.7 L784.9 477.1 L785.3 476.8 L785.6 475.8 L785.9 474.4 L786.2 472.2 L786.6 470.2 L786.9 465.9 L787.2 467.1 L787.6 470.8 L787.9 475.0 L788.2 475.6 L788.6 479.1 L788.9 474.7 L789.2 469.0 L789.5 466.7 L789.9 464.4 L790.2 454.6 L790.5 454.5 L790.9 447.3 L791.2 449.9 L791.5 450.0 L791.9 447.0 L792.2 445.7 L792.5 442.6 L792.8 441.1 L793.2 435.7 L793.5 440.1 L793.8 435.1 L794.2 438.5 L794.5 439.5 L794.8 444.8 L795.2 450.1 L795.5 452.3 L795.8 451.8 L796.1 457.7 L796.5 455.3 L796.8 459.1 L797.1 462.4 L797.5 460.6 L797.8 468.7 L798.1 471.3 L798.5 470.8 L798.8 467.2 L799.1 456.3 L799.4 454.3 L799.8 446.6 L800.1 445.4 L800.4 450.2 L800.8 449.3 L801.1 448.4 L801.4 451.2 L801.8 453.2 L802.1 450.4 L802.4 454.1 L802.7 457.0 L803.1 460.7 L803.4 458.4 L803.7 452.2 L804.1 451.8 L804.4 451.4 L804.7 458.9 L805.1 463.5 L805.4 465.2 L805.7 468.2 L806.0 466.4 L806.4 466.6 L806.7 470.7 L807.0 481.8 L807.4 480.8 L807.7 481.5 L808.0 488.0 L808.4 495.3 L808.7 495.3 L809.0 500.3 L809.3 508.8 L809.7 511.1 L810.0 500.6 L810.3 490.5 L810.7 485.0 L811.0 473.9 L811.3 470.0 L811.7 480.7 L812.0 485.2 L812.3 491.4 L812.6 502.3 L813.0 489.4 L813.3 476.0 L813.6 463.6 L814.0 463.8 L814.3 459.3 L814.6 453.1 L815.0 448.4 L815.3 453.7 L815.6 459.2 L815.9 463.0 L816.3 471.7 L816.6 480.9 L816.9 480.8 L817.3 471.4 L817.6 464.8 L817.9 457.6 L818.3 467.3 L818.6 468.0 L818.9 475.2 L819.2 480.8 L819.6 489.0 L819.9 502.4 L820.2 512.4 L820.6 510.3 L820.9 485.3 L821.2 480.6 L821.6 503.9 L821.9 524.2 L822.2 533.6 L822.5 545.1 L822.9 550.8 L823.2 560.4 L823.5 564.1 L823.9 568.2 L824.2 572.3 L824.5 582.2 L824.9 583.9 L825.2 587.6 L825.5 601.8 L825.8 610.4 L826.2 621.9 L826.5 628.5 L826.8 628.1 L827.2 629.4 L827.5 629.1 L827.8 627.5 L828.2 630.9 L828.5 619.8 L828.8 612.3 L829.1 609.4 L829.5 602.7 L829.8 594.0 L830.1 600.3 L830.5 605.9 L830.8 610.4 L831.1 612.5 L831.5 605.1 L831.8 603.9 L832.1 592.2 L832.4 583.5 L832.8 579.7 L833.1 572.4 L833.4 569.5 L833.8 563.3 L834.1 564.0 L834.4 559.7 L834.8 561.6 L835.1 556.4 L835.4 547.0 L835.7 545.5 L836.1 545.7 L836.4 557.0 L836.7 568.9 L837.1 573.6 L837.4 565.1 L837.7 559.6 L838.1 555.4 L838.4 552.8 L838.7 545.8 L839.0 547.8 L839.4 550.1 L839.7 551.1 L840.0 558.8 L840.4 561.6 L840.7 560.2 L841.0 566.1 L841.4 567.6 L841.7 568.2 L842.0 562.5 L842.3 562.1 L842.7 559.6 L843.0 559.9 L843.3 561.0 L843.7 563.1 L844.0 562.1 L844.3 559.5 L844.7 555.5 L845.0 556.1 L845.3 559.9 L845.6 563.8 L846.0 564.9 L846.3 563.5 L846.6 561.7 L847.0 560.4 L847.3 554.3 L847.6 550.4 L848.0 546.3 L848.3 547.6 L848.6 540.4 L848.9 533.8 L849.3 541.3 L849.6 539.1 L849.9 530.4 L850.3 521.5 L850.6 526.8 L850.9 528.3 L851.3 525.6 L851.6 524.0 L851.9 529.7 L852.2 524.4 L852.6 521.2 L852.9 515.2 L853.2 513.7 L853.6 503.9 L853.9 499.2 L854.2 496.0 L854.6 485.1 L854.9 475.8 L855.2 474.7 L855.5 471.7 L855.9 463.3 L856.2 459.3 L856.5 460.1 L856.9 464.7 L857.2 466.0 L857.5 473.0 L857.9 480.7 L858.2 477.4 L858.5 473.9 L858.8 471.9 L859.2 473.5 L859.5 482.6 L859.8 489.4 L860.2 494.4 L860.5 500.9 L860.8 506.0 L861.2 510.5 L861.5 517.3 L861.8 514.3 L862.1 517.2 L862.5 515.6 L862.8 506.7 L863.1 493.1 L863.5 485.8 L863.8 489.5 L864.1 488.9 L864.5 483.8 L864.8 479.5 L865.1 481.7 L865.4 479.2 L865.8 477.8 L866.1 476.6 L866.4 470.9 L866.8 469.3 L867.1 478.5 L867.4 484.0 L867.8 485.5 L868.1 488.1 L868.4 492.9 L868.7 496.6 L869.1 492.7 L869.4 491.3 L869.7 491.3 L870.1 499.7 L870.4 506.6 L870.7 505.8 L871.1 511.3 L871.4 511.4 L871.7 511.6 L872.0 510.1 L872.4 512.8 L872.7 510.8 L873.0 515.3 L873.4 508.4 L873.7 513.0 L874.0 505.1 L874.4 501.2 L874.7 506.0 L875.0 509.1 L875.3 511.7 L875.7 513.8 L876.0 516.8 L876.3 520.5 L876.7 523.8 L877.0 530.5 L877.3 525.6 L877.7 519.9 L878.0 513.1 L878.3 514.2 L878.6 514.3 L879.0 512.7 L879.3 508.8 L879.6 506.3 L880.0 504.7 L880.3 499.4 L880.6 498.3 L881.0 497.5 L881.3 499.5 L881.6 501.0 L881.9 498.8 L882.3 510.4 L882.6 510.1 L882.9 504.9 L883.3 509.8 L883.6 510.1 L883.9 505.4 L884.3 504.4 L884.6 499.7 L884.9 506.4 L885.2 510.2 L885.6 516.1 L885.9 520.9 L886.2 523.5 L886.6 517.6 L886.9 525.0 L887.2 521.0 L887.6 514.0 L887.9 509.7 L888.2 509.7 L888.5 506.3 L888.9 503.2 L889.2 504.6 L889.5 496.3 L889.9 491.7 L890.2 491.4 L890.5 488.0 L890.9 483.4 L891.2 483.0 L891.5 480.6 L891.8 470.9 L892.2 471.8 L892.5 475.2 L892.8 470.3 L893.2 472.1 L893.5 468.1 L893.8 468.3 L894.2 473.5 L894.5 474.4 L894.8 475.9 L895.1 484.9 L895.5 485.7 L895.8 491.5 L896.1 490.9 L896.5 488.4 L896.8 486.7 L897.1 482.2 L897.5 486.0 L897.8 482.2 L898.1 484.2 L898.4 485.0 L898.8 488.9 L899.1 485.3 L899.4 487.1 L899.8 489.2 L900.1 487.9 L900.4 482.9 L900.8 478.7 L901.1 477.7 L901.4 473.2 L901.7 475.3 L902.1 479.0 L902.4 482.7 L902.7 484.1 L903.1 492.3 L903.4 490.5 L903.7 487.0 L904.1 487.0 L904.4 481.2 L904.7 479.4 L905.0 483.8 L905.4 482.1 L905.7 481.9 L906.0 482.5 L906.4 477.5 L906.7 475.8 L907.0 473.3 L907.4 471.7 L907.7 462.1 L908.0 464.0 L908.3 458.4 L908.7 458.3 L909.0 460.1 L909.3 456.4 L909.7 464.5 L910.0 463.5 L910.3 465.1 L910.7 466.1 L911.0 470.0 L911.3 476.9 L911.6 470.8 L912.0 467.9 L912.3 474.0 L912.6 482.1 L913.0 480.3 L913.3 483.5 L913.6 478.3 L914.0 486.2 L914.3 487.5 L914.6 490.7 L914.9 496.3 L915.3 499.3 L915.6 504.6 L915.9 506.1 L916.3 514.2 L916.6 515.1 L916.9 526.7 L917.3 533.8 L917.6 529.7 L917.9 521.6 L918.2 525.9 L918.6 522.4 L918.9 525.4 L919.2 524.3 L919.6 531.7 L919.9 531.3 L920.2 529.0 L920.6 526.6 L920.9 521.5 L921.2 519.0 L921.5 524.6 L921.9 526.2 L922.2 530.3 L922.5 533.6 L922.9 538.9 L923.2 541.4 L923.5 543.4 L923.9 552.7 L924.2 556.9 L924.5 553.3 L924.8 545.8 L925.2 541.6 L925.5 539.1 L925.8 540.5 L926.2 541.3 L926.5 543.3 L926.8 549.0 L927.2 554.8 L927.5 551.7 L927.8 547.1 L928.1 543.0 L928.5 543.3 L928.8 539.2 L929.1 543.6 L929.5 551.5 L929.8 549.1 L930.1 555.3 L930.5 563.6 L930.8 562.4 L931.1 562.2 L931.4 563.1 L931.8 573.5 L932.1 570.0 L932.4 577.0 L932.8 576.2 L933.1 581.9 L933.4 582.8 L933.8 584.7 L934.1 579.8 L934.4 581.2 L934.7 577.4 L935.1 578.9 L935.4 579.5 L935.7 574.0 L936.1 575.0 L936.4 572.8 L936.7 572.8 L937.1 573.3 L937.4 567.7 L937.7 573.3 L938.0 573.0 L938.4 572.6 L938.7 579.5 L939.0 579.8 L939.4 577.3 L939.7 586.1 L940.0 590.8 L940.4 596.3 L940.7 597.7 L941.0 598.2 L941.3 593.5 L941.7 598.6 L942.0 599.5 L942.3 590.7 L942.7 591.5 L943.0 589.8 L943.3 585.8 L943.7 586.6 L944.0 585.4 L944.3 580.5 L944.6 580.6 L945.0 580.0 L945.3 573.4 L945.6 572.9 L946.0 575.6 L946.3 573.6 L946.6 568.9 L947.0 564.3 L947.3 562.6 L947.6 572.2 L947.9 563.1 L948.3 557.7 L948.6 556.3 L948.9 554.3 L949.3 551.9 L949.6 548.9 L949.9 551.1 L950.3 555.4 L950.6 559.2 L950.9 554.9 L951.2 541.4 L951.6 536.3 L951.9 530.3 L952.2 526.9 L952.6 522.8 L952.9 512.1 L953.2 509.6 L953.6 512.6 L953.9 515.2 L954.2 516.9 L954.5 514.9 L954.9 517.8 L955.2 520.2 L955.5 513.5 L955.9 507.0 L956.2 507.9 L956.5 505.4 L956.9 507.5 L957.2 507.5 L957.5 512.7 L957.8 515.9 L958.2 518.3 L958.5 511.7 L958.8 506.9 L959.2 508.0 L959.5 506.5 L959.8 506.0 L960.2 515.1 L960.5 516.3 L960.8 515.7 L961.1 511.9 L961.5 506.2 L961.8 501.5 L962.1 497.6 L962.5 489.0 L962.8 485.3 L963.1 477.1 L963.5 477.6 L963.8 482.9 L964.1 489.1 L964.4 495.1 L964.8 496.1 L965.1 499.7 L965.4 502.2 L965.8 504.0 L966.1 504.1 L966.4 510.0 L966.8 503.6 L967.1 505.5 L967.4 502.7 L967.7 507.6 L968.1 503.3 L968.4 512.1 L968.7 514.6 L969.1 527.7 L969.4 521.9 L969.7 517.8 L970.1 517.4 L970.4 515.2 L970.7 512.0 L971.0 508.7 L971.4 507.7 L971.7 507.3 L972.0 505.8 L972.4 501.5 L972.7 506.0 L973.0 500.3 L973.4 498.9 L973.7 491.2 L974.0 494.5 L974.3 500.0 L974.7 495.9 L975.0 503.9 L975.3 506.1 L975.7 506.9 L976.0 512.2 L976.3 516.3 L976.7 513.0 L977.0 513.1 L977.3 520.9 L977.6 523.0 L978.0 523.7 L978.3 525.9 L978.6 526.0 L979.0 528.0 L979.3 528.6 L979.6 531.2 L980.0 529.8 L980.3 534.6 L980.6 531.8 L980.9 541.6 L981.3 542.1 L981.6 545.1 L981.9 549.8 L982.3 550.0 L982.6 544.9 L982.9 546.4 L983.3 546.4 L983.6 546.1 L983.9 546.9 L984.2 543.9 L984.6 540.1 L984.9 538.5 L985.2 538.4 L985.6 541.7 L985.9 542.9 L986.2 552.6 L986.6 554.9 L986.9 552.4 L987.2 544.2 L987.5 540.6 L987.9 533.0 L988.2 530.7 L988.5 530.2 L988.9 534.1 L989.2 544.3 L989.5 549.4 L989.9 555.6 L990.2 551.1 L990.5 548.4 L990.8 543.0 L991.2 541.2 L991.5 556.3 L991.8 550.7 L992.2 549.0 L992.5 555.3 L992.8 564.4 L993.2 569.8 L993.5 574.3 L993.8 576.8 L994.1 575.7 L994.5 586.9 L994.8 599.2 L995.1 599.6 L995.5 612.8 L995.8 612.1 L996.1 617.0 L996.5 620.2 L996.8 620.0 L997.1 624.6 L997.4 624.3 L997.8 614.6 L998.1 613.0 L998.4 608.1 L998.8 615.5 L999.1 622.2 L999.4 625.6 L999.8 627.4 L1000.1 635.9 L1000.4 637.0 L1000.7 633.0 L1001.1 634.4 L1001.4 636.5 L1001.7 643.4 L1002.1 651.7 L1002.4 653.8 L1002.7 654.8 L1003.1 657.1 L1003.4 657.6 L1003.7 654.0 L1004.0 647.2 L1004.4 651.8 L1004.7 651.2 L1005.0 643.9 L1005.4 635.2 L1005.7 630.5 L1006.0 627.8 L1006.4 619.3 L1006.7 619.6 L1007.0 616.5 L1007.3 615.3 L1007.7 609.5 L1008.0 609.4 L1008.3 603.0 L1008.7 602.3 L1009.0 603.5 L1009.3 606.0 L1009.7 616.8 L1010.0 622.9 L1010.3 634.9 L1010.6 636.3 L1011.0 638.9 L1011.3 642.7 L1011.6 641.5 L1012.0 639.3 L1012.3 640.8 L1012.6 638.0 L1013.0 634.6 L1013.3 630.7 L1013.6 633.5 L1013.9 635.7 L1014.3 643.5 L1014.6 640.6 L1014.9 640.5 L1015.3 642.9 L1015.6 638.2 L1015.9 629.6 L1016.3 631.3 L1016.6 641.0 L1016.9 641.7 L1017.2 646.6 L1017.6 648.3 L1017.9 648.7 L1018.2 651.6 L1018.6 649.4 L1018.9 646.0 L1019.2 642.1 L1019.6 636.5 L1019.9 632.7 L1020.2 641.6 L1020.5 641.5 L1020.9 649.6 L1021.2 648.7 L1021.5 646.4 L1021.9 642.3 L1022.2 641.3 L1022.5 641.1 L1022.9 641.0 L1023.2 637.0 L1023.5 635.0 L1023.8 633.3 L1024.2 636.6 L1024.5 636.7 L1024.8 644.6 L1025.2 643.6 L1025.5 653.3 L1025.8 654.1 L1026.2 645.1 L1026.5 637.4 L1026.8 639.9 L1027.1 637.1 L1027.5 639.6 L1027.8 639.4 L1028.1 637.9 L1028.5 642.9 L1028.8 636.3 L1029.1 633.3 L1029.5 635.8 L1029.8 633.6 L1030.1 636.6 L1030.4 636.3 L1030.8 634.9 L1031.1 646.3 L1031.4 641.9 L1031.8 637.8 L1032.1 631.6 L1032.4 634.7 L1032.8 629.2 L1033.1 624.9 L1033.4 615.7 L1033.7 610.0 L1034.1 607.0 L1034.4 604.8 L1034.7 605.9 L1035.1 608.3 L1035.4 613.1 L1035.7 619.1 L1036.1 622.4 L1036.4 618.0 L1036.7 609.2 L1037.0 611.6 L1037.4 621.3 L1037.7 629.1 L1038.0 632.4 L1038.4 632.7 L1038.7 634.8 L1039.0 635.1 L1039.4 638.0 L1039.7 636.2 L1040.0 634.8 L1040.3 640.3 L1040.7 640.7 L1041.0 644.2 L1041.3 639.2 L1041.7 645.9 L1042.0 643.5 L1042.3 648.2 L1042.7 644.2 L1043.0 653.2 L1043.3 654.2 L1043.6 658.1 L1044.0 651.8 L1044.3 654.4 L1044.6 656.3 L1045.0 658.1 L1045.3 664.8 L1045.6 663.6 L1046.0 670.1 L1046.3 675.5 L1046.6 674.2 L1046.9 676.5 L1047.3 685.5 L1047.6 686.5 L1047.9 681.0 L1048.3 672.9 L1048.6 670.5 L1048.9 671.3 L1049.3 669.2 L1049.6 669.2 L1049.9 675.2 L1050.2 669.2 L1050.6 664.8 L1050.9 666.0 L1051.2 662.9 L1051.6 667.1 L1051.9 669.8 L1052.2 672.7 L1052.6 678.3 L1052.9 668.3 L1053.2 679.8 L1053.5 676.2 L1053.9 681.8 L1054.2 680.9 L1054.5 682.3 L1054.9 689.3 L1055.2 689.3 L1055.5 684.2 L1055.9 689.5 L1056.2 688.9 L1056.5 692.3 L1056.8 687.1 L1057.2 688.5 L1057.5 681.0 L1057.8 678.9 L1058.2 674.0 L1058.5 673.3 L1058.8 671.4 L1059.2 666.2 L1059.5 662.9 L1059.8 660.5 L1060.1 658.1 L1060.5 651.5 L1060.8 655.3 L1061.1 658.9 L1061.5 663.3 L1061.8 666.2 L1062.1 669.8 L1062.5 677.1 L1062.8 668.6 L1063.1 666.9 L1063.4 669.3 L1063.8 661.8 L1064.1 656.1 L1064.4 651.1 L1064.8 650.6 L1065.1 651.9 L1065.4 651.5 L1065.8 654.7 L1066.1 658.0 L1066.4 660.9 L1066.7 662.0 L1067.1 667.7 L1067.4 665.2 L1067.7 665.7 L1068.1 668.1 L1068.4 661.4 L1068.7 662.7 L1069.1 660.7 L1069.4 656.0 L1069.7 656.5 L1070.0 654.5 L1070.4 652.2 L1070.7 652.8 L1071.0 654.0 L1071.4 647.2 L1071.7 655.4 L1072.0 655.2 L1072.4 658.5 L1072.7 660.1 L1073.0 663.4 L1073.3 663.1 L1073.7 664.4 L1074.0 664.3 L1074.3 656.3 L1074.7 665.7 L1075.0 662.7 L1075.3 665.7 L1075.7 669.3 L1076.0 676.1 L1076.3 671.6 L1076.6 673.3 L1077.0 672.4 L1077.3 669.5 L1077.6 673.1 L1078.0 668.4 L1078.3 667.9 L1078.6 669.1 L1079.0 668.2 L1079.3 671.4 L1079.6 664.7 L1079.9 667.3 L1080.3 671.9 L1080.6 671.5 L1080.9 669.2 L1081.3 665.5 L1081.6 660.6 L1081.9 662.5 L1082.3 661.4 L1082.6 657.3 L1082.9 652.5 L1083.2 650.6 L1083.6 646.8 L1083.9 644.8 L1084.2 646.8 L1084.6 648.5 L1084.9 656.2 L1085.2 648.8 L1085.6 647.7 L1085.9 653.9 L1086.2 650.5 L1086.5 651.6 L1086.9 649.7 L1087.2 647.8 L1087.5 645.9 L1087.9 647.0 L1088.2 645.6 L1088.5 640.6 L1088.9 638.1 L1089.2 639.3 L1089.5 637.9 L1089.8 630.5 L1090.2 634.3 L1090.5 639.5 L1090.8 634.1 L1091.2 633.1 L1091.5 630.7 L1091.8 634.0 L1092.2 633.5 L1092.5 632.4 L1092.8 636.1 L1093.1 642.8 L1093.5 635.9 L1093.8 642.9 L1094.1 640.8 L1094.5 644.3 L1094.8 648.4 L1095.1 647.2 L1095.5 643.5 L1095.8 646.6 L1096.1 639.9 L1096.4 633.5 L1096.8 635.9 L1097.1 637.9 L1097.4 638.2 L1097.8 640.0 L1098.1 638.9 L1098.4 640.4 L1098.8 638.0 L1099.1 643.5 L1099.4 639.8 L1099.7 643.2 L1100.1 655.9 L1100.4 654.6 L1100.7 657.6 L1101.1 662.3 L1101.4 656.3 L1101.7 656.3 L1102.1 659.2 L1102.4 662.7 L1102.7 666.5 L1103.0 668.0 L1103.4 660.0 L1103.7 660.4 L1104.0 667.6 L1104.4 663.8 L1104.7 667.1 L1105.0 671.4 L1105.4 673.0 L1105.7 667.8 L1106.0 668.3 L1106.3 659.1 L1106.7 658.5 L1107.0 656.1 L1107.3 649.6 L1107.7 648.5 L1108.0 641.2 L1108.3 641.3 L1108.7 635.2 L1109.0 626.5 L1109.3 628.7 L1109.6 627.2 L1110.0 625.2 L1110.3 624.1 L1110.6 621.7 L1111.0 625.2 L1111.3 620.8 L1111.6 624.6 L1112.0 618.5 L1112.3 614.7 L1112.6 614.2 L1112.9 613.0 L1113.3 608.0 L1113.6 607.3 L1113.9 601.3 L1114.3 590.6 L1114.6 590.3 L1114.9 582.4 L1115.3 581.2 L1115.6 575.8 L1115.9 574.2 L1116.2 572.9 L1116.6 570.5 L1116.9 570.9 L1117.2 579.0 L1117.6 578.8 L1117.9 583.9 L1118.2 591.2 L1118.6 589.6 L1118.9 586.6 L1119.2 581.7 L1119.5 583.3 L1119.9 582.1 L1120.2 583.7 L1120.5 582.3 L1120.9 579.5 L1121.2 576.5 L1121.5 577.6 L1121.9 576.8 L1122.2 577.2 L1122.5 575.4 L1122.8 572.2 L1123.2 570.6 L1123.5 572.1 L1123.8 563.5 L1124.2 565.5 L1124.5 560.1 L1124.8 556.0 L1125.2 555.9 L1125.5 559.7 L1125.8 565.4 L1126.1 566.4 L1126.5 560.3 L1126.8 557.5 L1127.1 555.7 L1127.5 551.4 L1127.8 548.2 L1128.1 547.7 L1128.5 551.3 L1128.8 559.4 L1129.1 554.4 L1129.4 556.9 L1129.8 562.5 L1130.1 563.8 L1130.4 566.3 L1130.8 569.4 L1131.1 570.3 L1131.4 571.7 L1131.8 575.2 L1132.1 578.8 L1132.4 578.7 L1132.7 579.6 L1133.1 576.2 L1133.4 576.2 L1133.7 573.0 L1134.1 571.8 L1134.4 570.3 L1134.7 569.8 L1135.1 574.8 L1135.4 576.1 L1135.7 583.5 L1136.0 591.2 L1136.4 591.7 L1136.7 587.7 L1137.0 581.4 L1137.4 580.0 L1137.7 576.1 L1138.0 572.3 L1138.4 571.6 L1138.7 571.6 L1139.0 570.1 L1139.3 569.1 L1139.7 568.1 L1140.0 566.4 L1140.3 563.4 L1140.7 562.3 L1141.0 564.7 L1141.3 566.1 L1141.7 565.3 L1142.0 560.1 L1142.3 557.3 L1142.6 555.4 L1143.0 560.8 L1143.3 557.9 L1143.6 559.3 L1144.0 560.1 L1144.3 558.4 L1144.6 558.2 L1145.0 556.4 L1145.3 555.4 L1145.6 552.2 L1145.9 553.7 L1146.3 552.1 L1146.6 554.6 L1146.9 551.6 L1147.3 550.4 L1147.6 548.2 L1147.9 547.8 L1148.3 549.5 L1148.6 547.2 L1148.9 548.8 L1149.2 546.1 L1149.6 545.9 L1149.9 548.5 L1150.2 553.0 L1150.6 553.6 L1150.9 554.6 L1151.2 558.1 L1151.6 558.9 L1151.9 563.3 L1152.2 563.8 L1152.5 569.0 L1152.9 566.7 L1153.2 572.8 L1153.5 575.5 L1153.9 581.0 L1154.2 583.5 L1154.5 579.1 L1154.9 581.3 L1155.2 574.6 L1155.5 567.9 L1155.8 568.6 L1156.2 568.7 L1156.5 576.6 L1156.8 577.2 L1157.2 575.1 L1157.5 571.9 L1157.8 580.3 L1158.2 576.8 L1158.5 572.0 L1158.8 567.0 L1159.1 567.3 L1159.5 566.5 L1159.8 565.7 L1160.1 572.9 L1160.5 566.7 L1160.8 574.8 L1161.1 574.0 L1161.5 576.5 L1161.8 567.9 L1162.1 563.3 L1162.4 570.0 L1162.8 565.6 L1163.1 567.1 L1163.4 569.8 L1163.8 568.4 L1164.1 566.6 L1164.4 568.9 L1164.8 570.3 L1165.1 574.5 L1165.4 571.9 L1165.7 573.1 L1166.1 571.6 L1166.4 575.5 L1166.7 571.0 L1167.1 570.5 L1167.4 567.9 L1167.7 570.7 L1168.1 576.3 L1168.4 572.5 L1168.7 574.1 L1169.0 577.3 L1169.4 575.0 L1169.7 570.0 L1170.0 569.8 L1170.4 574.7 L1170.7 577.3 L1171.0 583.6 L1171.4 582.6 L1171.7 589.4 L1172.0 591.9 L1172.3 591.3 L1172.7 591.7 L1173.0 592.1 L1173.3 589.9 L1173.7 591.0 L1174.0 593.5 L1174.3 591.2 L1174.7 588.0 L1175.0 580.0 L1175.3 577.2 L1175.6 576.6 L1176.0 579.7 L1176.3 579.1 L1176.6 581.5 L1177.0 579.1 L1177.3 579.1 L1177.6 584.0 L1178.0 579.7 L1178.3 577.7 L1178.6 576.2 L1178.9 578.3 L1179.3 581.1 L1179.6 580.8 L1179.9 581.5 L1180.3 581.9 L1180.6 582.3 L1180.9 582.7 L1181.3 576.8 L1181.6 577.7 L1181.9 577.8 L1182.2 581.2 L1182.6 582.9 L1182.9 587.1 L1183.2 595.6 L1183.6 591.8 L1183.9 587.6 L1184.2 590.1 L1184.6 589.9 L1184.9 591.3 L1185.2 588.7 L1185.5 586.9 L1185.9 596.0 L1186.2 597.6 L1186.5 597.4 L1186.9 593.7 L1187.2 598.8 L1187.5 601.8 L1187.9 602.5 L1188.2 603.0 L1188.5 598.9 L1188.8 599.5 L1189.2 594.6 L1189.5 595.0 L1189.8 596.0 L1190.2 598.4 L1190.5 605.6 L1190.8 601.1 L1191.2 601.6 L1191.5 599.2 L1191.8 594.4 L1192.1 590.4 L1192.5 590.3 L1192.8 585.1 L1193.1 583.4 L1193.5 582.2 L1193.8 579.4 L1194.1 577.0 L1194.5 580.9 L1194.8 582.1 L1195.1 583.5 L1195.4 586.3 L1195.8 584.8 L1196.1 592.1 L1196.4 600.9 L1196.8 599.4 L1197.1 603.6 L1197.4 604.8 L1197.8 607.1 L1198.1 615.0 L1198.4 614.6 L1198.7 617.2 L1199.1 621.7 L1199.4 623.5 L1199.7 617.9 L1200.1 617.6 L1200.4 613.8 L1200.7 606.3 L1201.1 612.3 L1201.4 608.3 L1201.7 603.1 L1202.0 606.0 L1202.4 602.0 L1202.7 597.0 L1203.0 603.4 L1203.4 601.2 L1203.7 600.9 L1204.0 604.9 L1204.4 606.4 L1204.7 607.5 L1205.0 615.0 L1205.3 619.2 L1205.7 612.8 L1206.0 606.5 L1206.3 607.0 L1206.7 614.0 L1207.0 605.4 L1207.3 610.7 L1207.7 616.7 L1208.0 619.0 L1208.3 625.7 L1208.6 629.2 L1209.0 627.3 L1209.3 630.2 L1209.6 630.1 L1210.0 633.6 L1210.3 630.8 L1210.6 620.8 L1211.0 618.4 L1211.3 615.2 L1211.6 615.3 L1211.9 620.5 L1212.3 625.3 L1212.6 627.7 L1212.9 633.7 L1213.3 628.1 L1213.6 633.6 L1213.9 636.8 L1214.3 642.3 L1214.6 642.8 L1214.9 650.7 L1215.2 652.9 L1215.6 652.5 L1215.9 655.8 L1216.2 664.5 L1216.6 667.1 L1216.9 667.4 L1217.2 666.5 L1217.6 663.6 L1217.9 664.6 L1218.2 659.1 L1218.5 654.8 L1218.9 646.2 L1219.2 642.8 L1219.5 633.8 L1219.9 627.2 L1220.2 629.7 L1220.5 626.2 L1220.9 633.4 L1221.2 639.2 L1221.5 636.5 L1221.8 638.6 L1222.2 631.5 L1222.5 624.5 L1222.8 625.4 L1223.2 616.2 L1223.5 617.2 L1223.8 617.7 L1224.2 625.8 L1224.5 629.8 L1224.8 633.5 L1225.1 631.9 L1225.5 633.1 L1225.8 638.1 L1226.1 639.5 L1226.5 640.8 L1226.8 643.2 L1227.1 651.3 L1227.5 651.0 L1227.8 654.1 L1228.1 650.1 L1228.4 648.9 L1228.8 648.7 L1229.1 653.4 L1229.4 649.8 L1229.8 644.7 L1230.1 642.6 L1230.4 641.8 L1230.8 639.0 L1231.1 638.6 L1231.4 635.6 L1231.7 637.0 L1232.1 636.2 L1232.4 629.8 L1232.7 629.7 L1233.1 632.0 L1233.4 626.5 L1233.7 623.4 L1234.1 617.4 L1234.4 617.9 L1234.7 615.2 L1235.0 616.7 L1235.4 613.3 L1235.7 608.0 L1236.0 608.2 L1236.4 613.7 L1236.7 616.4 L1237.0 617.9 L1237.4 625.7 L1237.7 626.0 L1238.0 620.3 L1238.3 612.3 L1238.7 604.2 L1239.0 606.2 L1239.3 603.4 L1239.7 601.0 L1240.0 595.8 L1240.3 589.3 L1240.7 595.3 L1241.0 600.7 L1241.3 603.9 L1241.6 605.1 L1242.0 612.5 L1242.3 605.5 L1242.6 598.3 L1243.0 600.5 L1243.3 594.4 L1243.6 596.5 L1244.0 602.9 L1244.3 606.1 L1244.6 612.4 L1244.9 620.3 L1245.3 615.7 L1245.6 607.3 L1245.9 600.0 L1246.3 598.6 L1246.6 597.8 L1246.9 605.5 L1247.3 604.7 L1247.6 611.4 L1247.9 613.8 L1248.2 611.2 L1248.6 612.2 L1248.9 609.3 L1249.2 614.8 L1249.6 610.1 L1249.9 615.3 L1250.2 612.7 L1250.6 609.3 L1250.9 603.8 L1251.2 613.9 L1251.5 615.1 L1251.9 617.7 L1252.2 619.9 L1252.5 625.0 L1252.9 627.6 L1253.2 633.8 L1253.5 633.0 L1253.9 643.1 L1254.2 631.3 L1254.5 627.2 L1254.8 623.5 L1255.2 619.7 L1255.5 616.2 L1255.8 612.7 L1256.2 612.6 L1256.5 611.8 L1256.8 606.6 L1257.2 608.0 L1257.5 607.9 L1257.8 615.8 L1258.1 619.5 L1258.5 622.1 L1258.8 622.8 L1259.1 627.6 L1259.5 630.4 L1259.8 631.8 L1260.1 634.1 L1260.5 632.1 L1260.8 632.2 L1261.1 636.3 L1261.4 635.5 L1261.8 640.0 L1262.1 635.1 L1262.4 636.8 L1262.8 630.5 L1263.1 627.6 L1263.4 629.5 L1263.8 627.1 L1264.1 630.5 L1264.4 628.4 L1264.7 624.6 L1265.1 622.2 L1265.4 615.4 L1265.7 613.7 L1266.1 608.4 L1266.4 606.8 L1266.7 606.0 L1267.1 605.7 L1267.4 607.5 L1267.7 610.8 L1268.0 615.1 L1268.4 619.5 L1268.7 621.6 L1269.0 621.2 L1269.4 615.2 L1269.7 608.7 L1270.0 605.8 L1270.4 609.9 L1270.7 612.7 L1271.0 618.9 L1271.3 620.1 L1271.7 625.0 L1272.0 621.7 L1272.3 613.3 L1272.7 618.2 L1273.0 606.3 L1273.3 606.8 L1273.7 613.3 L1274.0 612.6 L1274.3 615.8 L1274.6 616.6 L1275.0 613.6 L1275.3 611.1 L1275.6 615.7 L1276.0 613.5 L1276.3 610.6 L1276.6 616.5 L1277.0 615.0 L1277.3 620.6 L1277.6 619.4 L1277.9 622.6 L1278.3 619.7 L1278.6 618.1 L1278.9 619.9 L1279.3 627.9 L1279.6 634.2 L1279.9 635.2 L1280.3 637.2 L1280.6 635.2 L1280.9 642.4 L1281.2 649.7 L1281.6 649.6 L1281.9 650.2 L1282.2 652.8 L1282.6 658.6 L1282.9 660.7 L1283.2 669.9 L1283.6 670.2 L1283.9 665.6 L1284.2 663.1 L1284.5 658.1 L1284.9 652.4 L1285.2 651.9 L1285.5 650.9 L1285.9 649.4 L1286.2 650.6 L1286.5 648.4 L1286.9 644.5 L1287.2 646.9 L1287.5 642.0 L1287.8 640.7 L1288.2 636.6 L1288.5 642.6 L1288.8 637.6 L1289.2 641.1 L1289.5 637.7 L1289.8 640.9 L1290.2 639.5 L1290.5 641.9 L1290.8 643.4 L1291.1 647.5 L1291.5 651.7 L1291.8 657.6 L1292.1 654.1 L1292.5 660.1 L1292.8 663.1 L1293.1 658.8 L1293.5 660.5 L1293.8 662.1 L1294.1 661.9 L1294.4 658.6 L1294.8 649.5 L1295.1 655.9 L1295.4 653.5 L1295.8 646.7 L1296.1 646.1 L1296.4 644.7 L1296.8 643.8 L1297.1 645.7 L1297.4 644.3 L1297.7 650.6 L1298.1 654.7 L1298.4 659.9 L1298.7 656.7 L1299.1 660.7 L1299.4 656.7 L1299.7 661.2 L1300.1 662.5 L1300.4 652.4 L1300.7 651.1 L1301.0 647.1 L1301.4 646.4 L1301.7 651.3 L1302.0 651.9 L1302.4 657.6 L1302.7 656.5 L1303.0 659.8 L1303.4 663.3 L1303.7 665.5 L1304.0 666.9 L1304.3 667.2 L1304.7 666.8 L1305.0 665.6 L1305.3 657.0 L1305.7 659.1 L1306.0 667.7 L1306.3 676.6 L1306.7 677.0 L1307.0 683.5 L1307.3 686.8 L1307.6 687.7 L1308.0 687.9 L1308.3 688.6 L1308.6 689.0 L1309.0 695.8 L1309.3 691.7 L1309.6 691.2 L1310.0 680.7 L1310.3 679.9 L1310.6 677.4 L1310.9 672.2 L1311.3 674.5 L1311.6 683.6 L1311.9 683.4 L1312.3 682.0 L1312.6 679.7 L1312.9 678.5 L1313.3 678.8 L1313.6 674.4 L1313.9 674.0 L1314.2 672.6 L1314.6 674.8 L1314.9 678.0 L1315.2 680.9 L1315.6 684.6 L1315.9 680.5 L1316.2 681.4 L1316.6 673.6 L1316.9 673.1 L1317.2 674.3 L1317.5 668.0 L1317.9 670.3 L1318.2 672.0 L1318.5 671.9 L1318.9 673.3 L1319.2 673.8 L1319.5 675.8 L1319.9 676.0 L1320.2 671.6 L1320.5 666.7 L1320.8 664.3 L1321.2 666.0 L1321.5 667.7 L1321.8 665.7 L1322.2 666.1 L1322.5 669.3 L1322.8 672.1 L1323.2 671.9 L1323.5 670.9 L1323.8 673.0 L1324.1 668.1 L1324.5 669.0 L1324.8 666.3 L1325.1 661.1 L1325.5 654.1 L1325.8 660.0 L1326.1 662.7 L1326.5 656.1 L1326.8 653.5 L1327.1 654.0 L1327.4 656.7 L1327.8 657.8 L1328.1 654.6 L1328.4 647.7 L1328.8 652.0 L1329.1 655.0 L1329.4 653.2 L1329.8 652.7 L1330.1 639.8 L1330.4 633.5 L1330.7 623.5 L1331.1 622.2 L1331.4 613.0 L1331.7 612.0 L1332.1 605.7 L1332.4 606.0 L1332.7 604.9 L1333.1 605.8 L1333.4 599.1 L1333.7 600.0 L1334.0 603.8 L1334.4 601.8 L1334.7 599.8 L1335.0 594.4 L1335.4 591.3 L1335.7 592.1 L1336.0 587.3 L1336.4 586.8 L1336.7 583.7 L1337.0 583.1 L1337.3 581.3 L1337.7 587.7 L1338.0 585.9 L1338.3 590.7 L1338.7 591.0 L1339.0 596.4 L1339.3 599.9 L1339.7 606.4 L1340.0 605.4 L1340.3 599.6 L1340.6 599.5 L1341.0 598.9 L1341.3 600.0 L1341.6 599.7 L1342.0 604.1 L1342.3 603.2 L1342.6 606.0 L1343.0 602.9 L1343.3 598.4 L1343.6 595.2 L1343.9 594.3 L1344.3 591.7 L1344.6 595.1 L1344.9 596.6 L1345.3 600.0 L1345.6 601.6 L1345.9 601.3 L1346.3 600.1 L1346.6 598.8 L1346.9 589.4 L1347.2 594.2 L1347.6 595.3 L1347.9 601.4 L1348.2 601.9 L1348.6 602.1 L1348.9 609.2 L1349.2 600.6 L1349.6 604.8 L1349.9 603.6 L1350.2 606.6 L1350.5 600.2 L1350.9 597.0 L1351.2 593.4 L1351.5 591.5 L1351.9 581.2 L1352.2 586.6 L1352.5 583.8 L1352.9 577.5 L1353.2 582.7 L1353.5 585.9 L1353.8 588.9 L1354.2 591.4 L1354.5 591.4 L1354.8 600.2 L1355.2 598.6 L1355.5 605.3 L1355.8 601.2 L1356.2 599.9 L1356.5 602.7 L1356.8 608.1 L1357.1 607.0 L1357.5 605.1 L1357.8 609.9 L1358.1 619.9 L1358.5 615.4 L1358.8 620.6 L1359.1 621.0 L1359.5 618.2 L1359.8 617.7 L1360.1 615.0 L1360.4 611.9 L1360.8 608.6 L1361.1 610.5 L1361.4 606.1 L1361.8 600.2 L1362.1 605.1 L1362.4 605.8 L1362.8 598.3 L1363.1 592.8 L1363.4 596.0 L1363.7 599.9 L1364.1 603.1 L1364.4 605.2 L1364.7 610.6 L1365.1 609.1 L1365.4 609.5 L1365.7 610.1 L1366.1 615.1 L1366.4 614.1 L1366.7 618.2 L1367.0 617.8 L1367.4 620.9 L1367.7 624.7 L1368.0 621.7 L1368.4 623.4 L1368.7 623.3 L1369.0 621.3 L1369.4 624.7 L1369.7 621.2 L1370.0 619.6 L1370.3 619.9 L1370.7 619.4 L1371.0 622.9 L1371.3 622.1 L1371.7 618.1 L1372.0 615.0 L1372.3 612.2 L1372.7 609.3 L1373.0 604.4 L1373.3 605.3 L1373.6 604.6 L1374.0 607.8 L1374.3 608.2 L1374.6 605.5 L1375.0 604.0 L1375.3 608.8 L1375.6 605.4 L1376.0 601.7 L1376.3 606.9 L1376.6 605.0 L1376.9 611.3 L1377.3 610.5 L1377.6 613.1 L1377.9 612.4 L1378.3 609.1 L1378.6 608.0 L1378.9 608.7 L1379.3 619.2 L1379.6 617.1 L1379.9 613.0 L1380.2 619.5 L1380.6 616.9 L1380.9 610.8 L1381.2 620.5 L1381.6 622.5 L1381.9 620.1 L1382.2 624.8 L1382.6 625.2 L1382.9 624.8 L1383.2 624.7 L1383.5 629.5 L1383.9 631.5 L1384.2 629.8 L1384.5 624.0 L1384.9 618.2 L1385.2 620.6 L1385.5 611.4 L1385.9 616.9 L1386.2 613.4 L1386.5 613.3 L1386.8 606.5 L1387.2 611.3 L1387.5 610.0 L1387.8 607.8 L1388.2 607.8 L1388.5 606.8 L1388.8 603.3 L1389.2 607.8 L1389.5 598.8 L1389.8 600.4 L1390.1 599.0 L1390.5 605.2 L1390.8 605.3 L1391.1 603.3 L1391.5 604.7 L1391.8 603.9 L1392.1 602.3 L1392.5 600.0 L1392.8 599.9 L1393.1 600.1 L1393.4 603.5 L1393.8 601.5 L1394.1 603.7 L1394.4 601.6 L1394.8 604.8 L1395.1 601.8 L1395.4 598.5 L1395.8 602.9 L1396.1 602.3 L1396.4 606.3 L1396.7 609.9 L1397.1 608.8 L1397.4 602.7 L1397.7 597.7 L1398.1 595.9 L1398.4 594.5 L1398.7 600.0 L1399.1 600.0 L1399.4 602.3 L1399.7 607.8 L1400.0 603.0 L1400.4 606.4 L1400.7 603.7 L1401.0 600.1 L1401.4 598.8 L1401.7 597.4 L1402.0 597.1 L1402.4 593.1 L1402.7 591.2 L1403.0 593.4 L1403.3 597.1 L1403.7 597.1 L1404.0 592.2 L1404.3 598.4 L1404.7 595.4 L1405.0 591.1 L1405.3 585.4 L1405.7 584.5 L1406.0 580.3 L1406.3 579.3 L1406.6 577.9 L1407.0 580.8 L1407.3 584.8 L1407.6 578.0 L1408.0 574.5 L1408.3 567.4 L1408.6 567.6 L1409.0 560.5 L1409.3 560.6 L1409.6 561.0 L1409.9 555.8 L1410.3 552.7 L1410.6 556.4 L1410.9 552.1 L1411.3 549.0 L1411.6 549.8 L1411.9 550.0 L1412.3 547.8 L1412.6 546.7 L1412.9 549.8 L1413.2 548.4 L1413.6 552.1 L1413.9 557.5 L1414.2 557.9 L1414.6 560.1 L1414.9 560.7 L1415.2 560.9 L1415.6 558.6 L1415.9 556.0 L1416.2 549.7 L1416.5 552.2 L1416.9 552.8 L1417.2 558.2 L1417.5 561.6 L1417.9 562.6 L1418.2 560.5 L1418.5 557.5 L1418.9 561.8 L1419.2 560.3 L1419.5 562.7 L1419.8 564.4 L1420.2 559.2 L1420.5 568.4 L1420.8 565.7 L1421.2 563.9 L1421.5 563.2 L1421.8 556.0 L1422.2 550.7 L1422.5 549.3 L1422.8 546.0 L1423.1 547.4 L1423.5 538.1 L1423.8 541.1 L1424.1 544.2 L1424.5 546.9 L1424.8 545.9 L1425.1 550.7 L1425.5 550.2 L1425.8 547.7 L1426.1 547.2 L1426.4 551.1 L1426.8 547.8 L1427.1 542.1 L1427.4 542.2 L1427.8 536.9 L1428.1 530.3 L1428.4 537.3 L1428.8 541.3 L1429.1 547.3 L1429.4 546.6 L1429.7 549.7 L1430.1 553.9 L1430.4 559.4 L1430.7 560.6 L1431.1 564.0 L1431.4 562.9 L1431.7 559.3 L1432.1 553.1 L1432.4 545.6 L1432.7 548.4 L1433.0 551.7 L1433.4 551.6 L1433.7 547.9 L1434.0 549.3 L1434.4 556.9 L1434.7 558.1 L1435.0 558.2 L1435.4 562.2 L1435.7 562.0 L1436.0 558.7 L1436.3 564.0 L1436.7 559.9 L1437.0 561.6 L1437.3 564.2 L1437.7 558.4 L1438.0 559.3 L1438.3 549.1 L1438.7 558.2 L1439.0 559.1 L1439.3 555.7 L1439.6 560.5 L1440.0 557.8 L1440.3 556.3 L1440.6 551.7 L1441.0 547.1 L1441.3 544.3 L1441.6 546.6 L1442.0 549.5 L1442.3 550.8 L1442.6 552.5 L1442.9 555.8 L1443.3 560.7 L1443.6 557.5 L1443.9 561.1 L1444.3 560.8 L1444.6 560.4 L1444.9 562.3 L1445.3 561.4 L1445.6 558.6 L1445.9 558.7 L1446.2 555.6 L1446.6 554.9 L1446.9 555.2 L1447.2 555.5 L1447.6 556.4 L1447.9 550.5 L1448.2 550.9 L1448.6 551.5 L1448.9 549.6 L1449.2 545.5 L1449.5 542.9 L1449.9 539.5 L1450.2 535.3 L1450.5 534.2 L1450.9 535.9 L1451.2 531.6 L1451.5 529.9 L1451.9 531.1 L1452.2 525.1 L1452.5 525.3 L1452.8 520.9 L1453.2 520.9 L1453.5 522.9 L1453.8 534.0 L1454.2 529.2 L1454.5 531.7 L1454.8 530.1 L1455.2 535.0 L1455.5 536.6 L1455.8 537.9 L1456.1 536.9 L1456.5 532.4 L1456.8 534.9 L1457.1 535.1 L1457.5 530.0 L1457.8 526.6 L1458.1 529.4 L1458.5 528.9 L1458.8 525.7 L1459.1 530.2 L1459.4 530.9 L1459.8 535.2 L1460.1 538.5 L1460.4 538.1 L1460.8 534.4 L1461.1 541.6 L1461.4 541.6 L1461.8 544.2 L1462.1 544.0 L1462.4 542.6 L1462.7 540.0 L1463.1 544.4 L1463.4 547.6 L1463.7 552.2 L1464.1 550.9 L1464.4 552.8 L1464.7 552.3 L1465.1 551.0 L1465.4 552.3 L1465.7 553.3 L1466.0 558.1 L1466.4 563.0 L1466.7 565.5 L1467.0 566.1 L1467.4 572.4 L1467.7 569.3 L1468.0 576.5 L1468.4 576.5 L1468.7 573.0 L1469.0 577.2 L1469.3 570.2 L1469.7 572.3 L1470.0 570.6 L1470.3 571.0 L1470.7 567.5 L1471.0 565.1 L1471.3 563.0 L1471.7 565.7 L1472.0 568.5 L1472.3 568.6 L1472.6 575.8 L1473.0 572.1 L1473.3 572.6 L1473.6 576.0 L1474.0 572.4 L1474.3 575.0 L1474.6 574.7 L1475.0 576.9 L1475.3 577.3 L1475.6 571.5 L1475.9 574.3 L1476.3 571.5 L1476.6 572.2 L1476.9 570.3 L1477.3 575.2 L1477.6 566.9 L1477.9 570.4 L1478.3 567.0 L1478.6 565.4 L1478.9 565.5 L1479.2 570.2 L1479.6 573.9 L1479.9 575.2 L1480.2 574.8 L1480.6 576.3 L1480.9 579.9 L1481.2 583.7 L1481.6 581.1 L1481.9 583.8 L1482.2 589.5 L1482.5 593.1 L1482.9 595.6 L1483.2 596.9 L1483.5 602.3 L1483.9 599.2 L1484.2 595.9 L1484.5 593.0 L1484.9 591.1 L1485.2 583.0 L1485.5 581.0 L1485.8 581.1 L1486.2 579.9 L1486.5 579.5 L1486.8 581.9 L1487.2 584.0 L1487.5 588.4 L1487.8 586.5 L1488.2 586.3 L1488.5 586.8 L1488.8 584.4 L1489.1 586.3 L1489.5 585.9 L1489.8 585.1 L1490.1 585.1 L1490.5 588.1 L1490.8 591.3 L1491.1 592.2 L1491.5 589.8 L1491.8 590.0 L1492.1 591.6 L1492.4 603.2 L1492.8 605.7 L1493.1 608.2 L1493.4 611.0 L1493.8 613.1 L1494.1 609.0 L1494.4 609.2 L1494.8 617.1 L1495.1 622.7 L1495.4 624.4 L1495.7 624.2 L1496.1 627.4 L1496.4 626.1 L1496.7 621.2 L1497.1 628.5 L1497.4 631.8 L1497.7 631.7 L1498.1 633.0 L1498.4 633.5 L1498.7 634.1 L1499.0 636.7 L1499.4 634.6 L1499.7 636.1 L1500.0 638.6 L1500.4 636.0 L1500.7 639.5 L1501.0 642.3 L1501.4 641.2 L1501.7 642.6 L1502.0 644.8 L1502.3 646.8 L1502.7 644.7 L1503.0 642.4 L1503.3 643.0 L1503.7 639.8 L1504.0 646.6 L1504.3 647.6 L1504.7 653.0 L1505.0 651.4 L1505.3 656.3 L1505.6 657.7 L1506.0 663.2 L1506.3 663.2 L1506.6 665.1 L1507.0 666.5 L1507.3 668.2 L1507.6 667.6 L1508.0 671.4 L1508.3 672.3 L1508.6 678.6 L1508.9 674.6 L1509.3 677.8 L1509.6 682.3 L1509.9 683.2 L1510.3 682.9 L1510.6 687.0 L1510.9 682.2 L1511.3 684.1 L1511.6 678.6 L1511.9 667.8 L1512.2 659.0 L1512.6 663.8 L1512.9 659.6 L1513.2 655.3 L1513.6 643.7 L1513.9 645.6 L1514.2 648.5 L1514.6 656.4 L1514.9 655.5 L1515.2 663.0 L1515.5 663.4 L1515.9 666.9 L1516.2 672.9 L1516.5 675.8 L1516.9 671.3 L1517.2 666.3 L1517.5 662.4 L1517.9 660.8 L1518.2 658.4 L1518.5 658.8 L1518.8 658.6 L1519.2 650.3 L1519.5 652.8 L1519.8 653.6 L1520.2 653.1 L1520.5 647.9 L1520.8 643.6 L1521.2 645.6 L1521.5 642.5 L1521.8 645.8 L1522.1 646.2 L1522.5 652.7 L1522.8 652.4 L1523.1 649.8 L1523.5 650.8 L1523.8 652.4 L1524.1 654.8 L1524.5 658.0 L1524.8 657.6 L1525.1 654.3 L1525.4 656.9 L1525.8 655.4 L1526.1 655.3 L1526.4 650.2 L1526.8 646.5 L1527.1 649.0 L1527.4 647.9 L1527.8 650.6 L1528.1 649.5 L1528.4 650.7 L1528.7 645.4 L1529.1 649.1 L1529.4 647.1 L1529.7 637.2 L1530.1 638.4 L1530.4 640.9 L1530.7 649.0 L1531.1 647.8 L1531.4 648.2 L1531.7 640.8 L1532.0 643.7 L1532.4 649.0 L1532.7 651.9 L1533.0 650.2 L1533.4 653.4 L1533.7 654.5 L1534.0 653.7 L1534.4 658.3 L1534.7 656.9 L1535.0 655.5 L1535.3 656.4 L1535.7 656.9 L1536.0 663.4 L1536.3 658.9 L1536.7 660.4 L1537.0 665.6 L1537.3 663.8 L1537.7 668.3 L1538.0 676.3 L1538.3 678.1 L1538.6 678.5 L1539.0 687.1 L1539.3 688.3 L1539.6 691.1 L1540.0 693.4 L1540.3 695.6 L1540.6 696.9 L1541.0 701.6 L1541.3 704.3 L1541.6 708.8 L1541.9 712.5 L1542.3 715.1 L1542.6 721.1 L1542.9 720.5 L1543.3 722.7 L1543.6 723.4 L1543.9 730.1 L1544.3 726.4 L1544.6 736.3 L1544.9 741.7 L1545.2 741.5 L1545.6 745.1 L1545.9 749.6 L1546.2 745.7 L1546.6 749.9 L1546.9 755.1 L1547.2 758.5 L1547.6 761.4 L1547.9 761.0 L1548.2 767.0 L1548.5 764.0 L1548.9 756.1 L1549.2 754.6 L1549.5 742.3 L1549.9 747.8 L1550.2 753.3 L1550.5 755.6 L1550.9 761.9 L1551.2 767.7 L1551.5 760.8 L1551.8 766.6 L1552.2 763.2 L1552.5 756.1 L1552.8 760.2 L1553.2 760.1 L1553.5 755.7 L1553.8 757.2 L1554.2 758.3 L1554.5 751.3 L1554.8 755.1 L1555.1 753.5 L1555.5 752.4 L1555.8 754.4 L1556.1 757.4 L1556.5 756.2 L1556.8 758.9 L1557.1 756.4 L1557.5 757.4 L1557.8 750.3 L1558.1 746.1 L1558.4 745.8 L1558.8 743.0 L1559.1 741.1 L1559.4 735.3 L1559.8 743.8 L1560.1 744.3 L1560.4 747.3 L1560.8 749.5 L1561.1 755.0 L1561.4 757.4 L1561.7 756.8 L1562.1 760.0 L1562.4 757.9 L1562.7 757.4 L1563.1 755.9 L1563.4 758.2 L1563.7 755.1 L1564.1 755.8 L1564.4 759.0 L1564.7 758.2 L1565.0 758.5 L1565.4 762.3 L1565.7 754.0 L1566.0 758.8 L1566.4 760.4 L1566.7 757.6 L1567.0 762.1 L1567.4 765.5 L1567.7 763.7 L1568.0 764.2 L1568.3 767.2 L1568.7 767.8 L1569.0 766.3 L1569.3 768.3 L1569.7 773.6 L1570.0 772.1 L1570.3 767.9 L1570.7 759.2 L1571.0 754.9 L1571.3 751.5 L1571.6 752.6 L1572.0 747.8 L1572.3 752.0 L1572.6 752.6 L1573.0 753.3 L1573.3 752.6 L1573.6 748.2 L1574.0 752.6 L1574.3 753.8 L1574.6 760.3 L1574.9 760.4 L1575.3 756.0 L1575.6 754.6 L1575.9 754.4 L1576.3 753.9 L1576.6 754.3 L1576.9 755.2 L1577.3 755.8 L1577.6 759.4 L1577.9 758.8 L1578.2 754.5 L1578.6 750.9 L1578.9 751.3 L1579.2 750.7 L1579.6 747.6 L1579.9 751.1 L1580.2 747.5 L1580.6 746.8 L1580.9 746.0 L1581.2 746.2 L1581.5 747.7 L1581.9 745.5 L1582.2 749.1 L1582.5 750.4 L1582.9 740.0 L1583.2 740.4 L1583.5 738.7 L1583.9 742.0 L1584.2 746.9 L1584.5 748.4 L1584.8 742.3 L1585.2 740.7 L1585.5 741.3 L1585.8 741.1 L1586.2 737.0 L1586.5 733.7 L1586.8 737.4 L1587.2 732.5 L1587.5 734.7 L1587.8 729.7 L1588.1 735.7 L1588.5 736.2 L1588.8 738.5 L1589.1 739.7 L1589.5 738.9 L1589.8 733.1 L1590.1 730.9 L1590.5 730.9 L1590.8 731.2 L1591.1 733.5 L1591.4 736.5 L1591.8 738.8 L1592.1 735.5 L1592.4 733.3 L1592.8 733.0 L1593.1 730.2 L1593.4 731.3 L1593.8 727.9 L1594.1 728.5 L1594.4 735.9 L1594.7 728.5 L1595.1 728.5 L1595.4 731.7 L1595.7 731.4 L1596.1 733.1 L1596.4 724.2 L1596.7 717.5 L1597.1 719.3 L1597.4 721.3 L1597.7 716.6 L1598.0 717.6 L1598.4 720.9 L1598.7 726.3 L1599.0 727.5 L1599.4 721.4 L1599.7 724.5 L1600.0 716.5 L1600.4 720.7 L1600.7 726.2 L1601.0 723.2 L1601.3 724.7 L1601.7 726.4 L1602.0 717.2 L1602.3 716.3 L1602.7 714.1 L1603.0 715.4 L1603.3 712.3 L1603.7 705.6 L1604.0 702.2 L1604.3 698.8 L1604.6 696.3 L1605.0 690.9 L1605.3 689.0 L1605.6 688.2 L1606.0 685.0 L1606.3 680.9 L1606.6 670.9 L1607.0 671.0 L1607.3 663.7 L1607.6 665.6 L1607.9 668.0 L1608.3 665.5 L1608.6 666.2 L1608.9 661.8 L1609.3 667.3 L1609.6 666.5 L1609.9 656.5 L1610.3 660.6 L1610.6 662.3 L1610.9 664.9 L1611.2 662.2 L1611.6 664.6 L1611.9 660.6 L1612.2 665.5 L1612.6 667.9 L1612.9 667.6 L1613.2 668.0 L1613.6 667.1 L1613.9 666.0 L1614.2 672.8 L1614.5 670.4 L1614.9 672.0 L1615.2 672.0 L1615.5 676.2 L1615.9 677.3 L1616.2 673.4 L1616.5 672.4 L1616.9 674.7 L1617.2 673.7 L1617.5 671.6 L1617.8 666.8 L1618.2 662.9 L1618.5 668.0 L1618.8 668.1 L1619.2 665.5 L1619.5 666.1 L1619.8 664.0 L1620.2 668.3 L1620.5 666.4 L1620.8 669.9 L1621.1 668.2 L1621.5 663.7 L1621.8 668.3 L1622.1 670.9 L1622.5 670.5 L1622.8 670.5 L1623.1 675.8 L1623.5 677.6 L1623.8 677.8 L1624.1 677.7 L1624.4 684.4 L1624.8 686.8 L1625.1 685.8 L1625.4 677.9 L1625.8 671.2 L1626.1 672.0 L1626.4 676.1 L1626.8 680.2 L1627.1 679.6 L1627.4 681.1 L1627.7 683.1 L1628.1 683.4 L1628.4 686.5 L1628.7 688.1 L1629.1 696.4 L1629.4 701.3 L1629.7 701.2 L1630.1 702.0 L1630.4 708.5 L1630.7 703.3 L1631.0 701.4 L1631.4 701.7 L1631.7 700.6 L1632.0 704.2 L1632.4 707.3 L1632.7 704.1 L1633.0 712.8 L1633.4 710.6 L1633.7 702.1 L1634.0 697.3 L1634.3 699.9 L1634.7 698.4 L1635.0 698.2 L1635.3 700.4 L1635.7 695.9 L1636.0 699.6 L1636.3 697.9 L1636.7 701.4 L1637.0 697.7 L1637.3 698.3 L1637.6 698.7 L1638.0 699.6 L1638.3 696.9 L1638.6 701.7 L1639.0 700.1 L1639.3 703.1 L1639.6 700.5 L1640.0 695.1 L1640.3 695.9 L1640.6 696.1 L1640.9 695.8 L1641.3 695.2 L1641.6 698.1 L1641.9 704.7 L1642.3 695.8 L1642.6 693.5 L1642.9 690.1 L1643.3 686.6 L1643.6 678.6 L1643.9 682.6 L1644.2 678.9 L1644.6 672.0 L1644.9 670.1 L1645.2 675.9 L1645.6 669.5 L1645.9 674.7 L1646.2 673.1 L1646.6 672.7 L1646.9 670.8 L1647.2 665.2 L1647.5 664.1 L1647.9 666.5 L1648.2 665.8 L1648.5 669.7 L1648.9 673.5 L1649.2 675.1 L1649.5 680.9 L1649.9 682.2 L1650.2 682.1 L1650.5 690.5 L1650.8 685.5 L1651.2 678.2 L1651.5 680.5 L1651.8 674.9 L1652.2 672.6 L1652.5 669.9 L1652.8 670.9 L1653.2 669.3 L1653.5 666.5 L1653.8 673.2 L1654.1 678.1 L1654.5 676.1 L1654.8 679.9 L1655.1 684.8 L1655.5 679.6 L1655.8 685.3 L1656.1 687.8 L1656.5 691.1 L1656.8 686.6 L1657.1 684.6 L1657.4 677.7 L1657.8 677.4 L1658.1 681.3 L1658.4 675.3 L1658.8 671.5 L1659.1 670.0 L1659.4 670.4 L1659.8 665.9 L1660.1 660.0 L1660.4 657.7 L1660.7 657.3 L1661.1 658.0 L1661.4 654.4 L1661.7 649.9 L1662.1 659.2 L1662.4 651.5 L1662.7 657.0 L1663.1 656.7 L1663.4 653.7 L1663.7 649.7 L1664.0 650.8 L1664.4 648.1 L1664.7 649.1 L1665.0 648.7 L1665.4 640.9 L1665.7 640.7 L1666.0 637.9 L1666.4 640.2 L1666.7 639.3 L1667.0 637.0 L1667.3 635.5 L1667.7 632.8 L1668.0 632.0 L1668.3 638.0 L1668.7 645.7 L1669.0 641.6 L1669.3 646.2 L1669.7 652.9 L1670.0 649.1 L1670.3 657.2 L1670.6 660.4 L1671.0 662.9 L1671.3 650.1 L1671.6 639.7 L1672.0 633.8 L1672.3 627.7 L1672.6 620.6 L1673.0 616.0 L1673.3 601.3 L1673.6 595.9 L1673.9 591.1 L1674.3 589.0 L1674.6 587.5 L1674.9 587.9 L1675.3 579.9 L1675.6 574.5 L1675.9 574.1 L1676.3 567.5 L1676.6 571.9 L1676.9 567.4 L1677.2 562.0 L1677.6 560.0 L1677.9 553.7 L1678.2 552.1 L1678.6 549.1 L1678.9 545.7 L1679.2 546.9 L1679.6 548.9 L1679.9 544.2 L1680.2 545.3 L1680.5 544.2 L1680.9 539.1 L1681.2 538.3 L1681.5 527.5 L1681.9 532.6 L1682.2 536.5 L1682.5 545.6 L1682.9 541.6 L1683.2 549.7 L1683.5 553.7 L1683.8 557.4 L1684.2 560.2 L1684.5 557.2 L1684.8 560.8 L1685.2 561.0 L1685.5 562.5 L1685.8 555.9 L1686.2 553.0 L1686.5 555.4 L1686.8 552.9 L1687.1 546.9 L1687.5 535.4 L1687.8 521.3 L1688.1 514.5 L1688.5 507.8 L1688.8 506.3 L1689.1 510.4 L1689.5 516.2 L1689.8 522.0 L1690.1 529.4 L1690.4 534.2 L1690.8 540.5 L1691.1 534.2 L1691.4 529.7 L1691.8 531.9 L1692.1 533.9 L1692.4 537.1 L1692.8 542.4 L1693.1 544.4 L1693.4 552.4 L1693.7 551.7 L1694.1 558.5 L1694.4 554.5 L1694.7 557.0 L1695.1 564.4 L1695.4 565.6 L1695.7 568.4 L1696.1 573.4 L1696.4 569.2 L1696.7 578.9 L1697.0 579.5 L1697.4 585.0 L1697.7 577.7 L1698.0 576.6 L1698.4 572.1 L1698.7 565.4 L1699.0 555.2 L1699.4 559.9 L1699.7 554.8 L1700.0 550.3 L1700.3 547.5 L1700.7 542.8 L1701.0 543.9 L1701.3 541.9 L1701.7 534.3 L1702.0 537.3 L1702.3 531.9 L1702.7 530.3 L1703.0 526.3 L1703.3 522.6 L1703.6 512.8 L1704.0 508.0 L1704.3 508.2 L1704.6 503.1 L1705.0 500.7 L1705.3 497.0 L1705.6 490.8 L1706.0 490.3 L1706.3 482.3 L1706.6 474.5 L1706.9 470.4 L1707.3 480.7 L1707.6 471.5 L1707.9 464.7 L1708.3 463.6 L1708.6 459.3 L1708.9 462.9 L1709.3 457.9 L1709.6 451.4 L1709.9 443.4 L1710.2 442.4 L1710.6 440.7 L1710.9 436.7 L1711.2 441.7 L1711.6 437.0 L1711.9 434.1 L1712.2 434.9 L1712.6 433.3 L1712.9 436.1 L1713.2 441.6 L1713.5 439.9 L1713.9 442.0 L1714.2 447.6 L1714.5 449.6 L1714.9 457.5 L1715.2 465.3 L1715.5 473.0 L1715.9 473.8 L1716.2 479.2 L1716.5 476.0 L1716.8 481.5 L1717.2 483.7 L1717.5 490.2 L1717.8 492.0 L1718.2 496.7 L1718.5 497.1 L1718.8 494.9 L1719.2 496.4 L1719.5 498.0 L1719.8 497.7 L1720.1 500.2 L1720.5 501.1 L1720.8 499.4 L1721.1 490.3 L1721.5 491.9 L1721.8 490.1 L1722.1 485.7 L1722.5 480.1 L1722.8 472.9 L1723.1 475.4 L1723.4 479.0 L1723.8 491.4 L1724.1 491.3 L1724.4 488.5 L1724.8 487.7 L1725.1 488.9 L1725.4 489.6 L1725.8 491.5 L1726.1 500.5 L1726.4 503.4 L1726.7 508.8 L1727.1 514.2 L1727.4 506.9 L1727.7 504.7 L1728.1 510.8 L1728.4 507.4 L1728.7 500.7 L1729.1 499.8 L1729.4 495.8 L1729.7 491.8 L1730.0 482.1 L1730.4 486.6 L1730.7 490.3 L1731.0 480.1 L1731.4 477.6 L1731.7 476.0 L1732.0 472.5 L1732.4 470.4 L1732.7 465.5 L1733.0 460.9 L1733.3 463.9 L1733.7 457.0 L1734.0 450.4 L1734.3 449.0 L1734.7 453.6 L1735.0 467.1 L1735.3 468.0 L1735.7 477.5 L1736.0 473.7 L1736.3 487.9 L1736.6 488.0 L1737.0 486.0 L1737.3 488.1 L1737.6 489.9 L1738.0 491.1 L1738.3 493.5 L1738.6 498.2 L1739.0 505.9 L1739.3 504.6 L1739.6 505.0 L1739.9 501.6 L1740.3 500.8 L1740.6 498.8 L1740.9 506.1 L1741.3 495.1 L1741.6 492.6 L1741.9 491.0 L1742.3 497.4 L1742.6 495.5 L1742.9 498.2 L1743.2 498.7 L1743.6 499.1 L1743.9 501.8 L1744.2 505.0 L1744.6 509.6 L1744.9 502.5 L1745.2 498.7 L1745.6 502.7 L1745.9 499.2 L1746.2 496.4 L1746.5 497.4 L1746.9 494.5 L1747.2 499.0 L1747.5 501.4 L1747.9 499.8 L1748.2 498.0 L1748.5 494.9 L1748.9 485.1 L1749.2 478.6 L1749.5 479.7 L1749.8 483.9 L1750.2 478.6 L1750.5 475.6 L1750.8 475.2 L1751.2 472.0 L1751.5 479.2 L1751.8 476.9 L1752.2 482.2 L1752.5 481.0 L1752.8 479.5 L1753.1 475.3 L1753.5 475.0 L1753.8 468.7 L1754.1 471.3 L1754.5 475.3 L1754.8 479.4 L1755.1 474.7 L1755.5 478.0 L1755.8 479.5 L1756.1 462.3 L1756.4 450.5 L1756.8 459.9 L1757.1 468.3 L1757.4 468.2 L1757.8 460.7 L1758.1 467.3 L1758.4 471.9 L1758.8 480.2 L1759.1 472.2 L1759.4 462.2 L1759.7 461.9 L1760.1 456.5 L1760.4 449.0 L1760.7 441.2 L1761.1 442.2 L1761.4 441.7 L1761.7 439.7 L1762.1 443.0 L1762.4 436.2 L1762.7 434.3 L1763.0 438.5 L1763.4 432.4 L1763.7 432.2 L1764.0 431.3 L1764.4 431.9 L1764.7 433.2 L1765.0 424.7 L1765.4 424.6 L1765.7 428.7 L1766.0 434.7 L1766.3 432.2 L1766.7 434.0 L1767.0 431.9 L1767.3 429.3 L1767.7 424.4 L1768.0 419.5 L1768.3 421.5 L1768.7 413.5 L1769.0 408.6 L1769.3 410.8 L1769.6 401.6 L1770.0 410.0 L1770.3 397.4 L1770.6 394.4 L1771.0 391.0 L1771.3 389.3 L1771.6 382.2 L1772.0 381.5 L1772.3 378.6 L1772.6 374.8 L1772.9 374.6 L1773.3 376.3 L1773.6 375.4 L1773.9 374.7 L1774.3 368.9 L1774.6 368.3 L1774.9 364.6 L1775.3 363.4 L1775.6 370.0 L1775.9 374.3 L1776.2 374.9 L1776.6 379.5 L1776.9 385.9 L1777.2 387.2 L1777.6 393.7 L1777.9 393.4 L1778.2 395.0 L1778.6 402.1 L1778.9 401.3 L1779.2 401.2 L1779.5 405.9 L1779.9 408.2 L1780.2 413.3 L1780.5 417.3 L1780.9 415.3 L1781.2 418.4 L1781.5 418.9 L1781.9 425.5 L1782.2 427.1 L1782.5 424.5 L1782.8 431.0 L1783.2 436.7 L1783.5 446.5 L1783.8 452.9 L1784.2 454.7 L1784.5 458.8 L1784.8 461.3 L1785.2 463.4 L1785.5 466.1 L1785.8 465.7 L1786.1 468.0 L1786.5 475.2 L1786.8 470.6 L1787.1 470.3 L1787.5 463.4 L1787.8 461.2 L1788.1 458.6 L1788.5 453.4 L1788.8 448.3 L1789.1 447.8 L1789.4 443.8 L1789.8 441.5 L1790.1 447.6 L1790.4 448.5 L1790.8 448.7 L1791.1 450.3 L1791.4 453.0 L1791.8 453.2 L1792.1 457.7 L1792.4 452.8 L1792.7 461.7 L1793.1 457.3 L1793.4 447.3 L1793.7 444.1 L1794.1 440.7 L1794.4 433.3 L1794.7 431.8 L1795.1 427.3 L1795.4 426.6 L1795.7 432.2 L1796.0 431.8 L1796.4 428.5 L1796.7 434.2 L1797.0 432.7 L1797.4 438.8 L1797.7 438.7 L1798.0 439.7 L1798.4 447.4 L1798.7 449.2 L1799.0 446.7 L1799.3 446.8 L1799.7 440.0 L1800.0 440.9 L1800.3 438.8 L1800.7 433.8 L1801.0 431.5 L1801.3 429.5 L1801.7 428.9 L1802.0 421.5 L1802.3 430.4 L1802.6 430.0 L1803.0 430.1 L1803.3 424.6 L1803.6 421.8 L1804.0 421.9 L1804.3 411.1 L1804.6 406.4 L1805.0 406.9 L1805.3 405.3 L1805.6 402.3 L1805.9 399.9 L1806.3 396.0 L1806.6 395.1 L1806.9 395.1 L1807.3 391.2 L1807.6 391.3 L1807.9 392.8 L1808.3 394.0 L1808.6 390.7 L1808.9 393.4 L1809.2 399.0 L1809.6 400.7 L1809.9 406.5 L1810.2 413.2 L1810.6 419.7 L1810.9 420.3 L1811.2 415.9 L1811.6 417.2 L1811.9 421.6 L1812.2 418.5 L1812.5 412.2 L1812.9 404.6 L1813.2 402.3 L1813.5 395.3 L1813.9 402.3 L1814.2 404.8 L1814.5 414.2 L1814.9 414.4 L1815.2 420.0 L1815.5 425.9 L1815.8 429.6 L1816.2 421.7 L1816.5 431.1 L1816.8 434.7 L1817.2 427.6 L1817.5 425.5 L1817.8 418.3 L1818.2 417.6 L1818.5 413.2 L1818.8 417.8 L1819.1 411.2 L1819.5 410.1 L1819.8 417.7 L1820.1 423.2 L1820.5 422.5 L1820.8 435.2 L1821.1 442.8 L1821.5 438.3 L1821.8 438.9 L1822.1 441.4 L1822.4 437.5 L1822.8 434.8 L1823.1 444.0 L1823.4 438.5 L1823.8 444.4 L1824.1 445.1 L1824.4 453.1 L1824.8 458.7 L1825.1 465.5 L1825.4 479.0 L1825.7 476.8 L1826.1 469.7 L1826.4 469.0 L1826.7 466.8 L1827.1 461.6 L1827.4 464.2 L1827.7 469.3 L1828.1 469.9 L1828.4 470.5 L1828.7 467.1 L1829.0 464.7 L1829.4 463.9 L1829.7 462.9 L1830.0 463.6 L1830.4 467.7 L1830.7 468.2 L1831.0 471.7 L1831.4 477.5 L1831.7 487.8 L1832.0 487.5 L1832.3 484.2 L1832.7 485.1 L1833.0 484.5 L1833.3 483.6 L1833.7 483.3 L1834.0 483.4 L1834.3 478.8 L1834.7 482.5 L1835.0 479.6 L1835.3 475.4 L1835.6 465.7 L1836.0 466.0 L1836.3 459.7 L1836.6 458.4 L1837.0 454.2 L1837.3 448.5 L1837.6 444.4 L1838.0 443.1 L1838.3 443.8 L1838.6 445.6 L1838.9 438.5 L1839.3 435.0 L1839.6 433.1 L1839.9 428.8 L1840.3 431.4 L1840.6 432.3 L1840.9 426.2 L1841.3 421.3 L1841.6 422.1 L1841.9 419.6 L1842.2 416.3 L1842.6 413.4 L1842.9 408.6 L1843.2 416.8 L1843.6 418.3 L1843.9 413.2 L1844.2 418.7 L1844.6 418.3 L1844.9 420.7 L1845.2 426.6 L1845.5 429.9 L1845.9 433.6 L1846.2 432.1 L1846.5 436.5 L1846.9 433.5 L1847.2 428.2 L1847.5 432.0 L1847.9 424.2 L1848.2 425.3 L1848.5 417.3 L1848.8 417.7 L1849.2 419.2 L1849.5 411.0 L1849.8 406.5 L1850.2 408.5 L1850.5 406.7 L1850.8 409.9 L1851.2 419.4 L1851.5 407.2 L1851.8 408.7 L1852.1 402.6 L1852.5 402.5 L1852.8 395.7 L1853.1 392.5 L1853.5 390.7 L1853.8 393.5 L1854.1 392.4 L1854.5 379.9 L1854.8 388.7 L1855.1 391.4 L1855.4 391.2 L1855.8 395.0 L1856.1 402.7 L1856.4 398.7 L1856.8 403.7 L1857.1 403.9 L1857.4 404.1 L1857.8 401.2 L1858.1 400.1 L1858.4 397.9 L1858.7 394.8 L1859.1 395.2 L1859.4 404.3 L1859.7 406.0 L1860.1 411.9 L1860.4 413.8 L1860.7 411.2 L1861.1 414.7 L1861.4 416.9 L1861.7 412.9 L1862.0 412.2 L1862.4 423.8 L1862.7 425.7 L1863.0 429.8 L1863.4 432.0 L1863.7 435.4 L1864.0 433.6 L1864.4 430.1 L1864.7 419.6 L1865.0 422.7 L1865.3 422.7 L1865.7 424.4 L1866.0 428.9 L1866.3 428.1 L1866.7 428.0 L1867.0 428.8 L1867.3 423.4 L1867.7 418.6 L1868.0 425.0 L1868.3 435.9 L1868.6 452.0 L1869.0 453.8 L1869.3 445.6 L1869.6 436.2 L1870.0 424.3 L1870.3 418.4 L1870.6 417.8 L1871.0 415.8 L1871.3 415.0 L1871.6 417.1 L1871.9 413.4 L1872.3 412.8 L1872.6 416.4 L1872.9 421.6 L1873.3 422.7 L1873.6 425.8 L1873.9 431.3 L1874.3 433.3 L1874.6 433.2 L1874.9 422.7 L1875.2 414.5 L1875.6 413.7 L1875.9 411.4 L1876.2 402.0 L1876.6 405.9 L1876.9 401.4 L1877.2 400.7 L1877.6 405.2 L1877.9 408.9 L1878.2 413.2 L1878.5 416.6 L1878.9 419.1 L1879.2 425.2 L1879.5 421.6 L1879.9 423.3 L1880.2 419.9 L1880.5 418.5 L1880.9 419.7 L1881.2 413.3 L1881.5 421.4 L1881.8 425.7 L1882.2 427.1 L1882.5 434.1 L1882.8 434.5 L1883.2 428.6 L1883.5 424.3 L1883.8 425.9 L1884.2 420.3 L1884.5 415.1 L1884.8 416.8 L1885.1 419.1 L1885.5 418.4 L1885.8 413.0 L1886.1 414.4 L1886.5 415.2 L1886.8 413.3 L1887.1 410.4 L1887.5 413.7 L1887.8 419.9 L1888.1 419.8 L1888.4 422.2 L1888.8 426.5 L1889.1 424.7 L1889.4 421.6 L1889.8 418.6 L1890.1 419.4 L1890.4 425.1 L1890.8 428.2 L1891.1 431.5 L1891.4 438.7 L1891.7 437.2 L1892.1 430.4 L1892.4 431.4 L1892.7 435.3 L1893.1 429.6 L1893.4 429.6 L1893.7 430.9 L1894.1 433.6 L1894.4 439.6 L1894.7 443.2 L1895.0 446.7 L1895.4 450.3 L1895.7 451.8 L1896.0 454.9 L1896.4 450.5 L1896.7 448.3 L1897.0 449.2 L1897.4 438.7 L1897.7 441.4 L1898.0 445.7 L1898.3 446.4 L1898.7 444.3 L1899.0 445.2 L1899.3 442.7 L1899.7 449.4 L1900.0 444.9 L1900.3 439.2 L1900.7 437.6 L1901.0 444.5 L1901.3 445.6 L1901.6 449.7 L1902.0 451.9 L1902.3 455.2 L1902.6 453.2 L1903.0 460.0 L1903.3 454.6 L1903.6 456.1 L1904.0 453.7 L1904.3 445.6 L1904.6 442.7 L1904.9 442.9 L1905.3 443.4 L1905.6 448.8 L1905.9 454.5 L1906.3 451.7 L1906.6 456.1 L1906.9 449.8 L1907.3 447.5 L1907.6 449.8 L1907.9 450.2 L1908.2 444.6 L1908.6 445.0 L1908.9 450.7 L1909.2 446.9 L1909.6 446.5 L1909.9 446.1 L1910.2 442.3 L1910.6 442.7 L1910.9 438.8 L1911.2 439.9 L1911.5 441.7 L1911.9 442.0 L1912.2 443.6 L1912.5 443.5 L1912.9 443.6 L1913.2 438.3 L1913.5 440.1 L1913.9 438.7 L1914.2 436.7 L1914.5 437.4 L1914.8 439.1 L1915.2 440.1 L1915.5 436.2 L1915.8 437.0 L1916.2 431.1 L1916.5 434.3 L1916.8 440.5 L1917.2 434.9 L1917.5 437.0 L1917.8 434.4 L1918.1 435.9 L1918.5 434.3 L1918.8 435.7 L1919.1 427.6 L1919.5 430.3 L1919.8 429.3 L1920.1 431.5 L1920.5 437.7 L1920.8 435.9 L1921.1 436.9 L1921.4 431.3 L1921.8 434.5 L1922.1 432.7 L1922.4 428.3 L1922.8 429.0 L1923.1 437.0 L1923.4 441.6 L1923.8 438.1 L1924.1 443.7 L1924.4 453.1 L1924.7 453.1 L1925.1 454.5 L1925.4 460.5 L1925.7 462.9 L1926.1 455.7 L1926.4 451.6 L1926.7 448.9 L1927.1 449.0 L1927.4 444.6 L1927.7 434.4 L1928.0 433.3 L1928.4 426.4 L1928.7 425.5 L1929.0 426.5 L1929.4 422.9 L1929.7 418.2 L1930.0 415.3 L1930.4 414.1 L1930.7 419.1 L1931.0 414.3 L1931.3 420.0 L1931.7 422.8 L1932.0 426.4 L1932.3 429.5 L1932.7 422.8 L1933.0 419.9 L1933.3 423.6 L1933.7 426.3 L1934.0 426.5 L1934.3 428.8 L1934.6 428.9 L1935.0 424.5 L1935.3 422.4 L1935.9 424.3" stroke="#6495ed" stroke-width="3.3"/>
<path d="M125.6 318.3 L172.1 318.3 L172.1 341.0 L174.9 341.0 L174.9 363.7 L181.1 363.7 L181.1 386.5 L221.1 386.5 L221.1 363.7 L230.7 363.7 L230.7 341.0 L245.4 341.0 L245.4 318.3 L259.1 318.3 L259.1 295.6 L267.5 295.6 L267.5 272.9 L277.3 272.9 L277.3 227.5 L317.8 227.5 L317.8 272.9 L322.7 272.9 L322.7 318.3 L331.1 318.3 L331.1 363.7 L336.2 363.7 L336.2 409.2 L340.9 409.2 L340.9 454.6 L348.5 454.6 L348.5 477.3 L358.1 477.3 L358.1 500.0 L362.8 500.0 L362.8 545.4 L365.4 545.4 L365.4 590.8 L371.6 590.8 L371.6 636.2 L377.7 636.2 L377.7 658.9 L435.5 658.9 L435.5 704.3 L476.0 704.3 L476.0 727.0 L540.9 727.0 L540.9 704.3 L548.1 704.3 L548.1 681.6 L555.4 681.6 L555.4 658.9 L564.1 658.9 L564.1 636.2 L570.1 636.2 L570.1 613.5 L578.8 613.5 L578.8 590.8 L587.2 590.8 L587.2 568.1 L594.6 568.1 L594.6 545.4 L604.8 545.4 L604.8 522.7 L611.8 522.7 L611.8 500.0 L619.1 500.0 L619.1 477.3 L626.5 477.3 L626.5 454.6 L633.8 454.6 L633.8 431.9 L642.4 431.9 L642.4 409.2 L652.2 409.2 L652.2 386.5 L659.8 386.5 L659.8 363.7 L668.5 363.7 L668.5 341.0 L746.7 341.0 L746.7 386.5 L754.2 386.5 L754.2 409.2 L761.4 409.2 L761.4 431.9 L768.7 431.9 L768.7 500.0 L770.1 500.0 L770.1 545.4 L778.5 545.4 L778.5 613.5 L786.0 613.5 L786.0 636.2 L814.2 636.2 L814.2 681.6 L817.8 681.6 L817.8 727.0 L826.2 727.0 L826.2 795.1 L1273.8 795.1 L1273.8 772.4 L1337.4 772.4 L1337.4 749.7 L1353.4 749.7 L1353.4 727.0 L1369.3 727.0 L1369.3 704.3 L1401.2 704.3 L1401.2 681.6 L1418.4 681.6 L1418.4 658.9 L1433.1 658.9 L1433.1 636.2 L1451.5 636.2 L1451.5 613.5 L1466.2 613.5 L1466.2 590.8 L1505.4 590.8 L1505.4 613.5 L1514.0 613.5 L1514.0 636.2 L1521.4 636.2 L1521.4 658.9 L1543.3 658.9 L1543.3 704.3 L1545.3 704.3 L1545.3 795.1 L1673.3 795.1 L1673.3 772.4 L1681.9 772.4 L1681.9 727.0 L1689.2 727.0 L1689.2 658.9 L1696.6 658.9 L1696.6 590.8 L1706.4 590.8 L1706.4 522.7 L1713.7 522.7 L1713.7 454.6 L1721.1 454.6 L1721.1 409.2 L1729.7 409.2 L1729.7 386.5 L1738.3 386.5 L1738.3 363.7 L1745.6 363.7 L1745.6 341.0 L1760.3 341.0 L1760.3 318.3 L1833.8 318.3 L1833.8 363.7 L1842.5 363.7 L1842.5 386.5 L1849.7 386.5 L1849.7 409.2 L1897.5 409.2 L1897.5 431.9 L1904.9 431.9 L1904.9 454.6 L1912.2 454.6 L1912.2 477.3 L1936.4 477.3" stroke="#191970" stroke-width="4.4" stroke-linejoin="round"/>
</g>
<line x1="125.6" x2="125.6" y1="98.0" y2="871.9" stroke="#bcbcbc" stroke-width="2.2"/>
<line x1="124.6" x2="1937.5" y1="870.9" y2="870.9" stroke="#bcbcbc" stroke-width="2.2"/>
<line x1="115.5" x2="124.6" y1="817.8" y2="817.8" stroke="#000" stroke-width="2.4"/>
<text transform="translate(104.0,826.6) scale(1,1.04)" font-size="22.6" text-anchor="end" fill="#000">0.0%</text>
<line x1="115.5" x2="124.6" y1="727.0" y2="727.0" stroke="#000" stroke-width="2.4"/>
<text transform="translate(104.0,735.8) scale(1,1.04)" font-size="22.6" text-anchor="end" fill="#000">1.0%</text>
<line x1="115.5" x2="124.6" y1="636.2" y2="636.2" stroke="#000" stroke-width="2.4"/>
<text transform="translate(104.0,645.0) scale(1,1.04)" font-size="22.6" text-anchor="end" fill="#000">2.0%</text>
<line x1="115.5" x2="124.6" y1="545.4" y2="545.4" stroke="#000" stroke-width="2.4"/>
<text transform="translate(104.0,554.2) scale(1,1.04)" font-size="22.6" text-anchor="end" fill="#000">3.0%</text>
<line x1="115.5" x2="124.6" y1="454.6" y2="454.6" stroke="#000" stroke-width="2.4"/>
<text transform="translate(104.0,463.4) scale(1,1.04)" font-size="22.6" text-anchor="end" fill="#000">4.0%</text>
<line x1="115.5" x2="124.6" y1="363.7" y2="363.7" stroke="#000" stroke-width="2.4"/>
<text transform="translate(104.0,372.5) scale(1,1.04)" font-size="22.6" text-anchor="end" fill="#000">5.0%</text>
<line x1="115.5" x2="124.6" y1="272.9" y2="272.9" stroke="#000" stroke-width="2.4"/>
<text transform="translate(104.0,281.7) scale(1,1.04)" font-size="22.6" text-anchor="end" fill="#000">6.0%</text>
<line x1="115.5" x2="124.6" y1="182.1" y2="182.1" stroke="#000" stroke-width="2.4"/>
<text transform="translate(104.0,190.9) scale(1,1.04)" font-size="22.6" text-anchor="end" fill="#000">7.0%</text>
<line x1="253.5" x2="253.5" y1="871.9" y2="880.9" stroke="#000" stroke-width="2.4"/>
<text transform="translate(253.2,907.2) scale(1,1.04)" font-size="22.6" text-anchor="middle" fill="#000">2000</text>
<line x1="509.3" x2="509.3" y1="871.9" y2="880.9" stroke="#000" stroke-width="2.4"/>
<text transform="translate(509.0,907.2) scale(1,1.04)" font-size="22.6" text-anchor="middle" fill="#000">2004</text>
<line x1="765.1" x2="765.1" y1="871.9" y2="880.9" stroke="#000" stroke-width="2.4"/>
<text transform="translate(764.8,907.2) scale(1,1.04)" font-size="22.6" text-anchor="middle" fill="#000">2008</text>
<line x1="1020.9" x2="1020.9" y1="871.9" y2="880.9" stroke="#000" stroke-width="2.4"/>
<text transform="translate(1020.6,907.2) scale(1,1.04)" font-size="22.6" text-anchor="middle" fill="#000">2012</text>
<line x1="1276.6" x2="1276.6" y1="871.9" y2="880.9" stroke="#000" stroke-width="2.4"/>
<text transform="translate(1276.3,907.2) scale(1,1.04)" font-size="22.6" text-anchor="middle" fill="#000">2016</text>
<line x1="1532.4" x2="1532.4" y1="871.9" y2="880.9" stroke="#000" stroke-width="2.4"/>
<text transform="translate(1532.1,907.2) scale(1,1.04)" font-size="22.6" text-anchor="middle" fill="#000">2020</text>
<line x1="1788.2" x2="1788.2" y1="871.9" y2="880.9" stroke="#000" stroke-width="2.4"/>
<text transform="translate(1787.9,907.2) scale(1,1.04)" font-size="22.6" text-anchor="middle" fill="#000">2024</text>
<text transform="translate(36.2,484.8) rotate(-90) scale(1,1.04)" font-size="22.6" text-anchor="middle" letter-spacing="0.13" fill="#191970">Interest Rate and Bond Yields in %</text>
<text transform="translate(1031.2,41.0) scale(1,1.04)" font-size="28.2" text-anchor="middle" font-weight="bold" letter-spacing="0.2" fill="#000">US, Fed Funds Interest Rate</text>
<rect x="137.1" y="108.6" width="743.2" height="39.7" rx="4.4" ry="4.4" fill="#ffffff" fill-opacity="0.8" stroke="#cccccc" stroke-width="2.2"/>
<line x1="144" x2="193.1" y1="126.5" y2="126.5" stroke="#c41e3a" stroke-width="3.3"/>
<text transform="translate(208.5,134.6) scale(1,1.04)" font-size="22.6" letter-spacing="0.12" fill="#000">2-yr bond yield</text>
<line x1="403" x2="452" y1="126.5" y2="126.5" stroke="#6495ed" stroke-width="3.3"/>
<text transform="translate(469,134.6) scale(1,1.04)" font-size="22.6" letter-spacing="0.12" fill="#000">10-yr bond yield</text>
<line x1="674.5" x2="724" y1="126.5" y2="126.5" stroke="#191970" stroke-width="4.4"/>
<text transform="translate(740.5,134.6) scale(1,1.04)" font-size="22.6" letter-spacing="0.12" fill="#000">Interest Rate</text>
<rect x="1954.7" y="396" width="81.2" height="37.6" rx="7" ry="7" fill="#e6e5e4"/>
<text transform="translate(1994.7,420.7) scale(1,1.04)" font-size="22.6" text-anchor="middle" fill="#000">4.33%</text>
<rect x="1954.7" y="439.2" width="81.2" height="37.7" rx="7" ry="7" fill="#e6e5e4"/>
<text transform="translate(1994.7,464.7) scale(1,1.04)" font-size="22.6" text-anchor="middle" fill="#000">3.84%</text>
<rect x="1954.7" y="478.4" width="81.2" height="37.8" rx="7" ry="7" fill="#e6e5e4"/>
<text transform="translate(1994.7,503.4) scale(1,1.04)" font-size="22.6" text-anchor="middle" fill="#000">3.75%</text>
<text transform="translate(125.3,964.9) scale(1,1.04)" font-size="22.6" letter-spacing="0.12" fill="#808080">Database:</text>
<text transform="translate(125.3,989.3) scale(1,1.04)" font-size="22.6" letter-spacing="0.12" fill="#808080">, Bloomberg Finance L.P.</text>
<text transform="translate(1936,982.2) scale(1,1.04)" font-size="22.6" text-anchor="end" font-weight="bold" letter-spacing="0.14" fill="#000">Source: XTB Research</text>
<rect x="1731.1" y="37" width="61.5" height="61.4" fill="#ff3339"/>
<path d="M1738 61.6 L1756.9 57.9 L1762.2 60.7 L1770.5 54.8 L1786.1 51.7 L1771.9 66.5 L1788.6 83.5 L1773.2 80.7 L1763.1 73 L1753.8 77.7 L1735.6 73.9 L1752.1 67.1 Z" fill="#ffffff"/>
<text x="1804.2" y="83" font-size="54.5" font-weight="bold" fill="#333333" letter-spacing="0.3">xtb</text>
</svg>
</body></html>
